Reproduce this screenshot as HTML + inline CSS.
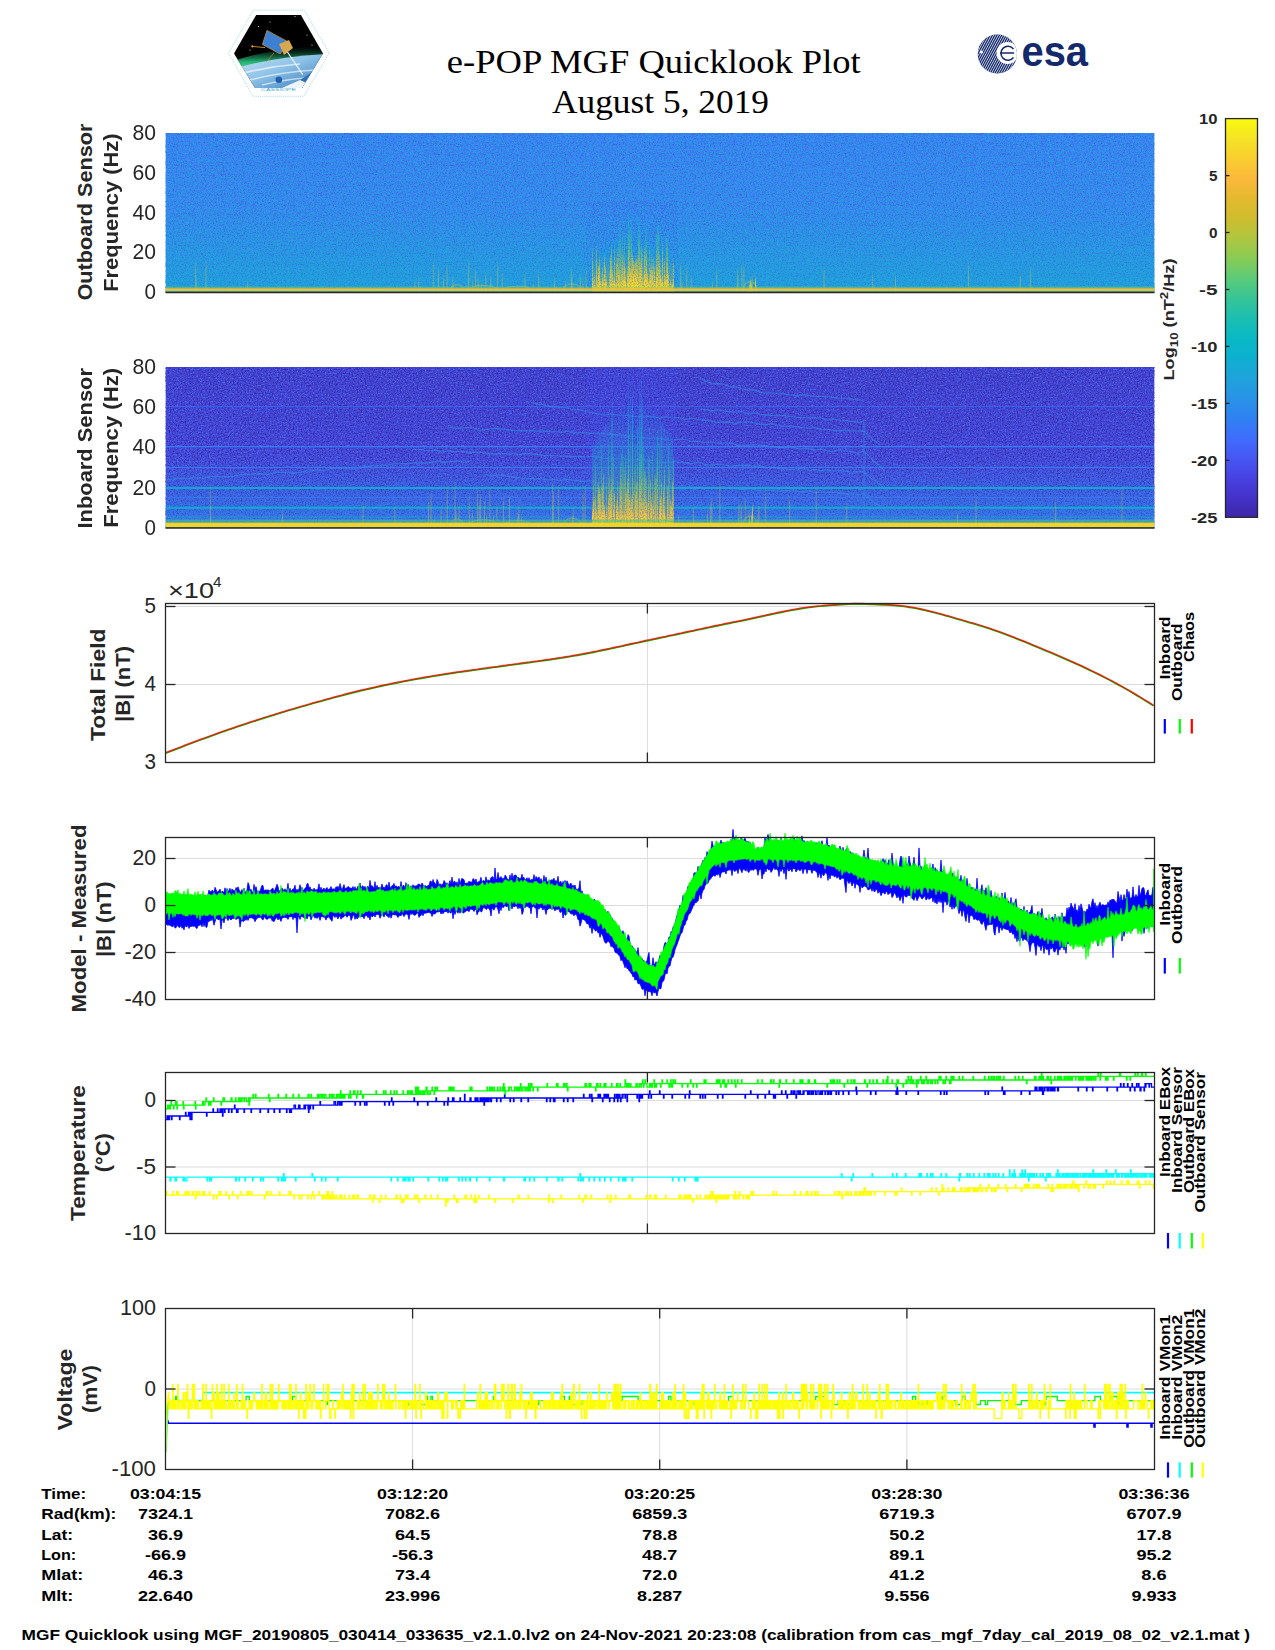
<!DOCTYPE html>
<html><head><meta charset="utf-8"><title>e-POP MGF Quicklook Plot</title>
<style>html,body{margin:0;padding:0;background:#fff;overflow:hidden}svg{display:block}text{font-family:"Liberation Sans",sans-serif}</style>
</head><body>
<svg width="1275" height="1650" viewBox="0 0 1275 1650">
<rect width="1275" height="1650" fill="#fff"/>

<defs>
<linearGradient id="cbar" x1="0" y1="1" x2="0" y2="0"><stop offset="0.0" stop-color="#3E26A8"/><stop offset="0.05" stop-color="#4432C9"/><stop offset="0.1" stop-color="#4742E2"/><stop offset="0.15" stop-color="#4758F2"/><stop offset="0.2" stop-color="#3E6EFD"/><stop offset="0.25" stop-color="#2F82F2"/><stop offset="0.3" stop-color="#2893E6"/><stop offset="0.35" stop-color="#1FA3DB"/><stop offset="0.4" stop-color="#0DB0D0"/><stop offset="0.45" stop-color="#08B9C4"/><stop offset="0.5" stop-color="#1DBFB0"/><stop offset="0.55" stop-color="#37C597"/><stop offset="0.6" stop-color="#5CCB78"/><stop offset="0.65" stop-color="#8ACC55"/><stop offset="0.7" stop-color="#AFC640"/><stop offset="0.75" stop-color="#CFBD2E"/><stop offset="0.8" stop-color="#E4B92E"/><stop offset="0.85" stop-color="#FCB93C"/><stop offset="0.9" stop-color="#F9CE2F"/><stop offset="0.95" stop-color="#F5E325"/><stop offset="1.0" stop-color="#F9FB0E"/></linearGradient>
<filter id="nzT" x="0" y="0" width="100%" height="100%" color-interpolation-filters="sRGB"><feTurbulence type="fractalNoise" baseFrequency="0.75" numOctaves="1" seed="3"/><feColorMatrix type="matrix" values="0 0 0 0 0.1 0 0 0 0 0.68 0 0 0 0 0.84 4.0 0 0 0 -1.75"/></filter>
<filter id="nzP" x="0" y="0" width="100%" height="100%" color-interpolation-filters="sRGB"><feTurbulence type="fractalNoise" baseFrequency="0.75" numOctaves="1" seed="7"/><feColorMatrix type="matrix" values="0 0 0 0 0.28 0 0 0 0 0.34 0 0 0 0 0.98 3.5 0 0 0 -1.6"/></filter>
<filter id="nzD" x="0" y="0" width="100%" height="100%" color-interpolation-filters="sRGB"><feTurbulence type="fractalNoise" baseFrequency="0.9" numOctaves="1" seed="11"/><feColorMatrix type="matrix" values="0 0 0 0 0.24 0 0 0 0 0.15 0 0 0 0 0.6 6.0 0 0 0 -3.5"/></filter>
<filter id="nzL" x="0" y="0" width="100%" height="100%" color-interpolation-filters="sRGB"><feTurbulence type="fractalNoise" baseFrequency="0.75" numOctaves="1" seed="5"/><feColorMatrix type="matrix" values="0 0 0 0 0.29 0 0 0 0 0.45 0 0 0 0 0.97 3.5 0 0 0 -1.6"/></filter>
<filter id="nzQ" x="0" y="0" width="100%" height="100%" color-interpolation-filters="sRGB"><feTurbulence type="fractalNoise" baseFrequency="0.75" numOctaves="1" seed="9"/><feColorMatrix type="matrix" values="0 0 0 0 0.22 0 0 0 0 0.14 0 0 0 0 0.62 4.0 0 0 0 -1.9"/></filter>
<linearGradient id="bo" gradientUnits="userSpaceOnUse" x1="0" y1="292.5" x2="0" y2="200"><stop offset="0" stop-color="#FFE81A"/><stop offset="0.12" stop-color="#F5D22A"/><stop offset="0.3" stop-color="#B8C840"/><stop offset="0.5" stop-color="#45C58C"/><stop offset="0.75" stop-color="#14B2CE" stop-opacity="0.8"/><stop offset="1" stop-color="#2893E6" stop-opacity="0"/></linearGradient>
<linearGradient id="bi" gradientUnits="userSpaceOnUse" x1="0" y1="528" x2="0" y2="367"><stop offset="0" stop-color="#FFE81A"/><stop offset="0.08" stop-color="#F5C83A"/><stop offset="0.22" stop-color="#A8C848"/><stop offset="0.38" stop-color="#35C498"/><stop offset="0.6" stop-color="#12AED0" stop-opacity="0.85"/><stop offset="1" stop-color="#2F82F2" stop-opacity="0"/></linearGradient>
<linearGradient id="lowO" x1="0" y1="0" x2="0" y2="1"><stop offset="0" stop-color="#1AA8D8" stop-opacity="0"/><stop offset="1" stop-color="#12AED0" stop-opacity="0.35"/></linearGradient>
<linearGradient id="lowI" x1="0" y1="0" x2="0" y2="1"><stop offset="0" stop-color="#2F82F2" stop-opacity="0"/><stop offset="1" stop-color="#2893E6" stop-opacity="0.55"/></linearGradient>
<filter id="bl" x="-5%" y="-20%" width="110%" height="140%"><feGaussianBlur stdDeviation="0.35 2.5"/></filter>
<linearGradient id="glowO" x1="0" y1="0" x2="0" y2="1"><stop offset="0" stop-color="#14B2CE" stop-opacity="0"/><stop offset="0.45" stop-color="#14B2CE" stop-opacity="0.6"/><stop offset="0.75" stop-color="#8ACC55" stop-opacity="0.7"/><stop offset="1" stop-color="#F5C83A" stop-opacity="0.9"/></linearGradient>
<linearGradient id="glowI" x1="0" y1="0" x2="0" y2="1"><stop offset="0" stop-color="#2893E6" stop-opacity="0"/><stop offset="0.4" stop-color="#12AED0" stop-opacity="0.6"/><stop offset="0.75" stop-color="#45C58C" stop-opacity="0.7"/><stop offset="1" stop-color="#F5C83A" stop-opacity="0.9"/></linearGradient>
<linearGradient id="obg" x1="0" y1="0" x2="0" y2="1"><stop offset="0" stop-color="#3F84F8"/><stop offset="0.45" stop-color="#3A8CF2"/><stop offset="1" stop-color="#24A2DE"/></linearGradient>
<linearGradient id="ibg" x1="0" y1="0" x2="0" y2="1"><stop offset="0" stop-color="#4240D2"/><stop offset="0.5" stop-color="#4446DA"/><stop offset="1" stop-color="#3F62EC"/></linearGradient>
<clipPath id="c1"><rect x="165.5" y="133" width="989" height="159.5"/></clipPath>
<clipPath id="c2"><rect x="165.5" y="367" width="989" height="161"/></clipPath>
</defs>
<text x="653.8" y="72.9" font-size="34.5" text-anchor="middle" textLength="414" lengthAdjust="spacingAndGlyphs" style='font-family:"Liberation Serif", serif'>e-POP MGF Quicklook Plot</text>
<text x="660.5" y="112.5" font-size="34.5" text-anchor="middle" textLength="217" lengthAdjust="spacingAndGlyphs" style='font-family:"Liberation Serif", serif'>August 5, 2019</text>
<defs><clipPath id="hexc"><polygon points="256.2,14.9 300.9,14.9 323,53.5 302,88 255,88 234,53.5"/></clipPath><linearGradient id="earth" x1="0" y1="0" x2="1" y2="1"><stop offset="0" stop-color="#cfe6f5"/><stop offset="0.45" stop-color="#8fc3e8"/><stop offset="1" stop-color="#2a6fb5"/></linearGradient><linearGradient id="aur" x1="0" y1="0" x2="0" y2="1"><stop offset="0" stop-color="#0b3d2a" stop-opacity="0"/><stop offset="0.6" stop-color="#22b070"/><stop offset="1" stop-color="#7fe0b0"/></linearGradient><clipPath id="esac"><circle cx="997.3" cy="54" r="19.6"/></clipPath></defs>
<polygon points="253.4,10.2 304.2,10.2 329.2,53 303.8,96.3 252.9,96.3 228.5,53" fill="#fff" stroke="#a8d8ea" stroke-width="0.9" stroke-dasharray="1.2,0.9"/>
<g clip-path="url(#hexc)">
<rect x="230" y="12" width="96" height="80" fill="#000"/>
<path d="M230,62 Q275,47 326,46 L326,56 Q275,58 230,72 Z" fill="url(#aur)"/>
<path d="M230,70 Q275,56 326,54 L326,92 L230,92 Z" fill="url(#earth)"/>
<path d="M240,74 Q270,66 300,64 M250,80 Q280,72 315,70 M262,85 Q290,78 320,77" stroke="#ffffff" stroke-width="1.6" fill="none" opacity="0.6"/>
<path d="M282,88 Q300,80 316,73 L322,88 Z" fill="#fff" opacity="0.9"/>
<path d="M300,80 L314,71 L313,86 Z" fill="#2f6fb8"/>
<circle cx="258.5" cy="26.5" r="0.5" fill="#fff"/>
<circle cx="295" cy="16.5" r="0.5" fill="#fff"/>
<circle cx="307" cy="35" r="0.5" fill="#fff"/>
<circle cx="250" cy="50" r="0.5" fill="#fff"/>
<circle cx="282" cy="40" r="0.5" fill="#fff"/>
<circle cx="270" cy="22" r="0.5" fill="#fff"/>
<circle cx="312" cy="45" r="0.5" fill="#fff"/>
<line x1="286" y1="50" x2="302.8" y2="74.6" stroke="#e8f4ff" stroke-width="1.2"/>
<line x1="252" y1="46.4" x2="265" y2="47.6" stroke="#c08030" stroke-width="1"/>
<circle cx="252.3" cy="46.4" r="1.1" fill="#f0a040"/>
<polygon points="267,30.4 287.8,41.7 280.2,53.9 262.4,44.5" fill="#3d7fd0" stroke="#c89040" stroke-width="0.8"/>
<polygon points="279,44 289,40 293,48 284,55" fill="#d8a850"/>
<line x1="274" y1="53" x2="266" y2="62" stroke="#c08030" stroke-width="0.8"/>
<circle cx="278.8" cy="79.8" r="3.3" fill="#1e5fb0"/>
</g>
<text x="261" y="90.6" font-size="4.2" fill="#38a8d8" textLength="35" lengthAdjust="spacingAndGlyphs">CASSIOPE</text>
<g clip-path="url(#esac)"><rect x="976" y="33" width="43" height="43" fill="#13296b"/>
<path d="M955.7,80 L983.7,28 M958.0,80 L986.0,28 M960.3,80 L988.3,28 M962.6,80 L990.6,28 M964.9,80 L992.9,28 M967.2,80 L995.2,28 M969.5,80 L997.5,28 M971.8,80 L999.8,28 M974.1,80 L1002.1,28 M976.4,80 L1004.4,28 M978.7,80 L1006.7,28 M981.0,80 L1009.0,28 M983.3,80 L1011.3,28 M985.6,80 L1013.6,28 M987.9,80 L1015.9,28 M990.2,80 L1018.2,28 M992.5,80 L1020.5,28 M994.8,80 L1022.8,28 M997.1,80 L1025.1,28 M999.4,80 L1027.4,28 M1001.7,80 L1029.7,28 M1004.0,80 L1032.0,28 M1006.3,80 L1034.3,28 M1008.6,80 L1036.6,28 M1010.9,80 L1038.9,28 M1013.2,80 L1041.2,28" stroke="#fff" stroke-width="0.75" fill="none"/>
<circle cx="1007.5" cy="53" r="11" fill="#fff"/>
<path d="M1000,53 H1014 M1013.5,49 A7,7 0 1 0 1013.5,57.5" stroke="#13296b" stroke-width="1.5" fill="none"/>
<circle cx="981.5" cy="52" r="1.6" fill="#fff"/>
</g>
<text x="1021.5" y="65.6" font-size="43" font-weight="bold" fill="#13296b" textLength="66.5" lengthAdjust="spacingAndGlyphs">esa</text>
<g clip-path="url(#c1)">
<rect x="165.5" y="133" width="989" height="159.5" fill="url(#obg)"/>
<rect x="165.5" y="133" width="989" height="159.5" filter="url(#nzT)"/>
<rect x="165.5" y="133" width="989" height="159.5" filter="url(#nzP)" opacity="0.75"/>
<rect x="165.5" y="133" width="989" height="159.5" filter="url(#nzD)" opacity="0.3"/>
<rect x="165.5" y="215" width="989" height="77.5" fill="url(#lowO)"/>
<g filter="url(#bl)">
<path d="M592,292.5 V262 Q635,205 673,255 V292.5 Z" fill="url(#glowO)" opacity="0.5"/>
<path d="M588,292.5V292H589V292H590V292H591V292H592V287H593V278H594V276H595V290H596V271H597V274H598V291H599V256H600V279H601V291H602V270H603V285H604V262H605V280H606V291H607V292H608V289H609V274H610V278H611V285H612V275H613V281H614V285H615V285H616V283H617V288H618V244H619V221H620V198H621V251H622V236H623V254H624V214H625V266H626V289H627V275H628V195H629V247H630V166H631V268H632V271H633V270H634V275H635V292H636V258H637V287H638V290H639V248H640V290H641V255H642V250H643V274H644V246H645V180H646V215H647V279H648V290H649V248H650V269H651V256H652V288H653V255H654V278H655V289H656V288H657V266H658V286H659V263H660V281H661V287H662V240H663V291H664V290H665V280H666V278H667V278H668V289H669V287H670V282H671V290H672V289H673V288H674V292H675V292H676V292.5Z" fill="url(#bo)" opacity="0.45"/>
<path d="M588,292.5V292H589V292H590V292H591V292H592V250H593V286H594V283H595V289H596V245H597V287H598V290H599V289H600V282H601V284H602V281H603V279H604V257H605V268H606V281H607V287H608V288H609V290H610V257H611V246H612V269H613V292H614V247H615V287H616V260H617V253H618V270H619V272H620V285H621V274H622V262H623V292H624V271H625V281H626V285H627V271H628V203H629V232H630V268H631V213H632V280H633V263H634V264H635V262H636V260H637V258H638V213H639V284H640V282H641V247H642V280H643V288H644V292H645V282H646V292H647V279H648V281H649V280H650V287H651V274H652V269H653V285H654V289H655V282H656V235H657V221H658V225H659V256H660V268H661V289H662V251H663V285H664V261H665V278H666V238H667V244H668V273H669V290H670V290H671V286H672V289H673V262H674V292H675V292H676V292.5Z" fill="url(#bo)" opacity="0.7"/>
<path d="M588,292.5V292H589V292H590V292H591V292H592V285H593V288H594V288H595V287H596V287H597V290H598V266H599V266H600V286H601V285H602V288H603V289H604V289H605V290H606V281H607V291H608V289H609V288H610V260H611V290H612V292H613V282H614V281H615V284H616V292H617V290H618V290H619V284H620V291H621V290H622V283H623V280H624V267H625V278H626V289H627V283H628V284H629V288H630V270H631V274H632V255H633V262H634V276H635V263H636V269H637V274H638V290H639V286H640V263H641V291H642V290H643V286H644V250H645V272H646V252H647V274H648V284H649V290H650V269H651V288H652V267H653V284H654V269H655V292H656V274H657V280H658V287H659V292H660V277H661V280H662V282H663V285H664V276H665V286H666V283H667V268H668V288H669V288H670V282H671V291H672V283H673V292H674V292H675V292H676V292.5Z" fill="url(#bo)" opacity="0.9"/>
<path d="M740,292.5V292H741V292H742V292H743V292H744V292H745V292H746V292H747V290H748V290H749V285H750V281H751V284H752V290H753V292H754V292H755V279H756V291H757V292H758V291H759V292H760V292.5Z" fill="url(#bo)" opacity="0.8"/>
<rect x="627.8" y="200" width="1.2" height="92" fill="url(#bo)" opacity="0.7"/>
<rect x="639" y="205" width="1.2" height="87" fill="url(#bo)" opacity="0.7"/>
</g>
<g filter="url(#bl)">
<path d="M582.4,292.5v-12h1v12zM468.0,292.5v-25h1v25zM443.0,292.5v-15h1v15zM432.9,292.5v-30h1v30zM579.7,292.5v-16h1v16zM437.9,292.5v-23h1v23zM554.0,292.5v-13h1v13zM446.5,292.5v-26h1v26zM565.1,292.5v-11h1v11zM418.3,292.5v-13h1v13zM477.4,292.5v-13h1v13zM481.2,292.5v-9h1v9zM585.7,292.5v-24h1v24zM571.4,292.5v-16h1v16zM478.0,292.5v-9h1v9zM485.3,292.5v-19h1v19zM538.2,292.5v-18h1v18zM524.5,292.5v-18h1v18zM570.7,292.5v-23h1v23zM533.1,292.5v-8h1v8zM501.8,292.5v-18h1v18zM571.9,292.5v-7h1v7zM468.2,292.5v-29h1v29zM474.9,292.5v-22h1v22zM472.0,292.5v-10h1v10zM497.1,292.5v-28h1v28zM414.3,292.5v-10h1v10zM490.4,292.5v-15h1v15zM465.6,292.5v-7h1v7zM452.3,292.5v-15h1v15zM737.4,292.5v-15h1v15zM686.2,292.5v-25h1v25zM741.3,292.5v-27h1v27zM711.9,292.5v-10h1v10zM743.4,292.5v-25h1v25zM690.6,292.5v-15h1v15zM751.8,292.5v-15h1v15zM737.1,292.5v-22h1v22zM680.1,292.5v-29h1v29zM716.3,292.5v-22h1v22zM681.5,292.5v-11h1v11zM736.7,292.5v-6h1v6zM205.4,292.5v-29h1v29zM247.2,292.5v-10h1v10zM195.7,292.5v-14h1v14zM195.1,292.5v-29h1v29zM968.1,292.5v-28h1v28zM1030.1,292.5v-24h1v24zM872.2,292.5v-17h1v17zM1019.8,292.5v-17h1v17zM823.6,292.5v-24h1v24zM895.0,292.5v-16h1v16z" fill="url(#bo)" opacity="0.35"/>
</g>
<path d="M451,288.5 C453.4,283.5 460.6,283.5 463,288.5 M469,288.5 C474.6,284.5 491.4,284.5 497,288.5 M505,288.5 C510.0,285.5 525.0,285.5 530,288.5 M563,288.5 C566.6,282.5 577.4,282.5 581,288.5 M743,288.5 C745.8,279.5 754.2,279.5 757,288.5" fill="none" stroke="#C8C840" stroke-width="1.2" opacity="0.5"/>
<rect x="586" y="200" width="92" height="92.5" filter="url(#nzP)" opacity="0.5"/>
<rect x="165.5" y="288.3" width="989" height="2.6" fill="#F7BE38"/>
<rect x="165.5" y="286.6" width="989" height="1.7" fill="#8ACC55" opacity="0.5"/>
<rect x="165.5" y="291.2" width="989" height="1.3" fill="#37C597" opacity="0.8"/>
</g>
<g clip-path="url(#c2)">
<rect x="165.5" y="367" width="989" height="161" fill="url(#ibg)"/>
<rect x="165.5" y="367" width="989" height="161" filter="url(#nzL)"/>
<rect x="165.5" y="367" width="989" height="161" filter="url(#nzQ)"/>
<rect x="165.5" y="460" width="989" height="68" fill="url(#lowI)"/>
<line x1="165.5" y1="406.5" x2="1154.5" y2="406.5" stroke="#3A73FC" stroke-width="1" opacity="0.6"/>
<line x1="165.5" y1="446.6" x2="1154.5" y2="446.6" stroke="#3A80F8" stroke-width="1.1" opacity="0.9"/>
<line x1="165.5" y1="467.5" x2="1154.5" y2="467.5" stroke="#3585F2" stroke-width="1.0" opacity="0.8"/>
<line x1="165.5" y1="488" x2="1154.5" y2="488" stroke="#0DB0D0" stroke-width="2" opacity="0.9"/>
<line x1="165.5" y1="497.4" x2="1154.5" y2="497.4" stroke="#3A80F8" stroke-width="1.0" opacity="0.7"/>
<line x1="165.5" y1="507.8" x2="1154.5" y2="507.8" stroke="#0DB0D0" stroke-width="2" opacity="0.95"/>
<line x1="165.5" y1="517" x2="1154.5" y2="517" stroke="#1FA3DB" stroke-width="1.5" opacity="0.5"/>
<path d="M167,479.3 173,479.2 179,478.1 185,478.4 191,478.1 197,477.5 203,478.4 209,476.9 215,476.3 221,476.5 227,476.9 234,476.1 240,474.9 246,474.3 252,474.0 258,473.8 264,474.1 270,474.1 276,471.9 282,472.9 288,472.0 294,472.7 300,472.5 306,471.0 312,470.7 319,469.9 325,470.2 331,468.5 337,468.3 344,468.1 350,468.7 356,468.9 362,467.0 368,465.8 375,466.0 381,465.0 387,465.3 393,463.8 400,463.8 406,463.5 412,463.3 418,462.7 425,463.3 431,462.4 438,461.0 444,462.4 451,461.5 457,461.0 464,462.1 470,461.0 M531,402.4 537,404.0 543,404.4 549,406.6 555,406.4 561,407.7 568,407.7 574,410.3 580,409.7 586,411.8 592,412.8 598,413.8 604,415.1 610,413.7 617,415.0 623,415.2 629,415.7 635,416.5 642,416.2 648,416.1 654,416.9 660,418.2 667,416.9 673,418.0 679,417.8 685,419.5 692,418.3 698,419.5 704,420.1 710,420.6 716,422.4 723,422.4 729,421.2 735,423.6 741,422.0 748,422.0 754,422.7 760,424.1 766,424.8 772,423.6 778,425.7 784,425.7 791,426.8 797,426.6 803,427.8 809,428.1 815,427.5 821,429.6 827,429.3 833,430.1 840,430.9 846,430.0 852,431.0 858,431.0 864,431.4 872,438.7 880,445.0 M448,427.2 454,428.1 460,428.4 466,427.8 472,427.6 478,430.3 484,429.9 490,428.8 496,428.6 502,429.2 508,429.9 514,430.6 520,430.8 526,430.8 532,430.6 538,431.1 544,431.1 550,431.6 556,431.8 562,432.4 568,431.3 574,432.4 580,432.7 586,432.5 592,433.4 598,433.1 604,433.6 610,434.4 617,434.9 623,435.3 629,436.8 635,436.8 642,437.5 648,438.0 654,438.0 660,438.4 667,440.0 673,439.8 679,439.4 685,439.5 692,441.4 698,441.3 704,442.1 710,442.2 716,442.8 723,443.3 729,443.1 735,444.3 741,445.3 748,445.6 754,444.5 760,445.2 766,445.6 772,446.6 778,447.6 784,447.6 791,446.7 797,448.2 803,449.0 809,448.6 815,450.3 821,449.1 827,450.6 833,451.6 840,449.8 846,450.7 852,451.6 858,453.6 864,450.9 871,458.3 877,464.2 884,470.0 M412,449.7 418,449.7 424,450.2 430,450.5 436,450.2 442,452.1 448,450.7 454,451.4 460,451.5 466,451.9 472,452.4 478,452.1 484,452.7 490,454.1 496,453.9 502,453.3 508,454.3 514,453.5 520,454.4 526,453.6 532,454.0 538,454.4 544,455.9 550,455.5 556,456.0 562,456.0 568,456.3 574,456.6 580,457.0 586,456.9 592,456.5 598,456.8 604,458.2 610,458.8 617,458.7 623,457.7 629,460.1 635,459.7 642,459.9 648,460.4 654,460.5 660,462.2 667,462.6 673,461.4 679,462.2 685,462.9 692,463.8 698,462.0 704,464.3 710,465.1 716,464.3 723,464.8 729,466.0 735,465.8 741,465.1 748,465.6 754,466.0 760,466.1 766,467.3 772,467.3 778,467.9 784,468.6 791,469.5 797,468.9 803,467.9 809,470.2 815,469.6 821,470.6 827,470.0 833,470.7 840,470.7 846,471.1 852,472.2 858,471.3 864,472.1 871,478.1 879,483.8 886,490.0 M485,474.2 491,476.1 498,474.5 504,475.7 510,476.7 516,477.6 523,478.3 529,478.6 535,478.9 541,478.7 548,480.0 554,479.5 560,480.7 566,479.1 573,480.2 579,480.8 585,481.6 591,480.5 598,482.8 604,483.3 610,483.5 617,483.0 623,484.5 629,483.6 635,484.7 642,484.5 648,484.8 654,485.0 660,485.4 667,486.4 673,486.9 679,487.1 685,487.1 692,487.2 698,487.4 704,488.5 710,487.4 716,487.6 723,488.3 729,487.6 735,488.7 741,489.1 748,488.8 754,489.4 760,490.4 766,490.1 772,490.5 778,491.3 784,490.6 791,490.5 797,491.4 803,491.9 809,490.8 815,492.5 821,492.2 827,492.3 833,492.3 840,492.9 846,493.9 852,493.8 858,494.2 864,493.8 870,499.4 876,503.8 882,507.5 888,512.0 M700,378.4 706,381.2 712,384.0 718,383.6 724,384.2 730,387.0 736,386.8 742,388.7 748,390.1 754,389.9 760,392.1 766,393.2 772,392.7 778,393.8 784,393.9 791,395.0 797,395.9 803,394.6 809,395.6 815,396.5 821,396.3 827,396.7 833,397.4 840,398.0 846,398.2 852,399.3 858,400.0 864,400.0 M700,409.4 706,409.9 712,410.7 718,409.7 724,410.9 730,411.6 736,412.3 742,411.5 748,414.1 754,413.0 760,414.2 766,414.9 772,415.6 778,415.0 784,415.6 791,416.6 797,417.2 803,417.8 809,417.7 815,417.8 821,417.9 827,420.2 833,418.8 840,420.5 846,420.8 852,421.5 858,422.1 864,422.0" fill="none" stroke="#2F9AE8" stroke-width="1.1" opacity="0.55"/>
<line x1="864" y1="420" x2="864" y2="528" stroke="#2893E6" stroke-width="1" opacity="0.6"/>
<g filter="url(#bl)">
<path d="M592,528 V450 Q632,360 673,440 V528 Z" fill="url(#glowI)" opacity="0.55"/>
<path d="M588,528V528H589V528H590V528H591V528H592V509H593V483H594V497H595V465H596V509H597V487H598V492H599V522H600V526H601V446H602V514H603V507H604V519H605V528H606V484H607V509H608V442H609V477H610V521H611V413H612V387H613V457H614V521H615V521H616V503H617V484H618V508H619V486H620V491H621V455H622V444H623V462H624V470H625V479H626V527H627V479H628V469H629V516H630V342H631V524H632V389H633V488H634V467H635V447H636V524H637V504H638V498H639V525H640V455H641V376H642V397H643V447H644V516H645V512H646V479H647V503H648V461H649V458H650V508H651V500H652V452H653V492H654V475H655V518H656V467H657V486H658V518H659V443H660V525H661V427H662V503H663V515H664V509H665V522H666V523H667V500H668V443H669V467H670V500H671V523H672V505H673V525H674V528H675V528H676V528Z" fill="url(#bi)" opacity="0.45"/>
<path d="M588,528V528H589V528H590V528H591V528H592V528H593V520H594V515H595V501H596V524H597V516H598V484H599V525H600V492H601V517H602V506H603V475H604V507H605V515H606V513H607V525H608V499H609V490H610V492H611V518H612V525H613V507H614V521H615V522H616V523H617V522H618V511H619V519H620V465H621V483H622V524H623V527H624V513H625V456H626V492H627V479H628V520H629V499H630V503H631V513H632V393H633V521H634V524H635V497H636V527H637V427H638V527H639V462H640V487H641V400H642V502H643V500H644V470H645V474H646V515H647V522H648V487H649V525H650V481H651V510H652V525H653V517H654V527H655V478H656V521H657V434H658V524H659V525H660V506H661V484H662V525H663V520H664V468H665V517H666V520H667V489H668V522H669V521H670V501H671V520H672V482H673V459H674V528H675V528H676V528Z" fill="url(#bi)" opacity="0.7"/>
<path d="M588,528V528H589V528H590V528H591V528H592V511H593V501H594V519H595V526H596V513H597V521H598V522H599V489H600V506H601V513H602V487H603V512H604V507H605V525H606V522H607V523H608V514H609V523H610V508H611V485H612V523H613V519H614V494H615V525H616V506H617V496H618V518H619V516H620V525H621V522H622V513H623V517H624V517H625V510H626V528H627V522H628V524H629V496H630V528H631V499H632V515H633V515H634V524H635V495H636V484H637V528H638V527H639V488H640V524H641V512H642V518H643V523H644V511H645V506H646V502H647V521H648V523H649V527H650V526H651V504H652V527H653V507H654V525H655V519H656V526H657V524H658V523H659V509H660V497H661V516H662V516H663V490H664V508H665V524H666V525H667V519H668V516H669V518H670V519H671V505H672V527H673V524H674V528H675V528H676V528Z" fill="url(#bi)" opacity="0.9"/>
<path d="M740,528V528H741V528H742V528H743V528H744V528H745V528H746V528H747V527H748V524H749V519H750V524H751V516H752V507H753V527H754V526H755V527H756V526H757V527H758V528H759V528H760V528Z" fill="url(#bi)" opacity="0.8"/>
<rect x="627.8" y="367" width="1.3" height="161" fill="url(#bi)" opacity="0.8"/>
<rect x="639.2" y="367" width="1.3" height="161" fill="url(#bi)" opacity="0.8"/>
</g>
<g filter="url(#bl)">
<path d="M518.4,528v-22h1v22zM471.8,528v-16h1v16zM458.6,528v-18h1v18zM502.9,528v-29h1v29zM440.5,528v-19h1v19zM480.0,528v-32h1v32zM446.8,528v-40h1v40zM430.5,528v-35h1v35zM584.7,528v-41h1v41zM557.9,528v-41h1v41zM582.5,528v-36h1v36zM484.0,528v-26h1v26zM455.4,528v-16h1v16zM571.8,528v-10h1v10zM454.5,528v-22h1v22zM486.1,528v-12h1v12zM521.0,528v-12h1v12zM446.6,528v-19h1v19zM496.4,528v-21h1v21zM552.0,528v-44h1v44zM517.2,528v-13h1v13zM468.7,528v-31h1v31zM434.0,528v-9h1v9zM489.4,528v-39h1v39zM492.8,528v-12h1v12zM458.5,528v-22h1v22zM478.8,528v-26h1v26zM477.1,528v-37h1v37zM428.0,528v-26h1v26zM572.7,528v-18h1v18zM552.9,528v-37h1v37zM518.2,528v-15h1v15zM454.6,528v-44h1v44zM509.0,528v-32h1v32zM678.1,528v-13h1v13zM756.5,528v-10h1v10zM748.5,528v-19h1v19zM693.0,528v-20h1v20zM758.4,528v-22h1v22zM711.3,528v-29h1v29zM758.1,528v-18h1v18zM719.3,528v-44h1v44zM710.1,528v-22h1v22zM707.1,528v-16h1v16zM738.4,528v-23h1v23zM740.6,528v-25h1v25zM744.8,528v-28h1v28zM740.8,528v-15h1v15zM281.9,528v-17h1v17zM394.3,528v-20h1v20zM210.0,528v-41h1v41zM362.5,528v-25h1v25zM1121.5,528v-39h1v39zM765.3,528v-36h1v36zM975.5,528v-29h1v29zM789.0,528v-30h1v30zM957.0,528v-15h1v15zM1055.2,528v-27h1v27zM815.7,528v-41h1v41zM846.2,528v-24h1v24z" fill="url(#bi)" opacity="0.35"/>
</g>
<path d="M451,523.5 C453.4,517.5 460.6,517.5 463,523.5 M469,523.5 C474.6,518.5 491.4,518.5 497,523.5 M505,523.5 C510.0,519.5 525.0,519.5 530,523.5 M563,523.5 C566.6,516.5 577.4,516.5 581,523.5 M743,523.5 C745.8,513.5 754.2,513.5 757,523.5" fill="none" stroke="#C8C840" stroke-width="1.2" opacity="0.5"/>
<rect x="586" y="367" width="92" height="161" filter="url(#nzP)" opacity="0.5"/>
<rect x="165.5" y="522.5" width="989" height="4.5" fill="#F5D22A"/>
<rect x="165.5" y="519.5" width="989" height="3" fill="#45C58C" opacity="0.6"/>
<rect x="165.5" y="527" width="989" height="1" fill="#37C597" opacity="0.8"/>
</g>
<rect x="1225.5" y="118.6" width="32" height="398.7" fill="url(#cbar)" stroke="#262626" stroke-width="1.3"/>
<text x="1217.5" y="124.1" font-size="15" font-weight="bold" text-anchor="end" textLength="18.5" lengthAdjust="spacingAndGlyphs" fill="#262626">10</text>
<line x1="1225.5" y1="175.6" x2="1229.5" y2="175.6" stroke="#262626" stroke-width="1.3"/>
<text x="1217.5" y="181.1" font-size="15" font-weight="bold" text-anchor="end" textLength="8.5" lengthAdjust="spacingAndGlyphs" fill="#262626">5</text>
<line x1="1225.5" y1="232.5" x2="1229.5" y2="232.5" stroke="#262626" stroke-width="1.3"/>
<text x="1217.5" y="238" font-size="15" font-weight="bold" text-anchor="end" textLength="8.5" lengthAdjust="spacingAndGlyphs" fill="#262626">0</text>
<line x1="1225.5" y1="289.5" x2="1229.5" y2="289.5" stroke="#262626" stroke-width="1.3"/>
<text x="1217.5" y="295" font-size="15" font-weight="bold" text-anchor="end" textLength="18.5" lengthAdjust="spacingAndGlyphs" fill="#262626">-5</text>
<line x1="1225.5" y1="346.4" x2="1229.5" y2="346.4" stroke="#262626" stroke-width="1.3"/>
<text x="1217.5" y="351.9" font-size="15" font-weight="bold" text-anchor="end" textLength="26.5" lengthAdjust="spacingAndGlyphs" fill="#262626">-10</text>
<line x1="1225.5" y1="403.4" x2="1229.5" y2="403.4" stroke="#262626" stroke-width="1.3"/>
<text x="1217.5" y="408.9" font-size="15" font-weight="bold" text-anchor="end" textLength="26.5" lengthAdjust="spacingAndGlyphs" fill="#262626">-15</text>
<line x1="1225.5" y1="460.3" x2="1229.5" y2="460.3" stroke="#262626" stroke-width="1.3"/>
<text x="1217.5" y="465.8" font-size="15" font-weight="bold" text-anchor="end" textLength="26.5" lengthAdjust="spacingAndGlyphs" fill="#262626">-20</text>
<text x="1217.5" y="522.8" font-size="15" font-weight="bold" text-anchor="end" textLength="26.5" lengthAdjust="spacingAndGlyphs" fill="#262626">-25</text>
<g transform="translate(1173.5,319.5) rotate(-90)"><text font-size="15" font-weight="bold" fill="#262626" text-anchor="middle" textLength="122" lengthAdjust="spacingAndGlyphs">Log<tspan font-size="11" dy="4">10</tspan><tspan dy="-4"> (nT</tspan><tspan font-size="11" dy="-6">2</tspan><tspan dy="6">/Hz)</tspan></text></g>
<line x1="165.5" y1="292.5" x2="1154.5" y2="292.5" stroke="#262626" stroke-width="1.3"/>
<text x="156" y="299.3" font-size="22" text-anchor="end" textLength="11.5" lengthAdjust="spacingAndGlyphs" fill="#262626">0</text>
<text x="156" y="259.4" font-size="22" text-anchor="end" textLength="23.5" lengthAdjust="spacingAndGlyphs" fill="#262626">20</text>
<text x="156" y="219.6" font-size="22" text-anchor="end" textLength="23.5" lengthAdjust="spacingAndGlyphs" fill="#262626">40</text>
<text x="156" y="179.7" font-size="22" text-anchor="end" textLength="23.5" lengthAdjust="spacingAndGlyphs" fill="#262626">60</text>
<text x="156" y="139.8" font-size="22" text-anchor="end" textLength="23.5" lengthAdjust="spacingAndGlyphs" fill="#262626">80</text>
<line x1="165.5" y1="528.0" x2="1154.5" y2="528.0" stroke="#262626" stroke-width="1.3"/>
<text x="156" y="534.8" font-size="22" text-anchor="end" textLength="11.5" lengthAdjust="spacingAndGlyphs" fill="#262626">0</text>
<text x="156" y="494.6" font-size="22" text-anchor="end" textLength="23.5" lengthAdjust="spacingAndGlyphs" fill="#262626">20</text>
<text x="156" y="454.3" font-size="22" text-anchor="end" textLength="23.5" lengthAdjust="spacingAndGlyphs" fill="#262626">40</text>
<text x="156" y="414.1" font-size="22" text-anchor="end" textLength="23.5" lengthAdjust="spacingAndGlyphs" fill="#262626">60</text>
<text x="156" y="373.8" font-size="22" text-anchor="end" textLength="23.5" lengthAdjust="spacingAndGlyphs" fill="#262626">80</text>
<text transform="translate(92.3,212) rotate(-90)" font-size="19.3" font-weight="bold" text-anchor="middle" textLength="177" lengthAdjust="spacingAndGlyphs" fill="#262626">Outboard Sensor</text>
<text transform="translate(117.8,212.6) rotate(-90)" font-size="19.3" font-weight="bold" text-anchor="middle" textLength="158.5" lengthAdjust="spacingAndGlyphs" fill="#262626">Frequency (Hz)</text>
<text transform="translate(92.3,448.3) rotate(-90)" font-size="19.3" font-weight="bold" text-anchor="middle" textLength="160.5" lengthAdjust="spacingAndGlyphs" fill="#262626">Inboard Sensor</text>
<text transform="translate(117.8,447.8) rotate(-90)" font-size="19.3" font-weight="bold" text-anchor="middle" textLength="160" lengthAdjust="spacingAndGlyphs" fill="#262626">Frequency (Hz)</text>
<line x1="165.5" y1="762.5" x2="1154.5" y2="762.5" stroke="#dcdcdc" stroke-width="1"/>
<line x1="165.5" y1="684.5" x2="1154.5" y2="684.5" stroke="#dcdcdc" stroke-width="1"/>
<line x1="165.5" y1="606.5" x2="1154.5" y2="606.5" stroke="#dcdcdc" stroke-width="1"/>
<line x1="647.4" y1="603.5" x2="647.4" y2="762.5" stroke="#dcdcdc" stroke-width="1"/>
<polyline points="165.5,753.4 169.5,751.8 173.5,750.3 177.5,748.7 181.5,747.2 185.5,745.6 189.5,744.1 193.5,742.6 197.5,741.1 201.5,739.6 205.5,738.2 209.5,736.7 213.5,735.3 217.5,733.8 221.5,732.4 225.5,731.0 229.5,729.6 233.5,728.3 237.5,726.9 241.5,725.5 245.5,724.2 249.5,722.9 253.5,721.6 257.5,720.3 261.5,719.0 265.5,717.7 269.5,716.5 273.5,715.3 277.5,714.0 281.5,712.8 285.5,711.6 289.5,710.4 293.5,709.2 297.5,708.0 301.5,706.9 305.5,705.7 309.5,704.6 313.5,703.4 317.5,702.3 321.5,701.2 325.5,700.0 329.5,699.0 333.5,697.9 337.5,696.8 341.5,695.8 345.5,694.7 349.5,693.7 353.5,692.7 357.5,691.7 361.5,690.7 365.5,689.8 369.5,688.9 373.5,688.0 377.5,687.1 381.5,686.2 385.5,685.3 389.5,684.5 393.5,683.7 397.5,682.9 401.5,682.1 405.5,681.3 409.5,680.6 413.5,679.8 417.5,679.1 421.5,678.4 425.5,677.7 429.5,677.0 433.5,676.3 437.5,675.7 441.5,675.0 445.5,674.4 449.5,673.8 453.5,673.2 457.5,672.6 461.5,672.0 465.5,671.4 469.5,670.9 473.5,670.3 477.5,669.8 481.5,669.2 485.5,668.7 489.5,668.1 493.5,667.5 497.5,667.0 501.5,666.4 505.5,665.9 509.5,665.3 513.5,664.8 517.5,664.3 521.5,663.7 525.5,663.2 529.5,662.7 533.5,662.1 537.5,661.6 541.5,661.0 545.5,660.4 549.5,659.9 553.5,659.3 557.5,658.7 561.5,658.1 565.5,657.4 569.5,656.8 573.5,656.1 577.5,655.4 581.5,654.7 585.5,653.9 589.5,653.2 593.5,652.4 597.5,651.6 601.5,650.7 605.5,649.9 609.5,649.1 613.5,648.2 617.5,647.3 621.5,646.5 625.5,645.6 629.5,644.7 633.5,643.8 637.5,643.0 641.5,642.1 645.5,641.2 649.5,640.4 653.5,639.5 657.5,638.7 661.5,637.8 665.5,637.0 669.5,636.1 673.5,635.3 677.5,634.4 681.5,633.6 685.5,632.7 689.5,631.8 693.5,631.0 697.5,630.1 701.5,629.3 705.5,628.4 709.5,627.6 713.5,626.7 717.5,625.9 721.5,625.1 725.5,624.2 729.5,623.4 733.5,622.6 737.5,621.8 741.5,621.0 745.5,620.2 749.5,619.3 753.5,618.4 757.5,617.5 761.5,616.7 765.5,615.8 769.5,614.9 773.5,614.1 777.5,613.2 781.5,612.4 785.5,611.6 789.5,610.8 793.5,610.1 797.5,609.4 801.5,608.7 805.5,608.1 809.5,607.6 813.5,607.1 817.5,606.6 821.5,606.3 825.5,605.9 829.5,605.6 833.5,605.3 837.5,605.0 841.5,604.7 845.5,604.5 849.5,604.3 853.5,604.2 857.5,604.2 861.5,604.2 865.5,604.3 869.5,604.4 873.5,604.5 877.5,604.7 881.5,604.9 885.5,605.1 889.5,605.3 893.5,605.6 897.5,605.9 901.5,606.3 905.5,606.8 909.5,607.4 913.5,608.1 917.5,608.8 921.5,609.7 925.5,610.6 929.5,611.5 933.5,612.5 937.5,613.6 941.5,614.6 945.5,615.8 949.5,616.9 953.5,618.0 957.5,619.2 961.5,620.4 965.5,621.5 969.5,622.7 973.5,623.8 977.5,625.0 981.5,626.2 985.5,627.5 989.5,628.8 993.5,630.2 997.5,631.6 1001.5,633.0 1005.5,634.5 1009.5,636.1 1013.5,637.6 1017.5,639.2 1021.5,640.8 1025.5,642.4 1029.5,644.0 1033.5,645.7 1037.5,647.4 1041.5,649.0 1045.5,650.7 1049.5,652.4 1053.5,654.0 1057.5,655.7 1061.5,657.5 1065.5,659.2 1069.5,661.0 1073.5,662.8 1077.5,664.6 1081.5,666.4 1085.5,668.3 1089.5,670.2 1093.5,672.2 1097.5,674.1 1101.5,676.1 1105.5,678.2 1109.5,680.2 1113.5,682.3 1117.5,684.5 1121.5,686.7 1125.5,688.9 1129.5,691.2 1133.5,693.6 1137.5,696.0 1141.5,698.4 1145.5,700.9 1149.5,703.3 1153.5,705.9" fill="none" stroke="#00c000" stroke-width="1.5"/>
<polyline points="165.5,752.8 169.5,751.2 173.5,749.7 177.5,748.1 181.5,746.6 185.5,745.0 189.5,743.5 193.5,742.0 197.5,740.5 201.5,739.0 205.5,737.6 209.5,736.1 213.5,734.7 217.5,733.2 221.5,731.8 225.5,730.4 229.5,729.0 233.5,727.7 237.5,726.3 241.5,724.9 245.5,723.6 249.5,722.3 253.5,721.0 257.5,719.7 261.5,718.4 265.5,717.1 269.5,715.9 273.5,714.7 277.5,713.4 281.5,712.2 285.5,711.0 289.5,709.8 293.5,708.6 297.5,707.4 301.5,706.3 305.5,705.1 309.5,704.0 313.5,702.8 317.5,701.7 321.5,700.6 325.5,699.4 329.5,698.4 333.5,697.3 337.5,696.2 341.5,695.2 345.5,694.1 349.5,693.1 353.5,692.1 357.5,691.1 361.5,690.1 365.5,689.2 369.5,688.3 373.5,687.4 377.5,686.5 381.5,685.6 385.5,684.7 389.5,683.9 393.5,683.1 397.5,682.3 401.5,681.5 405.5,680.7 409.5,680.0 413.5,679.2 417.5,678.5 421.5,677.8 425.5,677.1 429.5,676.4 433.5,675.7 437.5,675.1 441.5,674.4 445.5,673.8 449.5,673.2 453.5,672.6 457.5,672.0 461.5,671.4 465.5,670.8 469.5,670.3 473.5,669.7 477.5,669.2 481.5,668.6 485.5,668.1 489.5,667.5 493.5,666.9 497.5,666.4 501.5,665.8 505.5,665.3 509.5,664.7 513.5,664.2 517.5,663.7 521.5,663.1 525.5,662.6 529.5,662.1 533.5,661.5 537.5,661.0 541.5,660.4 545.5,659.8 549.5,659.3 553.5,658.7 557.5,658.1 561.5,657.5 565.5,656.8 569.5,656.2 573.5,655.5 577.5,654.8 581.5,654.1 585.5,653.3 589.5,652.6 593.5,651.8 597.5,651.0 601.5,650.1 605.5,649.3 609.5,648.5 613.5,647.6 617.5,646.7 621.5,645.9 625.5,645.0 629.5,644.1 633.5,643.2 637.5,642.4 641.5,641.5 645.5,640.6 649.5,639.8 653.5,638.9 657.5,638.1 661.5,637.2 665.5,636.4 669.5,635.5 673.5,634.7 677.5,633.8 681.5,633.0 685.5,632.1 689.5,631.2 693.5,630.4 697.5,629.5 701.5,628.7 705.5,627.8 709.5,627.0 713.5,626.1 717.5,625.3 721.5,624.5 725.5,623.6 729.5,622.8 733.5,622.0 737.5,621.2 741.5,620.4 745.5,619.6 749.5,618.7 753.5,617.8 757.5,616.9 761.5,616.1 765.5,615.2 769.5,614.3 773.5,613.5 777.5,612.6 781.5,611.8 785.5,611.0 789.5,610.2 793.5,609.5 797.5,608.8 801.5,608.1 805.5,607.5 809.5,607.0 813.5,606.5 817.5,606.0 821.5,605.7 825.5,605.3 829.5,605.0 833.5,604.7 837.5,604.4 841.5,604.1 845.5,603.9 849.5,603.7 853.5,603.6 857.5,603.6 861.5,603.6 865.5,603.7 869.5,603.8 873.5,603.9 877.5,604.1 881.5,604.3 885.5,604.5 889.5,604.7 893.5,605.0 897.5,605.3 901.5,605.7 905.5,606.2 909.5,606.8 913.5,607.5 917.5,608.2 921.5,609.1 925.5,610.0 929.5,610.9 933.5,611.9 937.5,613.0 941.5,614.0 945.5,615.2 949.5,616.3 953.5,617.4 957.5,618.6 961.5,619.8 965.5,620.9 969.5,622.1 973.5,623.2 977.5,624.4 981.5,625.6 985.5,626.9 989.5,628.2 993.5,629.6 997.5,631.0 1001.5,632.4 1005.5,633.9 1009.5,635.5 1013.5,637.0 1017.5,638.6 1021.5,640.2 1025.5,641.8 1029.5,643.4 1033.5,645.1 1037.5,646.8 1041.5,648.4 1045.5,650.1 1049.5,651.8 1053.5,653.4 1057.5,655.1 1061.5,656.9 1065.5,658.6 1069.5,660.4 1073.5,662.2 1077.5,664.0 1081.5,665.8 1085.5,667.7 1089.5,669.6 1093.5,671.6 1097.5,673.5 1101.5,675.5 1105.5,677.6 1109.5,679.6 1113.5,681.7 1117.5,683.9 1121.5,686.1 1125.5,688.3 1129.5,690.6 1133.5,693.0 1137.5,695.4 1141.5,697.8 1145.5,700.3 1149.5,702.7 1153.5,705.3" fill="none" stroke="#ff0000" stroke-width="1.5" stroke-opacity="0.8"/>
<rect x="165.5" y="603.5" width="989.0" height="159.0" fill="none" stroke="#262626" stroke-width="1.3"/>
<line x1="165.5" y1="684.5" x2="175.5" y2="684.5" stroke="#262626" stroke-width="1.3"/>
<line x1="1144.5" y1="684.5" x2="1154.5" y2="684.5" stroke="#262626" stroke-width="1.3"/>
<line x1="165.5" y1="606.5" x2="175.5" y2="606.5" stroke="#262626" stroke-width="1.3"/>
<line x1="1144.5" y1="606.5" x2="1154.5" y2="606.5" stroke="#262626" stroke-width="1.3"/>
<line x1="647.4" y1="603.5" x2="647.4" y2="613.5" stroke="#262626" stroke-width="1.3"/>
<line x1="647.4" y1="752.5" x2="647.4" y2="762.5" stroke="#262626" stroke-width="1.3"/>
<text x="156" y="769.3" font-size="22" text-anchor="end" textLength="11.5" lengthAdjust="spacingAndGlyphs" fill="#262626">3</text>
<text x="156" y="691.3" font-size="22" text-anchor="end" textLength="11.5" lengthAdjust="spacingAndGlyphs" fill="#262626">4</text>
<text x="156" y="613.3" font-size="22" text-anchor="end" textLength="11.5" lengthAdjust="spacingAndGlyphs" fill="#262626">5</text>
<text x="168" y="598" font-size="22" textLength="46" lengthAdjust="spacingAndGlyphs" fill="#262626">&#215;10</text>
<text x="213" y="587" font-size="15.5" textLength="8.5" lengthAdjust="spacingAndGlyphs" fill="#262626">4</text>
<text transform="translate(105,684.8) rotate(-90)" font-size="19.3" font-weight="bold" text-anchor="middle" textLength="112.5" lengthAdjust="spacingAndGlyphs" fill="#262626">Total Field</text>
<text transform="translate(129.5,684) rotate(-90)" font-size="19.3" font-weight="bold" text-anchor="middle" textLength="76" lengthAdjust="spacingAndGlyphs" fill="#262626">|B| (nT)</text>
<text transform="translate(1170,648) rotate(-90)" font-size="15" font-weight="bold" text-anchor="middle" textLength="63" lengthAdjust="spacingAndGlyphs">Inboard</text>
<text transform="translate(1182,662.3) rotate(-90)" font-size="15" font-weight="bold" text-anchor="middle" textLength="77.5" lengthAdjust="spacingAndGlyphs">Outboard</text>
<text transform="translate(1194,636.9) rotate(-90)" font-size="15" font-weight="bold" text-anchor="middle" textLength="50" lengthAdjust="spacingAndGlyphs">Chaos</text>
<line x1="1164.8" y1="719" x2="1164.8" y2="733.6" stroke="#0000ff" stroke-width="2.2"/>
<line x1="1179.8" y1="719" x2="1179.8" y2="733.6" stroke="#00ff00" stroke-width="2.2"/>
<line x1="1191.8" y1="719" x2="1191.8" y2="733.6" stroke="#ff0000" stroke-width="2.2"/>
<line x1="165.5" y1="858.5" x2="1154.5" y2="858.5" stroke="#dcdcdc" stroke-width="1"/>
<line x1="165.5" y1="905.5" x2="1154.5" y2="905.5" stroke="#dcdcdc" stroke-width="1"/>
<line x1="165.5" y1="952.5" x2="1154.5" y2="952.5" stroke="#dcdcdc" stroke-width="1"/>
<line x1="647.4" y1="837.5" x2="647.4" y2="999.5" stroke="#dcdcdc" stroke-width="1"/>
<path d="M166,906.1 167,904.7 168,905.6 169,906.1 170,905.9 171,905.9 172,904.8 173,906.1 174,898.2 175,903.7 176,903.2 177,906.5 178,906.2 179,901.6 180,904.4 181,901.4 182,906.4 183,907.2 184,905.5 185,906.2 186,906.7 187,905.7 188,906.5 189,907.2 190,905.9 191,902.9 192,907.4 193,907.4 194,907.0 195,904.9 196,907.0 197,902.2 198,906.5 199,905.0 200,903.2 201,899.0 202,898.9 203,898.2 204,898.7 205,895.2 206,899.7 207,899.4 208,894.6 209,890.0 210,892.3 211,891.5 212,890.4 213,890.7 214,893.6 215,887.3 216,889.5 217,892.3 218,891.6 219,890.9 220,889.1 221,892.4 222,891.4 223,891.6 224,892.6 225,887.8 226,892.3 227,888.5 228,892.3 229,890.1 230,888.3 231,893.1 232,888.9 233,890.6 234,890.0 235,892.4 236,887.5 237,889.2 238,886.8 239,889.5 240,892.5 241,891.3 242,889.5 243,892.8 244,888.1 245,892.6 246,891.7 247,890.1 248,882.6 249,884.9 250,890.4 251,889.3 252,892.0 253,892.5 254,884.4 255,890.2 256,886.6 257,891.1 258,891.7 259,890.7 260,892.1 261,887.9 262,885.3 263,885.6 264,891.0 265,890.3 266,889.8 267,890.4 268,889.8 269,890.4 270,891.0 271,890.0 272,888.5 273,888.2 274,891.9 275,889.5 276,887.2 277,884.2 278,886.5 279,892.4 280,890.0 281,889.0 282,887.9 283,889.5 284,891.1 285,888.8 286,891.1 287,889.4 288,883.3 289,891.9 290,888.2 291,891.4 292,890.2 293,888.7 294,889.3 295,885.2 296,891.6 297,889.2 298,891.0 299,889.0 300,884.7 301,888.5 302,887.4 303,890.7 304,889.8 305,888.2 306,887.8 307,883.8 308,883.4 309,888.6 310,886.7 311,890.3 312,889.0 313,891.5 314,888.1 315,889.9 316,890.1 317,889.7 318,888.6 319,883.8 320,890.7 321,887.2 322,890.0 323,889.6 324,888.0 325,891.1 326,888.6 327,887.5 328,890.0 329,888.8 330,889.3 331,886.5 332,889.6 333,888.8 334,889.2 335,889.2 336,886.8 337,887.5 338,886.2 339,889.5 340,883.5 341,887.5 342,890.7 343,887.3 344,884.6 345,889.5 346,887.8 347,888.2 348,886.4 349,887.1 350,888.3 351,887.9 352,888.7 353,886.5 354,889.9 355,886.7 356,889.2 357,888.8 358,886.1 359,889.6 360,883.1 361,890.0 362,886.1 363,885.9 364,888.7 365,886.3 366,890.3 367,887.1 368,886.3 369,888.6 370,880.4 371,886.4 372,885.5 373,886.9 374,888.4 375,881.7 376,889.1 377,885.3 378,888.1 379,887.2 380,888.2 381,887.7 382,883.9 383,888.6 384,886.8 385,889.1 386,885.1 387,884.7 388,888.2 389,882.1 390,887.6 391,887.9 392,885.6 393,885.8 394,883.4 395,887.3 396,885.7 397,887.2 398,886.9 399,886.2 400,889.2 401,881.5 402,888.5 403,885.6 404,885.5 405,888.7 406,882.6 407,888.6 408,884.2 409,887.8 410,888.2 411,885.7 412,887.9 413,884.7 414,886.4 415,885.8 416,886.3 417,885.5 418,884.2 419,884.2 420,884.5 421,886.1 422,883.0 423,884.7 424,887.8 425,885.2 426,886.4 427,886.6 428,885.3 429,885.8 430,881.4 431,881.0 432,884.2 433,879.5 434,882.3 435,883.1 436,886.0 437,879.4 438,881.2 439,886.4 440,883.6 441,885.9 442,884.1 443,884.6 444,880.5 445,881.9 446,885.6 447,882.8 448,886.2 449,883.5 450,880.6 451,884.6 452,877.1 453,884.2 454,881.2 455,881.5 456,884.5 457,881.8 458,886.0 459,878.4 460,885.2 461,880.6 462,878.3 463,879.3 464,879.6 465,883.9 466,883.0 467,883.5 468,882.5 469,881.2 470,882.0 471,881.9 472,882.5 473,878.6 474,879.3 475,881.8 476,878.9 477,883.4 478,881.7 479,882.0 480,880.5 481,877.3 482,883.2 483,880.5 484,881.0 485,881.6 486,876.8 487,882.0 488,879.7 489,881.1 490,880.4 491,877.6 492,877.1 493,876.7 494,882.1 495,868.0 496,880.1 497,879.0 498,872.4 499,878.8 500,877.6 501,876.6 502,879.7 503,877.8 504,880.8 505,875.2 506,876.0 507,879.0 508,879.2 509,880.7 510,874.8 511,880.5 512,873.2 513,880.0 514,875.3 515,875.3 516,875.0 517,877.8 518,877.0 519,878.1 520,879.0 521,878.2 522,874.2 523,878.0 524,877.4 525,880.2 526,879.4 527,877.7 528,880.8 529,877.7 530,880.3 531,880.4 532,879.0 533,880.6 534,874.6 535,881.1 536,876.4 537,877.8 538,878.7 539,876.8 540,881.3 541,878.6 542,880.9 543,881.9 544,875.4 545,882.5 546,877.0 547,882.1 548,881.7 549,880.2 550,881.8 551,879.7 552,880.4 553,879.7 554,878.2 555,882.1 556,880.3 557,882.7 558,876.3 559,884.1 560,881.6 561,881.8 562,885.3 563,881.3 564,884.9 565,880.4 566,884.5 567,880.8 568,882.9 569,886.1 570,884.0 571,883.1 572,887.3 573,884.9 574,887.1 575,885.0 576,889.4 577,889.2 578,889.7 579,887.7 580,880.7 581,893.4 582,890.8 583,893.9 584,895.8 585,894.7 586,898.2 587,897.3 588,900.6 589,897.1 590,901.2 591,902.6 592,900.7 593,904.7 594,899.1 595,900.0 596,904.7 597,904.9 598,901.5 599,907.4 600,907.0 601,906.0 602,908.8 603,908.9 604,910.1 605,909.3 606,912.7 607,912.8 608,911.3 609,914.9 610,914.6 611,918.4 612,917.7 613,920.3 614,921.0 615,923.2 616,923.9 617,926.6 618,927.7 619,926.8 620,930.0 621,931.6 622,932.7 623,930.7 624,936.1 625,936.3 626,938.0 627,940.7 628,934.6 629,936.0 630,943.2 631,946.5 632,945.6 633,947.4 634,949.6 635,949.7 636,950.9 637,955.0 638,947.6 639,956.1 640,957.7 641,958.0 642,958.3 643,960.9 644,960.5 645,962.5 646,961.7 647,961.1 648,956.0 649,952.4 650,965.9 651,966.0 652,965.8 653,957.7 654,964.7 655,964.1 656,961.7 657,962.8 658,961.9 659,959.6 660,955.3 661,957.6 662,952.8 663,952.9 664,945.9 665,942.6 666,942.9 667,943.9 668,942.6 669,936.8 670,937.5 671,931.6 672,932.2 673,927.3 674,925.7 675,923.6 676,919.3 677,915.6 678,912.2 679,909.3 680,905.1 681,907.3 682,904.4 683,895.4 684,897.0 685,896.9 686,893.5 687,891.3 688,886.1 689,886.8 690,884.4 691,883.1 692,880.0 693,879.8 694,872.7 695,873.3 696,872.6 697,873.5 698,866.4 699,870.1 700,867.3 701,866.5 702,863.2 703,860.2 704,861.0 705,857.4 706,858.8 707,851.6 708,854.6 709,854.2 710,851.4 711,849.0 712,841.2 713,845.4 714,848.2 715,846.9 716,845.4 717,845.9 718,843.9 719,845.9 720,844.2 721,840.1 722,843.9 723,842.1 724,843.5 725,844.4 726,844.4 727,842.1 728,842.1 729,843.2 730,842.7 731,839.4 732,841.8 733,829.4 734,841.9 735,836.9 736,839.7 737,840.4 738,842.3 739,840.1 740,841.6 741,837.7 742,838.5 743,842.5 744,839.3 745,838.2 746,840.8 747,841.9 748,841.3 749,842.5 750,842.2 751,845.0 752,847.2 753,847.7 754,849.0 755,849.2 756,849.6 757,850.1 758,847.3 759,849.9 760,849.4 761,848.3 762,849.4 763,847.8 764,846.6 765,837.7 766,842.9 767,838.5 768,834.4 769,839.0 770,842.5 771,841.5 772,840.9 773,840.9 774,841.5 775,840.7 776,840.9 777,841.4 778,840.5 779,841.2 780,841.7 781,838.0 782,842.2 783,841.2 784,842.6 785,841.2 786,841.3 787,841.7 788,842.7 789,842.5 790,841.6 791,842.6 792,842.2 793,841.2 794,837.3 795,841.9 796,839.8 797,843.0 798,842.5 799,842.9 800,840.4 801,839.7 802,835.9 803,842.6 804,840.4 805,842.8 806,843.1 807,841.5 808,841.4 809,843.4 810,843.1 811,843.7 812,842.6 813,844.4 814,843.2 815,844.1 816,842.4 817,844.5 818,843.0 819,844.7 820,845.1 821,845.8 822,840.7 823,846.6 824,845.2 825,846.8 826,846.4 827,837.9 828,846.6 829,845.1 830,847.5 831,847.3 832,848.4 833,849.2 834,845.5 835,849.6 836,848.4 837,849.8 838,849.6 839,850.1 840,846.0 841,851.4 842,850.3 843,847.3 844,852.6 845,851.9 846,849.3 847,848.2 848,853.8 849,853.7 850,851.3 851,852.8 852,853.6 853,853.1 854,854.8 855,857.0 856,856.2 857,856.3 858,856.0 859,857.8 860,858.1 861,858.7 862,858.8 863,857.3 864,850.0 865,858.0 866,857.9 867,859.0 868,848.1 869,861.7 870,860.7 871,860.0 872,861.0 873,862.0 874,861.2 875,860.8 876,861.0 877,863.1 878,862.8 879,863.5 880,862.5 881,861.6 882,864.5 883,858.6 884,863.5 885,859.6 886,863.5 887,864.5 888,863.1 889,859.6 890,865.1 891,864.7 892,853.1 893,862.8 894,866.9 895,867.3 896,867.4 897,867.5 898,868.3 899,868.2 900,859.6 901,856.0 902,859.0 903,864.8 904,866.4 905,868.2 906,865.1 907,863.8 908,866.0 909,856.0 910,861.7 911,867.9 912,868.2 913,865.6 914,857.2 915,867.1 916,870.4 917,870.6 918,869.5 919,847.9 920,866.2 921,866.0 922,870.1 923,871.4 924,868.3 925,870.7 926,871.8 927,869.1 928,872.0 929,870.7 930,870.2 931,872.3 932,868.2 933,863.9 934,872.8 935,867.6 936,869.9 937,870.1 938,872.0 939,872.5 940,872.1 941,860.1 942,872.8 943,870.9 944,871.0 945,874.3 946,875.8 947,874.2 948,875.8 949,875.7 950,872.7 951,877.6 952,872.8 953,875.0 954,875.9 955,876.6 956,878.0 957,880.0 958,881.0 959,878.8 960,882.3 961,875.3 962,884.6 963,879.7 964,883.4 965,886.0 966,887.2 967,878.4 968,887.6 969,886.6 970,887.5 971,888.3 972,887.2 973,890.9 974,890.7 975,888.8 976,893.0 977,878.2 978,891.4 979,892.1 980,894.1 981,889.2 982,884.7 983,894.9 984,890.1 985,892.8 986,887.7 987,896.7 988,892.0 989,890.8 990,898.0 991,890.4 992,897.0 993,899.2 994,898.2 995,898.2 996,896.1 997,899.4 998,900.7 999,897.6 1000,901.2 1001,900.9 1002,892.9 1003,898.4 1004,900.2 1005,892.4 1006,901.7 1007,904.2 1008,900.6 1009,902.2 1010,905.3 1011,897.5 1012,905.6 1013,902.6 1014,907.1 1015,901.6 1016,898.7 1017,907.9 1018,910.8 1019,909.3 1020,910.4 1021,908.9 1022,909.9 1023,912.7 1024,906.4 1025,913.4 1026,914.0 1027,910.0 1028,914.4 1029,912.5 1030,912.4 1031,909.8 1032,905.5 1033,917.2 1034,913.2 1035,914.8 1036,917.6 1037,914.1 1038,911.5 1039,917.2 1040,912.9 1041,914.1 1042,908.3 1043,918.5 1044,918.4 1045,921.4 1046,917.7 1047,920.5 1048,919.7 1049,921.0 1050,918.4 1051,921.4 1052,917.0 1053,917.3 1054,922.9 1055,914.1 1056,917.4 1057,921.6 1058,920.1 1059,916.6 1060,920.7 1061,917.0 1062,912.8 1063,918.4 1064,916.3 1065,917.6 1066,916.2 1067,907.8 1068,912.8 1069,907.2 1070,909.6 1071,903.1 1072,906.4 1073,907.2 1074,911.2 1075,903.6 1076,911.0 1077,909.7 1078,913.3 1079,905.6 1080,911.8 1081,903.8 1082,907.5 1083,912.0 1084,911.5 1085,911.5 1086,912.4 1087,909.1 1088,910.4 1089,904.2 1090,907.0 1091,908.3 1092,901.4 1093,898.8 1094,907.3 1095,902.7 1096,908.7 1097,905.5 1098,908.7 1099,904.3 1100,902.2 1101,905.7 1102,904.7 1103,905.1 1104,904.9 1105,906.1 1106,904.6 1107,905.8 1108,901.8 1109,904.9 1110,899.9 1111,901.1 1112,899.0 1113,900.0 1114,899.4 1115,901.0 1116,903.1 1117,902.5 1118,891.4 1119,896.8 1120,901.9 1121,894.7 1122,900.6 1123,900.6 1124,894.5 1125,899.9 1126,897.9 1127,889.2 1128,896.9 1129,891.4 1130,898.7 1131,897.9 1132,897.6 1133,886.9 1134,897.0 1135,897.2 1136,894.5 1137,897.1 1138,896.2 1139,885.3 1140,895.7 1141,893.1 1142,888.4 1143,887.4 1144,888.2 1145,895.5 1146,895.3 1147,892.0 1148,889.8 1149,895.7 1150,895.3 1151,896.2 1152,893.9 1153,887.2 1154,896.0 L1154,923.3 1153,925.0 1152,927.1 1151,924.7 1150,924.2 1149,922.9 1148,924.1 1147,928.6 1146,925.4 1145,924.5 1144,933.4 1143,922.9 1142,923.1 1141,924.9 1140,925.9 1139,923.6 1138,925.1 1137,923.9 1136,928.2 1135,926.1 1134,926.6 1133,927.6 1132,930.8 1131,926.7 1130,925.7 1129,925.8 1128,927.5 1127,927.8 1126,928.9 1125,932.1 1124,936.5 1123,931.2 1122,941.1 1121,927.8 1120,928.5 1119,931.9 1118,929.2 1117,929.2 1116,931.9 1115,932.3 1114,932.0 1113,957.8 1112,935.4 1111,931.6 1110,935.2 1109,933.2 1108,932.2 1107,935.4 1106,932.6 1105,935.6 1104,936.4 1103,937.3 1102,934.8 1101,934.9 1100,938.9 1099,935.0 1098,946.1 1097,935.6 1096,936.4 1095,938.7 1094,939.2 1093,937.5 1092,939.8 1091,938.5 1090,940.2 1089,942.3 1088,939.3 1087,939.7 1086,939.3 1085,947.3 1084,942.5 1083,941.5 1082,939.5 1081,939.9 1080,939.8 1079,941.4 1078,940.6 1077,939.7 1076,941.0 1075,939.4 1074,943.1 1073,941.2 1072,939.0 1071,939.9 1070,940.1 1069,942.1 1068,944.0 1067,942.2 1066,953.3 1065,945.2 1064,950.0 1063,944.3 1062,948.1 1061,945.6 1060,950.1 1059,948.3 1058,955.1 1057,948.0 1056,948.8 1055,951.9 1054,951.9 1053,948.4 1052,947.1 1051,949.2 1050,947.0 1049,955.2 1048,948.7 1047,949.7 1046,948.9 1045,946.1 1044,953.5 1043,945.8 1042,945.2 1041,950.7 1040,946.1 1039,946.7 1038,945.2 1037,944.2 1036,955.5 1035,947.6 1034,942.1 1033,942.9 1032,942.6 1031,945.1 1030,951.7 1029,945.1 1028,940.7 1027,941.2 1026,938.9 1025,939.8 1024,938.1 1023,940.8 1022,938.2 1021,937.2 1020,940.7 1019,941.0 1018,934.9 1017,941.7 1016,935.3 1015,938.6 1014,932.7 1013,934.5 1012,932.8 1011,931.2 1010,933.0 1009,930.6 1008,929.6 1007,929.4 1006,929.4 1005,928.5 1004,928.8 1003,926.9 1002,930.4 1001,927.2 1000,927.6 999,933.1 998,925.8 997,926.3 996,926.6 995,935.2 994,932.7 993,923.3 992,924.6 991,923.9 990,924.9 989,923.8 988,925.5 987,924.3 986,930.3 985,926.7 984,920.7 983,922.1 982,924.5 981,923.5 980,921.0 979,919.6 978,920.1 977,920.2 976,919.0 975,918.5 974,919.8 973,916.8 972,915.6 971,915.0 970,916.0 969,922.9 968,913.0 967,913.8 966,921.5 965,917.5 964,910.1 963,911.0 962,916.4 961,909.8 960,910.5 959,913.7 958,908.2 957,906.7 956,905.2 955,907.1 954,908.7 953,904.0 952,909.3 951,904.6 950,907.1 949,901.4 948,901.3 947,905.1 946,900.9 945,902.3 944,899.4 943,912.6 942,899.5 941,902.7 940,899.1 939,902.4 938,898.5 937,904.1 936,901.6 935,903.1 934,897.8 933,901.9 932,896.8 931,898.1 930,898.2 929,899.5 928,896.8 927,899.0 926,900.1 925,896.0 924,896.4 923,898.3 922,899.0 921,897.4 920,895.8 919,896.2 918,898.7 917,900.7 916,897.3 915,896.4 914,900.4 913,899.0 912,898.1 911,895.7 910,894.8 909,896.0 908,894.3 907,896.8 906,897.0 905,896.2 904,893.7 903,903.4 902,895.1 901,897.7 900,900.7 899,897.2 898,895.5 897,898.0 896,895.6 895,892.7 894,893.2 893,896.3 892,897.6 891,892.3 890,893.1 889,893.4 888,894.7 887,891.6 886,891.3 885,894.2 884,893.3 883,892.3 882,893.4 881,895.7 880,892.5 879,891.0 878,893.3 877,889.4 876,889.2 875,891.5 874,891.5 873,887.9 872,891.3 871,887.9 870,888.9 869,889.4 868,890.0 867,887.9 866,886.6 865,886.2 864,885.7 863,887.3 862,887.8 861,884.7 860,892.4 859,885.5 858,885.2 857,884.2 856,883.3 855,888.3 854,882.3 853,883.2 852,886.0 851,882.7 850,880.8 849,883.6 848,881.6 847,879.4 846,892.6 845,885.9 844,877.9 843,878.3 842,878.0 841,878.7 840,879.9 839,877.6 838,876.4 837,878.3 836,875.5 835,876.8 834,876.6 833,875.1 832,875.4 831,874.5 830,878.9 829,874.0 828,880.5 827,874.3 826,872.8 825,872.7 824,875.5 823,875.3 822,872.5 821,878.2 820,874.4 819,872.7 818,877.5 817,872.1 816,871.8 815,870.3 814,870.4 813,869.9 812,873.4 811,870.5 810,869.5 809,869.9 808,869.2 807,873.6 806,868.9 805,869.0 804,869.3 803,873.7 802,869.1 801,868.7 800,871.1 799,869.2 798,869.3 797,870.6 796,872.0 795,868.7 794,868.5 793,868.3 792,871.8 791,869.5 790,868.9 789,871.2 788,869.8 787,868.1 786,879.4 785,868.4 784,873.7 783,869.1 782,868.9 781,871.6 780,868.2 779,876.5 778,870.0 777,869.7 776,868.4 775,869.8 774,867.6 773,868.7 772,871.0 771,872.4 770,868.7 769,870.2 768,869.0 767,868.0 766,871.9 765,868.7 764,874.1 763,873.6 762,879.0 761,869.4 760,868.9 759,870.5 758,875.4 757,869.9 756,868.8 755,868.8 754,869.6 753,870.4 752,868.7 751,870.6 750,868.7 749,872.4 748,871.9 747,868.1 746,871.2 745,870.0 744,869.6 743,869.0 742,872.7 741,870.5 740,868.6 739,868.2 738,873.6 737,870.1 736,869.7 735,871.6 734,870.7 733,869.0 732,875.6 731,868.8 730,870.4 729,869.4 728,870.8 727,869.9 726,874.0 725,871.3 724,872.0 723,871.9 722,871.8 721,873.7 720,877.5 719,871.9 718,875.1 717,874.6 716,874.3 715,876.4 714,874.5 713,876.1 712,876.5 711,878.3 710,879.7 709,880.1 708,883.4 707,883.0 706,884.6 705,885.5 704,889.6 703,890.3 702,893.2 701,899.1 700,893.8 699,895.9 698,901.2 697,901.1 696,903.0 695,902.3 694,905.1 693,906.6 692,908.9 691,911.3 690,913.5 689,913.6 688,915.9 687,920.3 686,921.0 685,925.0 684,925.3 683,929.1 682,932.8 681,933.3 680,935.9 679,939.0 678,941.8 677,944.7 676,946.9 675,949.7 674,954.3 673,957.3 672,957.3 671,961.1 670,966.0 669,966.1 668,968.3 667,974.0 666,972.6 665,974.9 664,979.9 663,981.6 662,982.3 661,988.5 660,988.9 659,987.8 658,991.4 657,996.0 656,993.3 655,992.3 654,993.1 653,991.3 652,995.8 651,992.0 650,991.6 649,991.1 648,992.2 647,990.0 646,990.3 645,995.8 644,988.5 643,989.3 642,989.1 641,986.3 640,983.8 639,983.6 638,983.7 637,980.3 636,979.0 635,980.3 634,976.2 633,977.1 632,973.9 631,973.3 630,971.0 629,970.9 628,968.3 627,968.7 626,965.0 625,967.8 624,964.4 623,961.7 622,958.9 621,960.8 620,956.7 619,955.1 618,954.5 617,952.9 616,952.7 615,952.1 614,947.9 613,947.6 612,945.8 611,946.8 610,943.0 609,942.1 608,940.7 607,942.5 606,943.3 605,942.6 604,940.1 603,936.5 602,934.1 601,933.6 600,937.4 599,931.7 598,933.1 597,929.6 596,931.2 595,930.4 594,929.2 593,927.2 592,933.5 591,925.7 590,928.3 589,925.2 588,922.9 587,924.1 586,921.9 585,920.2 584,919.9 583,919.0 582,919.0 581,923.3 580,926.2 579,919.4 578,919.7 577,915.8 576,914.6 575,913.8 574,915.9 573,914.2 572,913.5 571,914.2 570,912.1 569,912.1 568,911.1 567,910.9 566,915.1 565,915.1 564,912.6 563,918.1 562,910.4 561,912.1 560,912.4 559,909.1 558,908.9 557,909.5 556,909.0 555,910.9 554,909.2 553,908.2 552,909.4 551,907.9 550,908.6 549,907.9 548,909.5 547,909.5 546,914.5 545,910.1 544,907.7 543,910.1 542,908.3 541,906.9 540,907.2 539,909.2 538,907.2 537,918.1 536,907.6 535,908.2 534,906.1 533,906.4 532,906.7 531,913.8 530,907.3 529,907.9 528,906.1 527,906.5 526,906.0 525,907.8 524,906.4 523,912.4 522,914.5 521,906.5 520,908.5 519,906.0 518,908.7 517,906.2 516,905.8 515,906.2 514,907.0 513,905.5 512,909.0 511,905.1 510,906.2 509,910.8 508,905.6 507,906.7 506,906.5 505,905.4 504,906.8 503,907.8 502,906.1 501,910.6 500,906.5 499,913.8 498,909.5 497,906.9 496,906.7 495,907.3 494,910.2 493,908.5 492,908.0 491,916.0 490,909.9 489,909.1 488,907.2 487,908.9 486,909.4 485,908.1 484,907.6 483,907.8 482,911.4 481,912.1 480,909.0 479,911.4 478,912.4 477,914.8 476,908.9 475,909.4 474,911.5 473,909.9 472,909.2 471,909.2 470,909.1 469,911.7 468,910.7 467,910.5 466,910.9 465,912.0 464,912.4 463,913.2 462,912.1 461,910.1 460,913.3 459,910.2 458,913.2 457,912.0 456,910.4 455,914.5 454,911.4 453,918.8 452,910.6 451,913.0 450,912.7 449,911.2 448,913.2 447,911.0 446,911.9 445,911.3 444,911.9 443,913.8 442,912.5 441,913.9 440,911.4 439,911.5 438,912.1 437,911.7 436,912.7 435,914.0 434,913.8 433,913.8 432,916.5 431,913.1 430,913.1 429,912.3 428,912.4 427,912.8 426,913.0 425,913.3 424,913.0 423,915.8 422,913.0 421,915.4 420,915.7 419,917.5 418,913.2 417,912.7 416,914.4 415,915.2 414,915.1 413,914.0 412,913.6 411,914.6 410,913.6 409,919.5 408,915.1 407,914.0 406,913.9 405,914.8 404,916.6 403,914.7 402,913.5 401,915.9 400,915.1 399,916.0 398,917.5 397,915.7 396,914.8 395,914.7 394,914.9 393,914.1 392,915.5 391,918.2 390,914.2 389,917.7 388,916.0 387,916.2 386,914.4 385,914.0 384,917.1 383,914.9 382,914.2 381,916.1 380,918.3 379,915.1 378,914.1 377,914.5 376,914.6 375,917.0 374,914.9 373,916.2 372,917.0 371,914.9 370,920.0 369,916.4 368,917.7 367,915.2 366,916.0 365,915.5 364,918.8 363,916.0 362,917.1 361,915.9 360,916.9 359,914.9 358,918.0 357,918.9 356,916.2 355,919.4 354,914.8 353,915.3 352,918.3 351,920.4 350,915.0 349,915.3 348,915.5 347,917.3 346,915.6 345,915.2 344,916.5 343,917.6 342,917.0 341,919.2 340,916.1 339,916.3 338,918.9 337,917.3 336,915.3 335,917.5 334,915.5 333,915.7 332,921.3 331,919.8 330,918.7 329,916.1 328,917.8 327,917.0 326,920.1 325,917.9 324,916.4 323,917.3 322,916.1 321,916.8 320,920.4 319,916.3 318,917.4 317,918.4 316,917.1 315,918.2 314,915.8 313,915.9 312,917.5 311,919.9 310,916.0 309,915.9 308,915.9 307,919.1 306,916.0 305,918.8 304,917.5 303,917.0 302,916.3 301,916.6 300,919.4 299,916.6 298,917.0 297,932.9 296,916.8 295,918.1 294,916.7 293,919.6 292,916.2 291,916.8 290,916.4 289,917.0 288,919.4 287,917.8 286,917.3 285,917.7 284,916.8 283,918.0 282,917.9 281,921.4 280,919.5 279,917.9 278,919.9 277,917.5 276,917.9 275,919.6 274,921.7 273,920.8 272,920.8 271,917.0 270,918.5 269,916.9 268,919.1 267,919.1 266,919.1 265,917.1 264,917.0 263,920.1 262,919.1 261,917.2 260,917.1 259,917.5 258,917.6 257,918.7 256,919.3 255,921.7 254,918.9 253,918.6 252,917.7 251,917.7 250,917.8 249,917.9 248,920.4 247,918.0 246,920.4 245,919.2 244,921.3 243,921.2 242,920.5 241,921.8 240,927.1 239,917.7 238,918.4 237,918.6 236,919.7 235,917.8 234,918.7 233,918.1 232,919.2 231,919.9 230,919.3 229,918.1 228,920.6 227,918.2 226,918.1 225,918.0 224,922.9 223,919.8 222,920.0 221,929.0 220,919.3 219,919.2 218,919.8 217,918.2 216,918.7 215,921.7 214,925.2 213,920.6 212,918.1 211,920.9 210,919.6 209,921.8 208,921.1 207,927.1 206,927.4 205,922.7 204,926.6 203,922.8 202,926.8 201,924.5 200,924.9 199,925.4 198,925.7 197,928.5 196,927.9 195,925.9 194,926.3 193,926.3 192,925.8 191,926.7 190,926.3 189,928.5 188,925.6 187,926.7 186,926.7 185,925.6 184,929.9 183,926.9 182,928.3 181,925.3 180,927.0 179,927.5 178,926.0 177,925.3 176,927.8 175,928.0 174,924.6 173,926.8 172,926.4 171,925.8 170,925.4 169,924.6 168,925.5 167,924.6 166,924.3Z" fill="#0000ff" stroke="#0000ff" stroke-width="0.8"/>
<path d="M166,893.5 167,891.5 168,894.1 169,893.1 170,894.2 171,893.6 172,893.1 173,893.0 174,894.2 175,890.8 176,890.9 177,892.9 178,889.7 179,894.7 180,893.0 181,894.4 182,894.6 183,894.1 184,890.9 185,895.0 186,894.4 187,893.4 188,888.5 189,895.3 190,894.2 191,894.1 192,894.6 193,894.7 194,895.8 195,891.8 196,895.4 197,894.9 198,891.3 199,894.7 200,894.6 201,894.0 202,895.9 203,890.7 204,895.0 205,895.8 206,895.8 207,894.6 208,894.6 209,893.8 210,894.9 211,895.2 212,894.9 213,894.9 214,892.5 215,894.2 216,894.6 217,895.8 218,894.4 219,893.1 220,893.4 221,892.8 222,893.2 223,893.8 224,895.5 225,895.2 226,895.6 227,889.3 228,895.3 229,892.9 230,893.0 231,895.5 232,895.4 233,893.3 234,894.8 235,895.5 236,890.2 237,893.4 238,893.8 239,892.4 240,895.1 241,894.0 242,895.3 243,892.3 244,888.1 245,894.3 246,895.2 247,890.3 248,894.3 249,890.7 250,891.1 251,895.1 252,894.3 253,895.1 254,889.7 255,894.5 256,894.9 257,894.1 258,890.5 259,894.4 260,893.9 261,893.9 262,893.9 263,894.5 264,894.1 265,893.7 266,894.2 267,894.1 268,894.8 269,894.6 270,891.0 271,893.1 272,893.7 273,893.8 274,892.9 275,894.3 276,894.6 277,891.5 278,894.2 279,893.3 280,893.0 281,885.3 282,893.9 283,891.3 284,891.9 285,891.8 286,892.1 287,894.0 288,888.4 289,893.4 290,893.4 291,891.9 292,893.9 293,891.9 294,893.4 295,893.7 296,893.6 297,892.3 298,893.9 299,891.6 300,893.9 301,892.2 302,887.7 303,893.7 304,891.8 305,893.5 306,893.8 307,890.8 308,891.7 309,892.2 310,892.1 311,891.1 312,890.7 313,891.9 314,892.2 315,892.0 316,890.9 317,892.8 318,893.6 319,892.5 320,892.9 321,893.1 322,893.4 323,892.3 324,891.7 325,892.5 326,892.8 327,893.2 328,891.7 329,893.1 330,892.5 331,892.7 332,892.5 333,892.5 334,891.0 335,892.1 336,892.7 337,892.4 338,892.2 339,891.8 340,889.9 341,892.0 342,891.8 343,892.8 344,892.3 345,892.2 346,890.4 347,892.7 348,891.9 349,892.6 350,891.3 351,891.4 352,892.6 353,890.5 354,890.8 355,890.9 356,890.4 357,890.4 358,891.4 359,883.4 360,891.4 361,887.7 362,891.5 363,890.9 364,889.7 365,891.9 366,891.1 367,887.1 368,890.7 369,892.3 370,892.3 371,891.9 372,892.1 373,891.6 374,891.4 375,891.6 376,891.7 377,889.6 378,889.9 379,889.7 380,888.3 381,890.2 382,891.1 383,889.8 384,891.7 385,891.5 386,891.0 387,891.6 388,890.5 389,891.7 390,889.9 391,891.0 392,888.7 393,890.0 394,891.6 395,888.3 396,891.2 397,891.1 398,890.3 399,889.4 400,889.9 401,886.1 402,891.0 403,890.8 404,890.1 405,889.9 406,889.2 407,883.8 408,890.7 409,885.2 410,888.4 411,886.1 412,889.8 413,889.8 414,887.5 415,890.3 416,889.8 417,888.7 418,889.5 419,890.4 420,886.5 421,890.2 422,890.0 423,888.5 424,885.5 425,889.7 426,887.7 427,889.6 428,889.9 429,889.0 430,889.8 431,889.3 432,886.3 433,888.5 434,888.6 435,889.5 436,888.0 437,888.7 438,886.4 439,886.0 440,887.3 441,888.9 442,889.1 443,887.2 444,888.1 445,888.0 446,887.0 447,884.1 448,885.1 449,888.7 450,887.8 451,886.8 452,887.0 453,886.8 454,888.3 455,887.1 456,885.2 457,887.5 458,886.7 459,887.8 460,884.4 461,886.8 462,887.5 463,886.1 464,886.8 465,884.7 466,885.8 467,886.7 468,885.4 469,887.0 470,886.0 471,885.9 472,885.9 473,886.2 474,884.9 475,884.6 476,886.4 477,886.2 478,885.5 479,885.8 480,885.0 481,884.2 482,882.8 483,882.8 484,885.5 485,885.2 486,884.5 487,882.1 488,884.6 489,883.6 490,882.4 491,883.1 492,883.5 493,883.6 494,883.8 495,883.9 496,882.0 497,883.0 498,883.5 499,882.2 500,883.1 501,883.1 502,883.2 503,882.9 504,880.9 505,880.3 506,879.5 507,881.3 508,880.5 509,881.7 510,880.6 511,880.0 512,880.5 513,882.7 514,882.8 515,882.4 516,881.6 517,877.4 518,881.4 519,881.7 520,882.3 521,880.0 522,881.3 523,882.3 524,880.1 525,880.7 526,880.8 527,881.8 528,883.0 529,882.7 530,882.7 531,883.2 532,882.7 533,883.7 534,881.7 535,881.4 536,881.8 537,881.6 538,883.5 539,883.5 540,883.8 541,884.2 542,883.2 543,881.3 544,883.9 545,881.0 546,883.9 547,884.5 548,885.2 549,879.1 550,884.8 551,884.7 552,883.4 553,885.8 554,885.1 555,885.7 556,886.0 557,883.4 558,886.0 559,886.0 560,886.6 561,887.1 562,886.4 563,887.4 564,883.7 565,882.1 566,887.3 567,888.5 568,888.9 569,888.4 570,889.1 571,888.9 572,890.1 573,887.2 574,890.5 575,889.4 576,890.2 577,890.1 578,891.9 579,891.6 580,892.5 581,893.4 582,892.4 583,894.3 584,893.9 585,894.5 586,895.3 587,894.6 588,894.1 589,895.0 590,897.3 591,898.3 592,898.8 593,900.0 594,899.7 595,901.4 596,900.1 597,901.8 598,900.0 599,902.1 600,902.0 601,904.7 602,905.5 603,904.5 604,908.4 605,910.1 606,910.7 607,912.2 608,913.1 609,912.2 610,914.4 611,916.5 612,918.1 613,919.9 614,921.0 615,920.7 616,922.2 617,924.3 618,926.0 619,924.8 620,929.9 621,931.3 622,932.7 623,933.7 624,934.8 625,932.2 626,937.8 627,939.5 628,940.9 629,941.1 630,942.0 631,945.6 632,945.9 633,948.6 634,948.3 635,948.7 636,952.8 637,954.0 638,955.4 639,956.9 640,955.3 641,957.0 642,959.5 643,960.7 644,961.8 645,961.0 646,962.3 647,963.9 648,964.7 649,965.4 650,964.5 651,965.6 652,966.6 653,964.9 654,966.8 655,967.3 656,966.9 657,962.2 658,963.2 659,958.4 660,958.4 661,951.5 662,952.8 663,951.3 664,948.1 665,946.0 666,944.1 667,942.4 668,942.0 669,938.9 670,937.2 671,933.5 672,931.7 673,928.6 674,925.1 675,923.0 676,919.6 677,916.6 678,908.6 679,910.8 680,906.6 681,905.0 682,902.0 683,900.2 684,893.7 685,894.1 686,891.8 687,890.0 688,887.6 689,883.4 690,881.9 691,881.8 692,878.6 693,877.7 694,875.8 695,874.5 696,873.0 697,871.8 698,870.0 699,867.0 700,865.5 701,865.5 702,864.1 703,861.0 704,860.7 705,857.9 706,856.7 707,855.3 708,853.7 709,849.9 710,849.7 711,849.3 712,848.0 713,847.0 714,846.4 715,844.8 716,840.8 717,841.6 718,844.7 719,842.0 720,844.1 721,843.5 722,843.6 723,842.0 724,842.7 725,842.5 726,841.9 727,841.7 728,840.8 729,842.1 730,841.3 731,839.1 732,840.9 733,838.4 734,839.1 735,841.2 736,834.8 737,840.6 738,837.6 739,840.9 740,840.0 741,838.4 742,840.0 743,838.8 744,841.1 745,841.1 746,841.7 747,842.3 748,841.3 749,843.0 750,841.4 751,844.6 752,844.1 753,841.4 754,843.6 755,849.6 756,849.0 757,846.9 758,849.1 759,846.7 760,849.5 761,847.0 762,847.1 763,847.7 764,846.3 765,840.0 766,842.9 767,837.7 768,840.4 769,841.3 770,833.0 771,837.9 772,840.9 773,841.1 774,838.6 775,841.0 776,836.7 777,839.1 778,840.6 779,841.0 780,840.5 781,838.1 782,840.5 783,840.4 784,840.5 785,833.1 786,839.5 787,838.3 788,840.4 789,838.7 790,839.5 791,836.8 792,841.1 793,835.1 794,841.5 795,839.0 796,841.0 797,836.0 798,840.5 799,837.3 800,839.1 801,838.7 802,841.4 803,841.6 804,841.9 805,842.0 806,841.6 807,841.0 808,841.2 809,842.5 810,841.5 811,840.0 812,841.1 813,842.6 814,841.4 815,842.7 816,842.2 817,843.9 818,842.5 819,840.8 820,841.8 821,844.0 822,843.7 823,844.8 824,845.4 825,844.7 826,843.5 827,845.0 828,846.5 829,846.5 830,847.0 831,845.4 832,844.0 833,844.6 834,846.4 835,844.4 836,848.7 837,847.7 838,849.0 839,847.7 840,849.4 841,849.8 842,848.1 843,850.6 844,850.8 845,850.8 846,850.9 847,845.3 848,847.6 849,850.0 850,852.9 851,853.7 852,853.4 853,852.5 854,854.0 855,854.8 856,852.9 857,854.9 858,854.6 859,855.8 860,856.3 861,857.1 862,857.2 863,857.6 864,856.0 865,858.3 866,859.5 867,856.9 868,859.8 869,858.7 870,859.3 871,859.4 872,860.1 873,859.4 874,861.2 875,860.4 876,860.9 877,861.3 878,859.5 879,861.6 880,863.5 881,859.0 882,861.7 883,861.3 884,862.8 885,864.9 886,859.1 887,864.1 888,865.1 889,865.2 890,859.5 891,858.6 892,865.0 893,866.4 894,863.4 895,866.3 896,859.2 897,862.8 898,867.0 899,865.8 900,866.9 901,866.7 902,868.2 903,856.7 904,868.3 905,860.2 906,857.3 907,867.3 908,862.4 909,865.7 910,867.2 911,865.3 912,865.5 913,862.5 914,867.5 915,863.2 916,864.6 917,866.4 918,868.6 919,865.5 920,865.3 921,870.3 922,869.6 923,866.2 924,867.3 925,857.3 926,866.1 927,864.0 928,868.5 929,870.0 930,863.1 931,868.5 932,867.2 933,871.3 934,868.2 935,870.7 936,871.9 937,868.6 938,872.2 939,871.4 940,871.3 941,872.0 942,872.8 943,870.5 944,865.6 945,871.2 946,874.2 947,874.2 948,874.1 949,873.1 950,870.6 951,866.7 952,876.5 953,876.6 954,871.1 955,878.1 956,876.3 957,877.1 958,869.3 959,881.2 960,880.8 961,881.9 962,879.8 963,883.9 964,876.5 965,876.6 966,885.1 967,886.8 968,886.6 969,883.5 970,883.7 971,888.3 972,889.7 973,887.9 974,887.3 975,891.2 976,890.9 977,888.5 978,891.4 979,892.1 980,888.5 981,894.6 982,894.5 983,889.2 984,890.8 985,895.9 986,894.8 987,895.9 988,885.1 989,887.1 990,896.2 991,897.6 992,897.0 993,895.5 994,897.7 995,891.8 996,898.6 997,898.1 998,893.2 999,899.5 1000,900.2 1001,896.5 1002,894.4 1003,899.1 1004,899.0 1005,897.9 1006,902.1 1007,897.5 1008,902.8 1009,903.3 1010,902.7 1011,905.6 1012,901.4 1013,906.3 1014,906.3 1015,901.9 1016,907.8 1017,907.0 1018,908.9 1019,907.0 1020,909.7 1021,910.4 1022,910.0 1023,912.3 1024,909.0 1025,910.5 1026,913.7 1027,911.3 1028,913.0 1029,914.0 1030,913.9 1031,914.3 1032,913.7 1033,913.4 1034,914.6 1035,913.7 1036,915.1 1037,914.4 1038,918.5 1039,911.0 1040,913.6 1041,918.2 1042,917.2 1043,914.2 1044,918.5 1045,919.5 1046,920.1 1047,920.7 1048,919.0 1049,914.3 1050,918.5 1051,919.0 1052,919.3 1053,922.1 1054,922.3 1055,914.8 1056,918.9 1057,921.1 1058,915.7 1059,920.1 1060,923.2 1061,916.2 1062,913.9 1063,923.9 1064,922.8 1065,921.1 1066,922.9 1067,925.0 1068,923.6 1069,924.7 1070,925.5 1071,916.7 1072,923.2 1073,926.7 1074,927.0 1075,926.5 1076,923.9 1077,927.7 1078,926.8 1079,927.8 1080,925.9 1081,926.6 1082,923.4 1083,927.2 1084,911.3 1085,925.1 1086,926.5 1087,924.1 1088,922.7 1089,924.4 1090,924.3 1091,921.7 1092,924.3 1093,918.0 1094,922.6 1095,919.7 1096,917.5 1097,921.3 1098,921.9 1099,915.5 1100,916.0 1101,921.7 1102,919.8 1103,918.9 1104,917.5 1105,917.3 1106,919.9 1107,918.9 1108,907.1 1109,918.2 1110,918.3 1111,911.0 1112,915.6 1113,912.7 1114,915.5 1115,915.2 1116,911.1 1117,913.5 1118,914.6 1119,915.2 1120,913.8 1121,908.1 1122,915.0 1123,914.5 1124,914.4 1125,912.9 1126,908.3 1127,896.8 1128,912.5 1129,912.4 1130,912.7 1131,910.1 1132,909.1 1133,905.2 1134,905.5 1135,906.5 1136,911.4 1137,911.5 1138,906.4 1139,904.5 1140,909.0 1141,907.4 1142,909.7 1143,908.7 1144,906.5 1145,907.6 1146,899.4 1147,907.2 1148,910.1 1149,909.4 1150,907.2 1151,906.1 1152,908.6 1153,909.8 1154,905.2 L1154,928.9 1153,926.8 1152,926.2 1151,926.5 1150,927.0 1149,932.6 1148,926.4 1147,927.4 1146,929.4 1145,926.8 1144,927.4 1143,928.2 1142,933.9 1141,934.2 1140,930.9 1139,930.8 1138,934.3 1137,928.3 1136,928.1 1135,928.0 1134,929.2 1133,929.0 1132,929.9 1131,933.9 1130,932.8 1129,931.3 1128,931.1 1127,934.0 1126,930.2 1125,931.7 1124,931.3 1123,931.3 1122,936.9 1121,931.8 1120,932.2 1119,934.4 1118,935.4 1117,936.8 1116,939.2 1115,933.9 1114,946.9 1113,934.7 1112,936.2 1111,936.1 1110,937.2 1109,936.1 1108,937.8 1107,937.1 1106,936.8 1105,937.9 1104,942.7 1103,940.9 1102,946.2 1101,938.8 1100,938.3 1099,945.2 1098,939.8 1097,943.9 1096,939.7 1095,941.0 1094,940.6 1093,943.8 1092,941.5 1091,941.0 1090,948.8 1089,948.1 1088,956.9 1087,942.4 1086,959.4 1085,943.5 1084,944.8 1083,949.0 1082,944.2 1081,946.9 1080,944.1 1079,947.4 1078,944.2 1077,947.1 1076,943.7 1075,944.6 1074,948.8 1073,949.5 1072,943.7 1071,945.8 1070,946.4 1069,942.2 1068,941.6 1067,942.3 1066,946.8 1065,947.2 1064,941.7 1063,947.1 1062,941.9 1061,939.6 1060,946.7 1059,939.8 1058,941.1 1057,938.8 1056,941.2 1055,939.5 1054,940.2 1053,944.0 1052,938.9 1051,940.6 1050,938.9 1049,939.1 1048,944.2 1047,937.3 1046,939.0 1045,940.7 1044,940.1 1043,937.9 1042,936.6 1041,938.5 1040,939.3 1039,935.1 1038,935.7 1037,935.4 1036,934.2 1035,936.5 1034,936.0 1033,935.0 1032,932.9 1031,933.0 1030,935.6 1029,932.3 1028,941.0 1027,932.0 1026,930.8 1025,930.8 1024,935.1 1023,930.3 1022,928.7 1021,928.8 1020,946.3 1019,932.1 1018,927.6 1017,930.9 1016,927.0 1015,925.7 1014,925.6 1013,923.6 1012,923.4 1011,924.7 1010,926.4 1009,920.8 1008,920.3 1007,919.5 1006,921.4 1005,923.5 1004,919.1 1003,925.6 1002,919.1 1001,922.5 1000,920.6 999,920.6 998,915.8 997,916.2 996,915.4 995,918.8 994,917.6 993,914.4 992,915.9 991,916.4 990,923.2 989,913.9 988,913.3 987,918.2 986,913.6 985,913.0 984,913.0 983,913.6 982,912.5 981,912.5 980,910.4 979,912.7 978,910.5 977,910.1 976,912.4 975,909.3 974,907.9 973,908.4 972,906.5 971,905.8 970,905.9 969,904.4 968,903.7 967,906.6 966,905.2 965,902.2 964,903.7 963,900.7 962,901.5 961,901.2 960,899.6 959,900.4 958,909.6 957,907.0 956,896.4 955,895.8 954,897.9 953,894.5 952,894.4 951,892.9 950,898.0 949,904.5 948,892.1 947,893.1 946,891.6 945,891.2 944,891.7 943,891.4 942,889.9 941,894.0 940,889.4 939,889.1 938,891.8 937,888.8 936,894.9 935,888.8 934,888.6 933,887.9 932,890.6 931,888.9 930,888.4 929,887.7 928,893.1 927,889.5 926,887.4 925,887.2 924,887.3 923,889.1 922,894.6 921,892.4 920,888.0 919,888.5 918,890.1 917,889.4 916,886.6 915,893.4 914,888.1 913,889.4 912,892.7 911,899.0 910,885.9 909,886.1 908,888.8 907,885.0 906,886.2 905,889.4 904,890.2 903,884.5 902,885.1 901,888.4 900,887.3 899,885.7 898,883.7 897,884.4 896,886.0 895,885.2 894,885.0 893,884.6 892,885.2 891,888.1 890,882.6 889,883.2 888,885.2 887,884.8 886,885.9 885,884.6 884,884.4 883,883.8 882,881.2 881,885.1 880,883.6 879,881.3 878,881.4 877,881.0 876,882.5 875,880.6 874,879.7 873,880.3 872,880.1 871,884.3 870,879.5 869,879.3 868,887.4 867,879.2 866,883.0 865,878.0 864,878.2 863,876.9 862,879.5 861,876.9 860,878.1 859,875.5 858,879.6 857,875.3 856,875.8 855,873.6 854,875.4 853,873.5 852,872.9 851,872.3 850,872.8 849,873.7 848,872.2 847,871.6 846,870.3 845,872.7 844,869.7 843,873.1 842,875.4 841,868.3 840,870.2 839,871.6 838,868.3 837,869.6 836,869.0 835,866.8 834,866.9 833,866.5 832,866.7 831,866.0 830,866.2 829,865.3 828,865.6 827,865.0 826,864.4 825,869.2 824,864.0 823,864.5 822,863.4 821,863.6 820,863.2 819,864.6 818,863.1 817,863.0 816,862.6 815,861.6 814,861.8 813,861.9 812,864.7 811,864.5 810,861.0 809,860.8 808,860.6 807,861.5 806,861.7 805,863.0 804,861.6 803,861.2 802,860.6 801,861.4 800,860.8 799,859.8 798,860.2 797,860.5 796,863.1 795,860.6 794,860.0 793,861.3 792,859.5 791,860.5 790,860.4 789,859.8 788,862.6 787,859.9 786,859.4 785,859.3 784,867.0 783,860.0 782,859.8 781,859.7 780,859.2 779,860.4 778,867.1 777,861.5 776,860.3 775,859.3 774,859.4 773,862.8 772,860.3 771,859.4 770,859.5 769,858.8 768,858.9 767,863.2 766,865.2 765,862.5 764,862.6 763,859.1 762,859.5 761,858.8 760,860.8 759,859.7 758,860.2 757,860.4 756,859.3 755,862.4 754,859.3 753,859.5 752,859.4 751,860.1 750,861.7 749,858.6 748,858.4 747,859.9 746,859.0 745,858.4 744,859.2 743,859.0 742,859.0 741,859.7 740,858.8 739,860.2 738,858.7 737,860.5 736,859.9 735,860.0 734,863.0 733,859.7 732,860.7 731,860.1 730,860.6 729,860.4 728,861.1 727,862.2 726,867.7 725,863.5 724,862.3 723,862.9 722,862.2 721,862.2 720,867.4 719,862.7 718,865.0 717,864.1 716,866.4 715,864.1 714,865.3 713,866.0 712,866.8 711,868.3 710,869.4 709,870.6 708,875.5 707,884.2 706,875.9 705,877.9 704,880.1 703,881.5 702,885.3 701,886.0 700,885.3 699,887.6 698,888.5 697,890.6 696,891.6 695,894.3 694,899.0 693,896.5 692,899.4 691,900.9 690,902.1 689,904.4 688,908.3 687,910.5 686,911.9 685,913.0 684,915.5 683,919.8 682,920.5 681,925.1 680,927.5 679,934.4 678,932.6 677,935.3 676,938.9 675,942.3 674,945.2 673,946.6 672,949.5 671,953.3 670,958.0 669,957.0 668,961.3 667,964.2 666,964.6 665,970.0 664,968.7 663,974.8 662,975.0 661,976.2 660,977.1 659,979.6 658,981.3 657,989.6 656,987.7 655,985.3 654,986.1 653,985.6 652,986.0 651,983.8 650,983.1 649,982.9 648,981.9 647,982.5 646,981.4 645,981.4 644,980.8 643,978.4 642,979.9 641,976.6 640,978.9 639,975.4 638,972.9 637,971.7 636,970.6 635,970.7 634,972.3 633,971.1 632,965.4 631,963.3 630,962.6 629,959.7 628,959.7 627,959.0 626,955.4 625,957.1 624,954.5 623,952.0 622,951.7 621,948.5 620,947.9 619,946.2 618,948.6 617,942.9 616,944.4 615,942.1 614,941.2 613,938.3 612,936.1 611,936.0 610,934.8 609,932.7 608,932.8 607,932.7 606,929.4 605,928.0 604,926.9 603,929.3 602,925.0 601,923.9 600,922.9 599,926.3 598,926.1 597,920.5 596,919.8 595,918.8 594,919.2 593,917.7 592,918.4 591,916.9 590,916.1 589,915.2 588,916.2 587,914.2 586,914.2 585,915.2 584,912.3 583,912.8 582,912.7 581,911.3 580,913.9 579,911.4 578,911.8 577,910.4 576,909.4 575,909.4 574,908.7 573,909.7 572,909.0 571,910.6 570,910.2 569,907.8 568,907.7 567,914.2 566,907.6 565,908.2 564,907.2 563,906.6 562,905.7 561,908.8 560,907.3 559,905.6 558,905.8 557,907.0 556,904.7 555,907.1 554,905.4 553,904.2 552,909.7 551,905.2 550,903.7 549,904.6 548,903.8 547,903.4 546,905.7 545,903.2 544,905.7 543,903.6 542,903.1 541,903.6 540,904.0 539,903.9 538,903.6 537,902.9 536,902.4 535,905.4 534,902.6 533,904.5 532,904.4 531,902.0 530,901.9 529,902.2 528,902.8 527,902.9 526,901.6 525,903.8 524,908.5 523,903.7 522,904.0 521,903.9 520,901.3 519,903.9 518,901.9 517,903.6 516,904.5 515,902.0 514,901.1 513,903.5 512,901.6 511,901.9 510,910.7 509,901.5 508,904.0 507,901.3 506,902.7 505,902.5 504,905.1 503,902.4 502,901.8 501,902.4 500,901.9 499,901.8 498,902.0 497,902.7 496,905.5 495,902.9 494,903.0 493,903.5 492,903.7 491,903.2 490,904.3 489,905.0 488,903.8 487,903.2 486,905.8 485,903.8 484,904.1 483,905.5 482,904.7 481,904.1 480,905.4 479,908.4 478,905.3 477,910.7 476,905.2 475,904.9 474,906.0 473,905.2 472,906.1 471,906.2 470,906.2 469,905.8 468,906.6 467,905.4 466,908.7 465,907.5 464,906.4 463,906.2 462,913.0 461,907.8 460,908.3 459,907.0 458,906.1 457,910.8 456,911.5 455,907.0 454,906.3 453,906.5 452,908.6 451,906.7 450,911.3 449,907.9 448,908.9 447,908.4 446,907.9 445,908.4 444,910.3 443,907.2 442,908.2 441,907.3 440,907.6 439,910.6 438,908.2 437,910.1 436,910.5 435,909.2 434,908.4 433,908.8 432,909.9 431,910.9 430,909.1 429,908.2 428,908.6 427,908.8 426,910.7 425,909.4 424,909.8 423,909.4 422,908.5 421,909.1 420,909.7 419,908.7 418,912.3 417,909.0 416,909.3 415,910.4 414,909.5 413,909.6 412,910.6 411,909.2 410,909.7 409,909.9 408,910.2 407,910.5 406,910.0 405,910.1 404,909.5 403,912.5 402,909.5 401,909.4 400,912.4 399,912.3 398,911.9 397,910.1 396,910.3 395,911.2 394,910.2 393,912.7 392,910.8 391,910.8 390,909.8 389,910.3 388,913.8 387,909.9 386,910.3 385,912.4 384,911.4 383,912.2 382,915.6 381,910.9 380,910.1 379,910.4 378,911.2 377,912.0 376,910.2 375,911.3 374,912.7 373,911.9 372,910.3 371,912.4 370,910.4 369,910.8 368,911.2 367,911.7 366,911.5 365,911.4 364,913.4 363,913.7 362,912.4 361,915.0 360,918.3 359,910.7 358,910.8 357,913.1 356,913.4 355,912.6 354,911.8 353,912.2 352,911.1 351,913.0 350,912.5 349,911.1 348,911.3 347,911.0 346,911.7 345,914.5 344,913.2 343,911.2 342,911.3 341,912.7 340,913.8 339,911.9 338,912.1 337,912.3 336,913.4 335,912.1 334,913.0 333,912.3 332,911.8 331,911.5 330,911.4 329,912.3 328,914.9 327,913.0 326,915.3 325,916.3 324,914.8 323,915.0 322,911.9 321,912.2 320,912.4 319,912.5 318,911.9 317,912.4 316,912.7 315,913.0 314,912.7 313,913.9 312,917.2 311,911.8 310,912.3 309,914.8 308,913.7 307,912.3 306,913.8 305,921.7 304,913.8 303,913.1 302,914.2 301,912.8 300,916.0 299,912.1 298,913.3 297,912.4 296,912.2 295,912.5 294,912.5 293,914.0 292,913.7 291,912.8 290,912.9 289,915.0 288,913.3 287,912.5 286,914.9 285,912.6 284,916.2 283,912.8 282,915.3 281,916.4 280,912.7 279,912.7 278,913.7 277,913.1 276,914.3 275,913.3 274,915.5 273,916.4 272,915.2 271,912.9 270,915.8 269,913.8 268,916.4 267,914.6 266,913.0 265,914.5 264,914.5 263,913.4 262,914.1 261,916.3 260,914.4 259,914.3 258,913.6 257,914.4 256,915.4 255,914.2 254,913.8 253,914.1 252,914.2 251,913.8 250,915.0 249,913.4 248,916.5 247,914.2 246,913.5 245,915.8 244,914.5 243,914.0 242,919.8 241,916.8 240,916.9 239,914.5 238,916.3 237,915.8 236,916.9 235,919.0 234,915.0 233,913.8 232,915.0 231,915.2 230,915.0 229,915.9 228,914.0 227,914.0 226,917.7 225,914.5 224,916.5 223,917.9 222,919.1 221,914.7 220,914.5 219,915.0 218,914.8 217,915.4 216,915.0 215,919.6 214,915.7 213,914.5 212,916.0 211,914.4 210,914.2 209,914.0 208,915.8 207,915.4 206,915.9 205,915.1 204,914.2 203,915.6 202,915.9 201,914.3 200,920.2 199,914.2 198,915.1 197,918.4 196,914.0 195,915.3 194,914.0 193,914.4 192,913.9 191,915.6 190,914.0 189,913.7 188,916.1 187,915.7 186,916.0 185,916.0 184,913.9 183,915.4 182,913.7 181,913.8 180,913.5 179,914.2 178,914.0 177,913.4 176,913.8 175,916.8 174,913.0 173,917.5 172,912.9 171,913.4 170,913.8 169,920.0 168,912.6 167,913.3 166,914.1Z" fill="#00ff00" stroke="#00ff00" stroke-width="0.6"/>
<line x1="1154" y1="868.7" x2="1154" y2="932" stroke="#00ff00" stroke-width="1.5"/>
<rect x="165.5" y="837.5" width="989.0" height="162.0" fill="none" stroke="#262626" stroke-width="1.3"/>
<line x1="165.5" y1="858.5" x2="175.5" y2="858.5" stroke="#262626" stroke-width="1.3"/>
<line x1="1144.5" y1="858.5" x2="1154.5" y2="858.5" stroke="#262626" stroke-width="1.3"/>
<line x1="165.5" y1="905.5" x2="175.5" y2="905.5" stroke="#262626" stroke-width="1.3"/>
<line x1="1144.5" y1="905.5" x2="1154.5" y2="905.5" stroke="#262626" stroke-width="1.3"/>
<line x1="165.5" y1="952.5" x2="175.5" y2="952.5" stroke="#262626" stroke-width="1.3"/>
<line x1="1144.5" y1="952.5" x2="1154.5" y2="952.5" stroke="#262626" stroke-width="1.3"/>
<line x1="647.4" y1="837.5" x2="647.4" y2="847.5" stroke="#262626" stroke-width="1.3"/>
<line x1="647.4" y1="989.5" x2="647.4" y2="999.5" stroke="#262626" stroke-width="1.3"/>
<text x="156" y="865.3" font-size="22" text-anchor="end" textLength="23.5" lengthAdjust="spacingAndGlyphs" fill="#262626">20</text>
<text x="156" y="912.3" font-size="22" text-anchor="end" textLength="11.5" lengthAdjust="spacingAndGlyphs" fill="#262626">0</text>
<text x="156" y="959.3" font-size="22" text-anchor="end" textLength="31.5" lengthAdjust="spacingAndGlyphs" fill="#262626">-20</text>
<text x="156" y="1006.3" font-size="22" text-anchor="end" textLength="31.5" lengthAdjust="spacingAndGlyphs" fill="#262626">-40</text>
<text transform="translate(85.5,918.5) rotate(-90)" font-size="19.3" font-weight="bold" text-anchor="middle" textLength="188" lengthAdjust="spacingAndGlyphs" fill="#262626">Model - Measured</text>
<text transform="translate(110.5,919.3) rotate(-90)" font-size="19.3" font-weight="bold" text-anchor="middle" textLength="75.5" lengthAdjust="spacingAndGlyphs" fill="#262626">|B| (nT)</text>
<text transform="translate(1170,894.3) rotate(-90)" font-size="15" font-weight="bold" text-anchor="middle" textLength="63" lengthAdjust="spacingAndGlyphs">Inboard</text>
<text transform="translate(1182,905) rotate(-90)" font-size="15" font-weight="bold" text-anchor="middle" textLength="78" lengthAdjust="spacingAndGlyphs">Outboard</text>
<line x1="1164.8" y1="958" x2="1164.8" y2="973.6" stroke="#0000ff" stroke-width="2.2"/>
<line x1="1179.8" y1="958" x2="1179.8" y2="973.6" stroke="#00ff00" stroke-width="2.2"/>
<line x1="165.5" y1="1100.5" x2="1154.5" y2="1100.5" stroke="#dcdcdc" stroke-width="1"/>
<line x1="165.5" y1="1167" x2="1154.5" y2="1167" stroke="#dcdcdc" stroke-width="1"/>
<line x1="647.4" y1="1072.5" x2="647.4" y2="1233.5" stroke="#dcdcdc" stroke-width="1"/>
<path d="M165.5,1195.2H166.5V1191.6H167.0V1195.2H172.5V1191.6H173.0V1195.2H176.5V1191.6H177.5V1195.2H178.0V1191.6H178.5V1195.2H185.0V1191.6H185.5V1195.2H186.5V1191.6H187.0V1195.2H188.5V1191.6H189.0V1195.2H192.0V1191.6H192.5V1195.2H193.5V1191.6H194.0V1195.2H195.5V1198.8H196.0V1195.2H196.5V1191.6H197.5V1195.2H199.5V1191.6H200.0V1195.2H202.5V1191.6H203.0V1195.2H204.0V1191.6H204.5V1195.2H209.5V1191.6H210.0V1195.2H213.5V1198.8H214.0V1195.2H216.5V1198.8H217.0V1195.2H219.0V1191.6H219.5V1195.2H220.5V1191.6H221.0V1195.2H226.0V1191.6H226.5V1195.2H229.0V1198.8H229.5V1195.2H232.5V1191.6H233.0V1195.2H237.5V1198.8H238.0V1195.2H241.0V1191.6H241.5V1195.2H247.0V1191.6H248.0V1195.2H249.0V1191.6H249.5V1195.2H251.5V1191.6H252.0V1195.2H264.5V1198.8H265.0V1195.2H266.5V1191.6H267.0V1195.2H267.5V1191.6H268.0V1195.2H270.5V1191.6H271.0V1195.2H279.5V1191.6H280.0V1195.2H289.0V1191.6H289.5V1195.2H290.5V1191.6H291.0V1195.2H294.0V1198.8H294.5V1195.2H299.0V1198.8H299.5V1195.2H301.5V1198.8H302.0V1195.2H307.5V1198.8H308.0V1195.2H311.0V1198.8H311.5V1195.2H312.5V1191.6H313.0V1195.2H314.0V1198.8H314.5V1195.2H319.0V1191.6H319.5V1195.2H322.0V1198.8H322.5V1195.2H323.5V1198.8H324.0V1195.2H324.5V1198.8H325.0V1195.2H326.5V1198.8H327.0V1191.6H327.5V1195.2H328.0V1191.6H328.5V1198.8H329.5V1195.2H330.5V1198.8H331.5V1195.2H332.0V1191.6H332.5V1198.8H334.0V1195.2H334.5V1198.8H336.0V1195.2H336.5V1198.8H339.5V1195.2H340.5V1198.8H341.5V1195.2H342.0V1198.8H344.5V1195.2H345.0V1198.8H349.0V1195.2H349.5V1198.8H352.5V1195.2H353.0V1198.8H353.5V1195.2H354.5V1198.8H357.0V1195.2H357.5V1198.8H358.0V1195.2H358.5V1198.8H369.5V1195.2H371.0V1198.8H372.5V1202.4H373.0V1198.8H373.5V1195.2H374.0V1198.8H374.5V1195.2H375.0V1198.8H379.5V1202.4H380.0V1198.8H381.0V1195.2H381.5V1198.8H385.5V1195.2H386.0V1198.8H396.0V1195.2H397.0V1198.8H400.0V1195.2H400.5V1198.8H401.5V1202.4H402.0V1198.8H403.5V1202.4H404.0V1198.8H405.5V1195.2H406.0V1198.8H407.5V1195.2H408.0V1198.8H414.5V1195.2H415.0V1198.8H417.0V1195.2H418.0V1198.8H419.0V1202.4H419.5V1198.8H425.0V1195.2H426.0V1198.8H431.0V1195.2H431.5V1198.8H437.5V1195.2H438.0V1198.8H445.5V1206.0H446.0V1198.8H447.5V1202.4H448.0V1198.8H454.0V1195.2H454.5V1198.8H456.5V1202.4H457.0V1198.8H457.5V1202.4H458.0V1198.8H465.0V1195.2H465.5V1198.8H466.0V1195.2H466.5V1198.8H471.0V1195.2H471.5V1198.8H474.0V1202.4H474.5V1198.8H475.0V1195.2H475.5V1198.8H476.0V1202.4H476.5V1198.8H478.5V1195.2H479.0V1198.8H488.5V1195.2H489.0V1198.8H495.0V1202.4H495.5V1198.8H512.5V1202.4H513.0V1198.8H518.0V1195.2H519.0V1198.8H528.0V1195.2H528.5V1198.8H548.5V1202.4H549.0V1195.2H549.5V1198.8H552.5V1202.4H553.0V1198.8H561.0V1195.2H561.5V1198.8H579.0V1195.2H579.5V1198.8H582.5V1202.4H583.0V1198.8H585.0V1195.2H585.5V1198.8H586.0V1195.2H586.5V1198.8H591.0V1195.2H591.5V1198.8H607.5V1195.2H608.0V1198.8H610.0V1202.4H610.5V1198.8H611.0V1195.2H611.5V1198.8H615.5V1195.2H616.0V1198.8H629.0V1195.2H629.5V1198.8H630.0V1195.2H630.5V1198.8H646.0V1195.2H646.5V1198.8H649.5V1195.2H651.0V1198.8H654.5V1195.2H655.0V1198.8H656.0V1195.2H656.5V1198.8H665.5V1195.2H666.0V1198.8H679.0V1195.2H679.5V1198.8H680.5V1195.2H681.0V1198.8H684.0V1195.2H685.0V1198.8H685.5V1195.2H686.0V1198.8H687.5V1195.2H688.5V1198.8H689.5V1195.2H690.0V1198.8H690.5V1195.2H691.0V1198.8H692.5V1202.4H693.0V1198.8H696.5V1195.2H697.0V1198.8H700.0V1195.2H700.5V1198.8H705.0V1195.2H705.5V1198.8H706.0V1195.2H706.5V1198.8H708.5V1195.2H709.0V1198.8H709.5V1195.2H710.0V1198.8H710.5V1195.2H711.0V1191.6H712.0V1198.8H712.5V1191.6H713.0V1195.2H714.0V1198.8H714.5V1195.2H715.0V1198.8H716.0V1202.4H716.5V1195.2H717.0V1198.8H717.5V1195.2H718.5V1198.8H719.5V1195.2H720.5V1198.8H721.5V1195.2H722.0V1198.8H723.5V1195.2H724.5V1198.8H725.5V1195.2H726.0V1198.8H727.0V1195.2H728.0V1198.8H729.0V1195.2H733.5V1198.8H734.0V1195.2H734.5V1198.8H735.0V1191.6H735.5V1198.8H736.0V1195.2H736.5V1198.8H737.0V1195.2H739.0V1198.8H739.5V1191.6H740.0V1195.2H743.0V1198.8H743.5V1195.2H746.0V1198.8H747.0V1195.2H748.0V1198.8H748.5V1195.2H749.0V1198.8H749.5V1195.2H751.0V1191.6H751.5V1195.2H753.0V1191.6H753.5V1195.2H773.0V1191.6H773.5V1195.2H776.0V1191.6H776.5V1195.2H794.5V1191.6H795.0V1195.2H800.5V1191.6H801.0V1195.2H806.0V1191.6H806.5V1195.2H807.5V1191.6H808.0V1195.2H811.5V1191.6H812.0V1195.2H814.5V1191.6H815.5V1195.2H817.5V1191.6H818.0V1195.2H834.5V1191.6H835.0V1195.2H837.5V1191.6H838.0V1195.2H838.5V1191.6H839.5V1195.2H841.5V1191.6H842.0V1198.8H842.5V1195.2H845.5V1191.6H846.0V1195.2H847.5V1191.6H848.5V1195.2H851.0V1191.6H851.5V1195.2H855.0V1191.6H855.5V1195.2H856.0V1191.6H856.5V1195.2H859.0V1191.6H859.5V1195.2H860.0V1191.6H861.0V1195.2H862.0V1191.6H863.5V1195.2H864.0V1188.0H864.5V1195.2H865.0V1188.0H865.5V1191.6H867.0V1195.2H867.5V1191.6H869.0V1195.2H869.5V1191.6H871.0V1195.2H871.5V1191.6H874.5V1195.2H875.0V1191.6H884.5V1195.2H885.0V1191.6H894.5V1195.2H895.0V1191.6H897.0V1195.2H897.5V1191.6H901.5V1188.0H902.0V1191.6H911.5V1195.2H912.0V1191.6H920.0V1195.2H920.5V1191.6H931.5V1188.0H932.0V1191.6H936.0V1188.0H936.5V1191.6H938.5V1195.2H939.0V1191.6H942.0V1184.4H942.5V1191.6H943.5V1188.0H944.0V1191.6H948.0V1188.0H948.5V1191.6H952.5V1188.0H953.5V1191.6H954.5V1188.0H955.0V1191.6H960.5V1188.0H961.0V1191.6H961.5V1188.0H962.0V1191.6H964.5V1188.0H965.0V1191.6H967.0V1188.0H967.5V1191.6H968.5V1188.0H969.0V1191.6H970.0V1188.0H973.0V1191.6H974.0V1188.0H974.5V1191.6H975.0V1188.0H975.5V1191.6H977.0V1188.0H977.5V1191.6H978.5V1188.0H980.0V1184.4H980.5V1188.0H981.0V1191.6H982.5V1188.0H986.0V1191.6H987.0V1188.0H988.5V1184.4H989.0V1188.0H991.5V1191.6H992.0V1188.0H994.0V1191.6H994.5V1188.0H995.0V1191.6H996.0V1188.0H998.0V1184.4H998.5V1188.0H1005.5V1184.4H1006.0V1188.0H1007.0V1191.6H1007.5V1188.0H1015.5V1184.4H1016.0V1188.0H1021.5V1191.6H1022.0V1188.0H1024.5V1184.4H1025.0V1188.0H1026.0V1184.4H1026.5V1188.0H1027.0V1184.4H1027.5V1188.0H1028.5V1184.4H1029.5V1188.0H1033.5V1184.4H1034.0V1188.0H1036.0V1184.4H1036.5V1188.0H1037.0V1184.4H1037.5V1188.0H1039.0V1184.4H1039.5V1188.0H1048.0V1184.4H1048.5V1188.0H1051.0V1191.6H1051.5V1188.0H1052.0V1184.4H1052.5V1188.0H1053.0V1191.6H1053.5V1188.0H1057.0V1184.4H1058.0V1188.0H1058.5V1184.4H1059.0V1188.0H1060.5V1184.4H1061.5V1188.0H1063.5V1184.4H1064.0V1188.0H1065.0V1184.4H1066.0V1188.0H1067.0V1184.4H1069.0V1188.0H1070.5V1184.4H1071.5V1188.0H1072.5V1184.4H1073.0V1180.8H1074.0V1184.4H1074.5V1188.0H1075.5V1184.4H1076.0V1188.0H1076.5V1184.4H1077.0V1188.0H1077.5V1184.4H1078.5V1191.6H1079.0V1184.4H1084.0V1188.0H1084.5V1184.4H1086.0V1180.8H1086.5V1184.4H1088.0V1188.0H1088.5V1184.4H1090.0V1188.0H1090.5V1184.4H1093.5V1188.0H1094.0V1184.4H1095.0V1188.0H1095.5V1184.4H1103.0V1188.0H1103.5V1184.4H1106.5V1180.8H1107.0V1184.4H1110.0V1180.8H1110.5V1184.4H1114.0V1180.8H1114.5V1184.4H1121.5V1180.8H1122.0V1184.4H1127.0V1180.8H1127.5V1184.4H1128.5V1180.8H1129.0V1184.4H1137.5V1180.8H1138.0V1184.4H1138.5V1180.8H1139.0V1184.4H1139.5V1188.0H1140.0V1184.4H1145.5V1180.8H1146.0V1184.4H1149.5V1180.8H1150.0V1184.4H1153.5V1188.0H1154.0V1184.4H1154.5" fill="none" stroke="#ffff00" stroke-width="1.3"/>
<path d="M165.5,1177.2H170.0V1180.8H171.0V1177.2H175.0V1180.8H175.5V1177.2H176.0V1180.8H176.5V1177.2H183.0V1180.8H184.0V1177.2H185.0V1180.8H187.0V1177.2H207.0V1180.8H207.5V1177.2H209.5V1180.8H210.0V1177.2H211.0V1180.8H211.5V1177.2H235.5V1180.8H236.5V1177.2H239.0V1180.8H239.5V1177.2H245.0V1180.8H245.5V1177.2H252.5V1180.8H253.0V1177.2H260.5V1180.8H261.0V1177.2H263.0V1180.8H263.5V1177.2H278.0V1180.8H278.5V1177.2H281.5V1180.8H282.0V1177.2H283.0V1180.8H283.5V1173.6H284.0V1177.2H285.0V1180.8H285.5V1177.2H295.5V1180.8H296.0V1177.2H312.0V1173.6H312.5V1177.2H314.5V1180.8H315.0V1177.2H321.5V1180.8H322.0V1177.2H325.5V1180.8H326.0V1177.2H337.5V1180.8H338.0V1177.2H391.0V1180.8H391.5V1177.2H397.5V1180.8H398.0V1177.2H403.0V1180.8H403.5V1177.2H404.5V1180.8H405.0V1177.2H405.5V1180.8H406.0V1177.2H408.0V1180.8H408.5V1177.2H409.5V1180.8H410.0V1177.2H413.0V1180.8H413.5V1177.2H428.0V1180.8H428.5V1177.2H439.0V1180.8H439.5V1177.2H442.5V1180.8H443.0V1177.2H445.5V1180.8H446.0V1177.2H447.0V1180.8H447.5V1177.2H458.5V1180.8H459.0V1177.2H462.0V1180.8H462.5V1177.2H465.5V1180.8H466.0V1177.2H469.5V1180.8H470.5V1177.2H476.5V1180.8H477.0V1177.2H489.5V1180.8H490.0V1177.2H503.5V1180.8H504.5V1177.2H524.0V1180.8H524.5V1177.2H525.0V1180.8H525.5V1177.2H529.5V1180.8H530.0V1177.2H534.0V1180.8H534.5V1177.2H546.5V1180.8H547.0V1177.2H558.0V1180.8H559.0V1177.2H562.0V1180.8H562.5V1177.2H578.0V1180.8H578.5V1177.2H580.0V1173.6H580.5V1180.8H581.5V1177.2H583.0V1180.8H583.5V1177.2H589.0V1180.8H589.5V1177.2H594.0V1180.8H594.5V1177.2H599.5V1180.8H600.0V1177.2H604.5V1180.8H605.0V1177.2H610.5V1180.8H611.0V1177.2H618.5V1180.8H619.0V1177.2H622.5V1180.8H623.0V1177.2H624.0V1180.8H624.5V1177.2H625.5V1180.8H626.0V1177.2H632.0V1180.8H632.5V1177.2H672.5V1180.8H673.0V1177.2H678.5V1180.8H679.0V1177.2H684.5V1180.8H685.0V1177.2H695.0V1180.8H695.5V1177.2H696.0V1180.8H696.5V1177.2H697.5V1180.8H698.0V1177.2H841.5V1173.6H842.0V1177.2H851.5V1180.8H852.0V1177.2H853.0V1173.6H853.5V1177.2H872.0V1173.6H872.5V1177.2H892.5V1173.6H893.0V1177.2H896.5V1173.6H897.0V1177.2H905.5V1173.6H906.0V1177.2H919.0V1173.6H919.5V1177.2H920.0V1173.6H920.5V1177.2H921.0V1173.6H921.5V1177.2H927.0V1173.6H927.5V1177.2H930.5V1173.6H931.0V1177.2H932.5V1173.6H933.0V1177.2H941.0V1173.6H941.5V1177.2H946.0V1173.6H946.5V1177.2H959.0V1180.8H959.5V1173.6H960.5V1177.2H967.0V1173.6H967.5V1177.2H969.5V1173.6H970.0V1177.2H973.5V1173.6H974.0V1177.2H979.0V1173.6H979.5V1177.2H984.0V1173.6H984.5V1177.2H987.5V1173.6H988.0V1177.2H988.5V1173.6H989.0V1177.2H989.5V1173.6H990.0V1177.2H993.0V1173.6H993.5V1177.2H995.5V1173.6H996.0V1177.2H998.5V1173.6H999.0V1177.2H1003.0V1173.6H1003.5V1177.2H1009.5V1170.0H1010.0V1177.2H1012.0V1173.6H1012.5V1177.2H1013.0V1173.6H1013.5V1177.2H1014.0V1170.0H1014.5V1177.2H1015.0V1173.6H1015.5V1177.2H1020.0V1173.6H1021.0V1177.2H1022.0V1170.0H1022.5V1173.6H1023.0V1177.2H1023.5V1173.6H1024.0V1177.2H1025.0V1170.0H1025.5V1177.2H1027.5V1173.6H1028.0V1177.2H1028.5V1180.8H1029.0V1177.2H1029.5V1173.6H1030.0V1177.2H1031.0V1173.6H1032.0V1177.2H1032.5V1173.6H1033.0V1177.2H1033.5V1173.6H1034.5V1177.2H1036.5V1173.6H1037.0V1177.2H1040.0V1173.6H1040.5V1177.2H1042.5V1173.6H1043.5V1177.2H1045.5V1180.8H1046.0V1177.2H1046.5V1173.6H1047.0V1177.2H1048.5V1173.6H1049.0V1177.2H1050.0V1173.6H1050.5V1177.2H1056.0V1173.6H1056.5V1177.2H1057.0V1173.6H1057.5V1170.0H1058.0V1173.6H1058.5V1177.2H1059.5V1173.6H1060.0V1177.2H1062.0V1173.6H1062.5V1177.2H1063.0V1173.6H1063.5V1177.2H1065.0V1173.6H1065.5V1177.2H1066.5V1173.6H1067.0V1177.2H1068.0V1173.6H1069.0V1177.2H1070.5V1173.6H1071.0V1177.2H1072.5V1173.6H1073.5V1177.2H1074.5V1173.6H1075.0V1177.2H1076.5V1173.6H1077.5V1177.2H1079.0V1173.6H1080.5V1177.2H1082.5V1173.6H1083.5V1177.2H1084.0V1173.6H1084.5V1177.2H1085.5V1173.6H1086.0V1177.2H1086.5V1173.6H1088.0V1177.2H1089.0V1173.6H1089.5V1177.2H1090.5V1173.6H1091.0V1177.2H1092.0V1173.6H1092.5V1177.2H1093.0V1170.0H1093.5V1177.2H1094.0V1173.6H1095.0V1177.2H1096.0V1173.6H1097.5V1177.2H1098.0V1173.6H1099.0V1177.2H1100.0V1173.6H1100.5V1177.2H1102.0V1173.6H1102.5V1177.2H1103.5V1173.6H1104.0V1177.2H1105.5V1173.6H1106.0V1170.0H1106.5V1173.6H1107.0V1177.2H1107.5V1173.6H1108.5V1177.2H1109.0V1173.6H1109.5V1177.2H1110.0V1173.6H1111.5V1177.2H1112.0V1173.6H1113.0V1177.2H1114.0V1173.6H1115.5V1170.0H1116.0V1173.6H1116.5V1177.2H1117.5V1173.6H1119.0V1177.2H1119.5V1173.6H1121.5V1177.2H1122.5V1173.6H1124.5V1177.2H1125.0V1173.6H1125.5V1177.2H1127.0V1173.6H1128.0V1177.2H1128.5V1173.6H1129.0V1177.2H1130.5V1170.0H1131.0V1173.6H1131.5V1177.2H1132.0V1173.6H1133.0V1177.2H1133.5V1173.6H1135.0V1177.2H1136.0V1173.6H1137.0V1177.2H1138.5V1173.6H1140.0V1177.2H1141.5V1173.6H1142.0V1177.2H1142.5V1173.6H1144.0V1177.2H1145.0V1173.6H1146.0V1177.2H1147.0V1173.6H1149.5V1177.2H1150.0V1173.6H1150.5V1177.2H1151.0V1173.6H1151.5V1177.2H1152.0V1173.6H1153.0V1177.2H1153.5V1173.6H1154.5V1177.2H1154.5" fill="none" stroke="#00ffff" stroke-width="1.3"/>
<path d="M165.5,1119.6H167.0V1116.0H168.0V1119.6H168.5V1116.0H169.0V1119.6H169.5V1116.0H171.5V1119.6H172.0V1116.0H179.5V1119.6H180.0V1116.0H185.5V1112.4H186.0V1116.0H188.5V1112.4H189.5V1116.0H190.0V1119.6H190.5V1112.4H191.5V1119.6H192.0V1112.4H206.5V1116.0H207.0V1112.4H213.0V1108.8H213.5V1112.4H217.5V1108.8H218.0V1112.4H220.0V1108.8H221.0V1112.4H222.0V1108.8H222.5V1116.0H223.0V1108.8H224.5V1112.4H225.0V1108.8H228.5V1112.4H229.0V1108.8H231.5V1112.4H232.0V1108.8H234.5V1105.2H235.0V1108.8H236.5V1112.4H237.0V1108.8H237.5V1112.4H238.0V1108.8H244.0V1112.4H244.5V1108.8H251.0V1112.4H251.5V1108.8H260.0V1112.4H260.5V1108.8H268.0V1112.4H268.5V1108.8H274.0V1112.4H274.5V1108.8H279.5V1112.4H280.0V1108.8H286.5V1112.4H287.0V1108.8H289.5V1112.4H290.0V1108.8H291.0V1112.4H291.5V1108.8H294.0V1105.2H295.5V1108.8H298.5V1105.2H299.0V1108.8H299.5V1105.2H300.0V1108.8H304.0V1105.2H304.5V1108.8H305.5V1105.2H308.0V1108.8H308.5V1112.4H309.0V1105.2H309.5V1108.8H310.5V1105.2H313.0V1108.8H313.5V1105.2H320.0V1101.6H320.5V1105.2H334.0V1101.6H335.5V1105.2H337.5V1101.6H339.0V1105.2H339.5V1101.6H340.5V1105.2H341.0V1101.6H341.5V1105.2H342.0V1101.6H355.0V1105.2H355.5V1101.6H360.0V1105.2H360.5V1101.6H364.5V1105.2H365.0V1101.6H366.5V1105.2H367.0V1101.6H384.5V1105.2H385.0V1101.6H389.0V1105.2H389.5V1101.6H391.5V1098.0H392.0V1101.6H393.0V1105.2H393.5V1101.6H414.0V1098.0H414.5V1101.6H417.5V1105.2H418.0V1101.6H427.5V1105.2H428.0V1101.6H436.0V1098.0H436.5V1101.6H444.0V1105.2H444.5V1101.6H447.5V1105.2H448.0V1098.0H448.5V1101.6H452.5V1098.0H453.0V1101.6H453.5V1098.0H454.0V1101.6H460.0V1098.0H460.5V1101.6H464.5V1094.4H465.0V1101.6H470.0V1098.0H471.0V1101.6H475.0V1098.0H475.5V1101.6H476.0V1098.0H477.0V1101.6H477.5V1098.0H478.0V1101.6H480.0V1098.0H481.0V1101.6H481.5V1098.0H482.0V1101.6H482.5V1098.0H483.0V1101.6H483.5V1098.0H484.0V1105.2H484.5V1098.0H485.0V1101.6H485.5V1098.0H486.0V1101.6H486.5V1098.0H487.0V1101.6H487.5V1098.0H488.5V1101.6H489.0V1098.0H490.5V1101.6H491.5V1098.0H496.5V1101.6H497.0V1098.0H500.5V1101.6H501.0V1098.0H504.5V1094.4H505.0V1098.0H510.0V1101.6H510.5V1098.0H513.5V1101.6H514.0V1098.0H521.0V1101.6H521.5V1098.0H528.0V1101.6H528.5V1098.0H546.5V1101.6H547.0V1098.0H550.0V1101.6H550.5V1098.0H553.5V1101.6H554.0V1098.0H554.5V1101.6H555.0V1098.0H563.5V1101.6H564.0V1098.0H567.5V1101.6H568.0V1098.0H573.0V1101.6H573.5V1098.0H583.5V1094.4H584.0V1098.0H589.5V1094.4H590.0V1098.0H591.5V1094.4H592.0V1101.6H592.5V1098.0H598.0V1094.4H598.5V1098.0H599.0V1094.4H599.5V1098.0H600.0V1094.4H600.5V1098.0H602.5V1101.6H603.0V1098.0H604.0V1094.4H604.5V1098.0H605.5V1094.4H606.0V1098.0H606.5V1094.4H607.5V1098.0H608.0V1094.4H608.5V1098.0H609.5V1101.6H610.0V1098.0H614.0V1101.6H614.5V1094.4H615.0V1098.0H616.5V1094.4H617.0V1098.0H617.5V1101.6H618.0V1094.4H618.5V1098.0H619.0V1094.4H620.0V1098.0H620.5V1101.6H621.0V1098.0H622.0V1094.4H622.5V1098.0H623.0V1094.4H625.0V1098.0H625.5V1094.4H627.0V1101.6H627.5V1094.4H637.0V1098.0H637.5V1094.4H639.0V1101.6H639.5V1094.4H640.5V1098.0H641.0V1094.4H642.0V1098.0H642.5V1094.4H648.5V1098.0H649.0V1094.4H649.5V1090.8H650.0V1094.4H651.0V1098.0H651.5V1094.4H659.5V1090.8H660.0V1094.4H663.5V1098.0H664.0V1094.4H672.0V1098.0H672.5V1094.4H685.0V1098.0H685.5V1094.4H689.0V1098.0H689.5V1090.8H690.0V1094.4H700.0V1098.0H700.5V1094.4H702.5V1098.0H703.0V1094.4H705.0V1098.0H705.5V1094.4H717.5V1098.0H718.0V1094.4H722.5V1098.0H723.0V1094.4H745.0V1098.0H745.5V1094.4H750.5V1090.8H751.0V1094.4H757.5V1098.0H758.0V1094.4H765.0V1098.0H765.5V1094.4H769.0V1090.8H769.5V1094.4H773.5V1098.0H774.0V1094.4H775.0V1098.0H775.5V1094.4H781.5V1090.8H782.0V1094.4H785.5V1090.8H786.0V1094.4H787.0V1098.0H787.5V1094.4H791.0V1090.8H791.5V1094.4H793.0V1090.8H793.5V1094.4H794.5V1090.8H795.0V1094.4H796.0V1098.0H796.5V1094.4H797.0V1090.8H798.5V1094.4H799.0V1090.8H799.5V1094.4H800.0V1090.8H800.5V1094.4H803.0V1090.8H803.5V1094.4H804.0V1090.8H807.5V1094.4H808.0V1090.8H808.5V1094.4H809.5V1090.8H811.0V1094.4H812.0V1090.8H813.0V1094.4H813.5V1090.8H815.5V1094.4H817.0V1090.8H819.0V1094.4H820.5V1090.8H821.0V1094.4H821.5V1090.8H822.0V1094.4H822.5V1090.8H825.0V1094.4H825.5V1090.8H827.5V1094.4H828.5V1090.8H830.0V1094.4H830.5V1090.8H831.0V1094.4H831.5V1090.8H836.0V1094.4H836.5V1090.8H838.5V1094.4H839.0V1090.8H843.0V1094.4H843.5V1090.8H848.5V1094.4H849.0V1090.8H856.0V1087.2H856.5V1094.4H857.0V1090.8H870.5V1094.4H871.0V1090.8H875.5V1094.4H876.0V1090.8H896.0V1094.4H896.5V1090.8H897.0V1087.2H897.5V1094.4H898.0V1090.8H906.0V1094.4H906.5V1090.8H918.0V1094.4H918.5V1090.8H940.5V1094.4H941.0V1090.8H944.0V1094.4H944.5V1090.8H946.5V1094.4H947.0V1090.8H985.0V1094.4H985.5V1090.8H988.0V1094.4H988.5V1090.8H1002.0V1087.2H1002.5V1090.8H1003.5V1094.4H1004.0V1090.8H1004.5V1094.4H1005.0V1090.8H1021.0V1094.4H1021.5V1090.8H1029.5V1094.4H1030.0V1090.8H1035.0V1087.2H1035.5V1090.8H1036.5V1087.2H1037.0V1090.8H1039.0V1087.2H1039.5V1090.8H1040.0V1087.2H1040.5V1090.8H1041.5V1087.2H1042.5V1094.4H1043.5V1090.8H1044.0V1087.2H1044.5V1090.8H1045.0V1087.2H1047.0V1090.8H1047.5V1087.2H1048.0V1090.8H1048.5V1087.2H1050.0V1090.8H1050.5V1087.2H1051.5V1090.8H1052.5V1087.2H1053.5V1090.8H1054.0V1087.2H1054.5V1090.8H1055.0V1087.2H1057.5V1090.8H1058.5V1087.2H1078.0V1090.8H1078.5V1087.2H1086.5V1090.8H1087.0V1087.2H1092.5V1090.8H1093.0V1087.2H1107.0V1090.8H1107.5V1087.2H1117.0V1090.8H1117.5V1087.2H1120.5V1083.6H1121.0V1087.2H1123.5V1083.6H1124.0V1087.2H1127.5V1083.6H1128.0V1087.2H1130.0V1090.8H1130.5V1087.2H1132.0V1083.6H1132.5V1087.2H1134.5V1090.8H1135.0V1087.2H1136.5V1083.6H1137.0V1087.2H1138.5V1083.6H1139.0V1087.2H1140.0V1090.8H1141.0V1087.2H1144.0V1090.8H1144.5V1087.2H1145.0V1083.6H1145.5V1087.2H1146.0V1083.6H1149.0V1087.2H1149.5V1083.6H1151.5V1087.2H1154.5" fill="none" stroke="#0000ff" stroke-width="1.3"/>
<path d="M165.5,1108.8H167.5V1105.2H168.0V1108.8H168.5V1105.2H169.0V1108.8H169.5V1105.2H170.0V1108.8H170.5V1105.2H171.0V1101.6H171.5V1105.2H173.5V1108.8H174.0V1105.2H175.5V1101.6H176.0V1105.2H176.5V1101.6H177.0V1108.8H177.5V1105.2H183.0V1101.6H183.5V1108.8H184.0V1105.2H195.0V1101.6H195.5V1108.8H196.0V1105.2H202.5V1101.6H203.5V1105.2H205.0V1101.6H206.0V1098.0H206.5V1101.6H208.5V1105.2H209.0V1101.6H209.5V1105.2H210.0V1101.6H210.5V1105.2H211.0V1101.6H213.5V1098.0H214.0V1101.6H221.0V1105.2H221.5V1101.6H223.0V1098.0H223.5V1101.6H224.0V1098.0H224.5V1101.6H231.0V1098.0H232.0V1101.6H235.5V1098.0H236.0V1101.6H238.5V1098.0H239.0V1101.6H239.5V1098.0H240.0V1101.6H241.0V1098.0H241.5V1101.6H242.0V1098.0H244.0V1101.6H244.5V1098.0H246.5V1101.6H248.5V1098.0H249.0V1105.2H249.5V1101.6H250.0V1098.0H253.0V1094.4H253.5V1098.0H255.5V1094.4H256.0V1098.0H268.5V1094.4H269.0V1098.0H269.5V1101.6H270.0V1098.0H278.0V1094.4H278.5V1098.0H286.0V1094.4H286.5V1098.0H293.0V1094.4H293.5V1098.0H298.5V1094.4H299.0V1098.0H308.0V1094.4H309.0V1098.0H311.0V1094.4H311.5V1098.0H317.5V1094.4H318.5V1098.0H320.0V1094.4H321.5V1098.0H322.5V1094.4H323.0V1098.0H324.5V1094.4H326.0V1098.0H329.5V1094.4H331.0V1098.0H331.5V1094.4H332.0V1098.0H333.0V1094.4H334.0V1098.0H336.5V1094.4H337.0V1098.0H337.5V1094.4H339.0V1098.0H340.0V1094.4H340.5V1090.8H341.0V1098.0H341.5V1094.4H342.5V1098.0H343.5V1094.4H344.5V1098.0H345.0V1094.4H348.5V1098.0H349.0V1094.4H350.0V1090.8H350.5V1098.0H351.0V1094.4H353.5V1090.8H354.0V1094.4H354.5V1090.8H355.0V1094.4H356.5V1098.0H357.0V1094.4H357.5V1090.8H358.0V1094.4H360.5V1090.8H361.0V1094.4H362.5V1098.0H363.5V1094.4H376.0V1090.8H376.5V1094.4H383.5V1090.8H384.0V1094.4H385.5V1090.8H386.0V1094.4H390.5V1090.8H391.0V1094.4H394.0V1090.8H394.5V1094.4H396.5V1090.8H397.0V1094.4H403.0V1090.8H403.5V1094.4H407.5V1090.8H408.0V1094.4H408.5V1090.8H410.0V1094.4H410.5V1090.8H411.5V1094.4H412.0V1090.8H412.5V1094.4H415.5V1087.2H416.5V1094.4H417.0V1087.2H417.5V1094.4H418.0V1087.2H418.5V1094.4H419.0V1090.8H419.5V1094.4H420.5V1090.8H421.0V1094.4H422.5V1090.8H423.0V1094.4H423.5V1090.8H424.5V1094.4H425.0V1090.8H426.0V1087.2H427.0V1094.4H427.5V1090.8H429.0V1094.4H430.5V1090.8H432.0V1087.2H432.5V1090.8H434.0V1094.4H434.5V1090.8H435.0V1087.2H435.5V1090.8H437.0V1087.2H437.5V1090.8H449.0V1087.2H449.5V1090.8H450.0V1087.2H450.5V1090.8H451.5V1087.2H452.0V1090.8H453.5V1087.2H454.0V1090.8H470.0V1087.2H470.5V1090.8H471.5V1087.2H472.0V1090.8H487.0V1087.2H487.5V1090.8H489.5V1087.2H490.0V1090.8H491.0V1087.2H491.5V1090.8H492.0V1087.2H492.5V1090.8H494.0V1087.2H494.5V1090.8H497.5V1087.2H498.0V1090.8H500.0V1087.2H500.5V1090.8H502.5V1087.2H503.0V1090.8H503.5V1083.6H504.0V1090.8H504.5V1087.2H505.0V1094.4H505.5V1090.8H508.5V1087.2H509.0V1090.8H509.5V1087.2H511.5V1090.8H514.5V1087.2H516.0V1090.8H516.5V1087.2H517.0V1090.8H517.5V1087.2H518.0V1090.8H518.5V1087.2H519.5V1090.8H520.0V1087.2H520.5V1083.6H521.0V1087.2H521.5V1090.8H523.0V1087.2H525.0V1090.8H526.0V1087.2H527.5V1090.8H528.5V1083.6H529.0V1090.8H529.5V1087.2H530.0V1090.8H530.5V1083.6H531.0V1087.2H531.5V1083.6H532.0V1087.2H533.0V1090.8H533.5V1087.2H537.5V1090.8H538.0V1087.2H547.0V1083.6H547.5V1087.2H556.5V1083.6H557.0V1087.2H557.5V1083.6H558.0V1087.2H563.5V1083.6H564.0V1087.2H564.5V1083.6H565.0V1087.2H566.5V1083.6H567.0V1087.2H567.5V1090.8H568.0V1087.2H585.0V1083.6H585.5V1087.2H586.0V1083.6H586.5V1087.2H589.0V1083.6H589.5V1087.2H590.0V1083.6H591.0V1087.2H595.5V1090.8H596.0V1087.2H596.5V1083.6H597.0V1087.2H597.5V1083.6H598.0V1087.2H600.0V1083.6H600.5V1087.2H604.0V1083.6H604.5V1087.2H605.0V1083.6H606.0V1087.2H611.5V1083.6H612.0V1087.2H616.5V1083.6H617.0V1087.2H617.5V1083.6H618.0V1087.2H620.0V1083.6H620.5V1087.2H625.0V1080.0H625.5V1083.6H626.5V1087.2H627.0V1083.6H627.5V1087.2H628.5V1083.6H629.0V1087.2H630.5V1083.6H631.0V1087.2H636.0V1083.6H636.5V1087.2H637.0V1083.6H637.5V1087.2H639.5V1083.6H641.0V1087.2H641.5V1083.6H642.5V1080.0H643.0V1083.6H643.5V1087.2H644.0V1083.6H645.0V1080.0H645.5V1083.6H647.0V1087.2H649.5V1083.6H650.0V1087.2H651.0V1083.6H651.5V1087.2H652.5V1083.6H654.0V1080.0H654.5V1087.2H655.0V1083.6H655.5V1087.2H656.5V1083.6H660.5V1087.2H661.0V1083.6H662.0V1080.0H662.5V1083.6H667.0V1080.0H667.5V1083.6H669.0V1087.2H669.5V1083.6H670.5V1080.0H671.0V1087.2H671.5V1083.6H672.0V1087.2H672.5V1083.6H673.0V1080.0H673.5V1083.6H675.0V1080.0H675.5V1083.6H682.0V1087.2H682.5V1083.6H687.5V1087.2H688.0V1083.6H690.5V1080.0H691.0V1083.6H693.0V1087.2H693.5V1083.6H696.5V1087.2H697.0V1083.6H704.0V1080.0H704.5V1083.6H705.5V1080.0H706.0V1083.6H716.5V1080.0H717.0V1083.6H718.0V1080.0H719.0V1083.6H719.5V1080.0H720.0V1083.6H720.5V1087.2H721.0V1083.6H722.5V1080.0H723.0V1083.6H724.0V1080.0H724.5V1083.6H725.0V1087.2H725.5V1083.6H726.0V1087.2H726.5V1083.6H728.0V1080.0H728.5V1083.6H731.5V1080.0H732.0V1083.6H734.5V1080.0H735.0V1083.6H735.5V1087.2H736.0V1083.6H737.5V1080.0H738.0V1083.6H741.5V1080.0H742.0V1083.6H757.5V1080.0H758.0V1083.6H762.0V1080.0H762.5V1083.6H770.5V1080.0H771.5V1083.6H773.5V1080.0H774.0V1083.6H779.0V1087.2H779.5V1080.0H780.5V1083.6H786.0V1080.0H786.5V1083.6H793.5V1080.0H794.0V1083.6H800.0V1080.0H800.5V1083.6H801.0V1080.0H801.5V1083.6H802.5V1080.0H803.0V1083.6H808.0V1080.0H808.5V1083.6H809.0V1080.0H809.5V1083.6H814.5V1080.0H815.5V1083.6H827.0V1087.2H827.5V1083.6H830.5V1080.0H831.0V1083.6H832.5V1080.0H833.0V1083.6H834.0V1080.0H834.5V1083.6H837.0V1080.0H837.5V1083.6H839.5V1080.0H840.0V1083.6H844.0V1087.2H844.5V1083.6H847.5V1080.0H848.0V1083.6H851.0V1080.0H851.5V1083.6H853.5V1080.0H854.0V1083.6H854.5V1080.0H855.0V1083.6H864.5V1080.0H865.5V1083.6H867.0V1087.2H867.5V1083.6H869.5V1080.0H870.0V1083.6H873.0V1080.0H873.5V1083.6H876.5V1080.0H877.5V1083.6H883.0V1080.0H883.5V1083.6H886.0V1080.0H886.5V1083.6H887.5V1076.4H888.0V1083.6H892.0V1080.0H892.5V1083.6H896.0V1087.2H896.5V1083.6H897.0V1080.0H897.5V1083.6H898.0V1080.0H898.5V1083.6H903.0V1087.2H903.5V1083.6H906.0V1080.0H906.5V1083.6H908.0V1076.4H908.5V1080.0H910.0V1083.6H911.0V1076.4H911.5V1080.0H912.5V1083.6H913.0V1080.0H913.5V1083.6H916.0V1080.0H916.5V1087.2H917.0V1083.6H917.5V1080.0H918.0V1083.6H918.5V1080.0H920.5V1076.4H921.0V1080.0H921.5V1083.6H922.5V1080.0H923.5V1083.6H924.5V1080.0H926.0V1076.4H926.5V1080.0H927.0V1083.6H927.5V1080.0H928.0V1083.6H928.5V1080.0H930.5V1083.6H931.5V1080.0H932.0V1083.6H932.5V1080.0H935.0V1083.6H935.5V1080.0H937.5V1083.6H938.0V1080.0H939.0V1076.4H939.5V1080.0H940.5V1076.4H941.0V1080.0H943.0V1083.6H943.5V1080.0H945.0V1083.6H945.5V1080.0H946.0V1076.4H946.5V1080.0H949.5V1083.6H950.0V1080.0H950.5V1083.6H951.0V1076.4H951.5V1080.0H952.0V1076.4H952.5V1080.0H953.5V1076.4H954.0V1080.0H959.0V1076.4H959.5V1080.0H962.5V1076.4H963.0V1080.0H973.0V1076.4H973.5V1080.0H984.5V1076.4H985.0V1080.0H988.5V1076.4H989.0V1080.0H991.0V1076.4H991.5V1080.0H993.0V1076.4H993.5V1080.0H994.0V1076.4H994.5V1080.0H996.5V1076.4H997.0V1080.0H998.5V1076.4H999.0V1080.0H1000.0V1076.4H1000.5V1080.0H1003.5V1076.4H1004.0V1080.0H1015.0V1076.4H1015.5V1080.0H1018.5V1076.4H1019.0V1080.0H1022.5V1076.4H1023.0V1080.0H1026.5V1083.6H1027.0V1080.0H1034.5V1076.4H1035.0V1080.0H1035.5V1076.4H1036.0V1080.0H1039.0V1076.4H1039.5V1080.0H1040.0V1076.4H1040.5V1080.0H1041.5V1072.8H1042.0V1080.0H1042.5V1076.4H1043.5V1080.0H1047.0V1076.4H1047.5V1080.0H1048.0V1076.4H1048.5V1080.0H1050.5V1076.4H1051.0V1083.6H1051.5V1080.0H1054.5V1076.4H1055.0V1080.0H1057.5V1076.4H1058.0V1080.0H1058.5V1076.4H1059.0V1080.0H1060.0V1076.4H1060.5V1080.0H1061.0V1076.4H1061.5V1080.0H1064.0V1076.4H1064.5V1080.0H1065.0V1076.4H1065.5V1080.0H1066.0V1076.4H1067.5V1080.0H1068.0V1076.4H1068.5V1080.0H1069.5V1076.4H1070.0V1080.0H1071.0V1076.4H1071.5V1080.0H1072.5V1076.4H1075.5V1080.0H1076.0V1076.4H1078.5V1080.0H1079.0V1076.4H1079.5V1080.0H1080.0V1076.4H1081.0V1080.0H1082.0V1076.4H1082.5V1080.0H1083.5V1076.4H1086.0V1080.0H1087.0V1076.4H1088.0V1080.0H1089.0V1076.4H1090.0V1080.0H1090.5V1076.4H1091.0V1080.0H1092.0V1076.4H1093.5V1080.0H1094.0V1076.4H1095.5V1080.0H1096.0V1076.4H1098.0V1072.8H1098.5V1076.4H1100.0V1080.0H1100.5V1072.8H1101.0V1076.4H1105.5V1080.0H1106.5V1076.4H1107.5V1080.0H1108.0V1076.4H1113.5V1080.0H1114.0V1076.4H1119.5V1072.8H1120.5V1076.4H1126.5V1080.0H1127.0V1076.4H1130.0V1080.0H1130.5V1076.4H1135.0V1072.8H1135.5V1076.4H1137.5V1072.8H1138.0V1076.4H1141.5V1072.8H1142.5V1076.4H1145.5V1072.8H1146.0V1076.4H1154.5" fill="none" stroke="#00ff00" stroke-width="1.3"/>
<rect x="165.5" y="1072.5" width="989.0" height="161.0" fill="none" stroke="#262626" stroke-width="1.3"/>
<line x1="165.5" y1="1100.5" x2="175.5" y2="1100.5" stroke="#262626" stroke-width="1.3"/>
<line x1="1144.5" y1="1100.5" x2="1154.5" y2="1100.5" stroke="#262626" stroke-width="1.3"/>
<line x1="165.5" y1="1167" x2="175.5" y2="1167" stroke="#262626" stroke-width="1.3"/>
<line x1="1144.5" y1="1167" x2="1154.5" y2="1167" stroke="#262626" stroke-width="1.3"/>
<line x1="647.4" y1="1072.5" x2="647.4" y2="1082.5" stroke="#262626" stroke-width="1.3"/>
<line x1="647.4" y1="1223.5" x2="647.4" y2="1233.5" stroke="#262626" stroke-width="1.3"/>
<text x="156" y="1107.3" font-size="22" text-anchor="end" textLength="11.5" lengthAdjust="spacingAndGlyphs" fill="#262626">0</text>
<text x="156" y="1173.8" font-size="22" text-anchor="end" textLength="20" lengthAdjust="spacingAndGlyphs" fill="#262626">-5</text>
<text x="156" y="1240.3" font-size="22" text-anchor="end" textLength="31.5" lengthAdjust="spacingAndGlyphs" fill="#262626">-10</text>
<text transform="translate(85.3,1153) rotate(-90)" font-size="19.3" font-weight="bold" text-anchor="middle" textLength="136" lengthAdjust="spacingAndGlyphs" fill="#262626">Temperature</text>
<text transform="translate(110.3,1152.8) rotate(-90)" font-size="19.3" font-weight="bold" text-anchor="middle" textLength="39" lengthAdjust="spacingAndGlyphs" fill="#262626">(&#176;C)</text>
<text transform="translate(1170,1121.9) rotate(-90)" font-size="15" font-weight="bold" text-anchor="middle" textLength="110" lengthAdjust="spacingAndGlyphs">Inboard EBox</text>
<text transform="translate(1182,1130) rotate(-90)" font-size="15" font-weight="bold" text-anchor="middle" textLength="126" lengthAdjust="spacingAndGlyphs">Inboard Sensor</text>
<text transform="translate(1194,1130.9) rotate(-90)" font-size="15" font-weight="bold" text-anchor="middle" textLength="124" lengthAdjust="spacingAndGlyphs">Outboard EBox</text>
<text transform="translate(1205,1142.3) rotate(-90)" font-size="15" font-weight="bold" text-anchor="middle" textLength="140.5" lengthAdjust="spacingAndGlyphs">Outboard Sensor</text>
<line x1="1168" y1="1233" x2="1168" y2="1248.5" stroke="#0000ff" stroke-width="2.2"/>
<line x1="1179.7" y1="1233" x2="1179.7" y2="1248.5" stroke="#00ffff" stroke-width="2.2"/>
<line x1="1191.8" y1="1233" x2="1191.8" y2="1248.5" stroke="#00ff00" stroke-width="2.2"/>
<line x1="1202.7" y1="1233" x2="1202.7" y2="1248.5" stroke="#ffff00" stroke-width="2.2"/>
<line x1="165.5" y1="1389" x2="1154.5" y2="1389" stroke="#dcdcdc" stroke-width="1"/>
<line x1="412.6" y1="1308.5" x2="412.6" y2="1469.5" stroke="#dcdcdc" stroke-width="1"/>
<line x1="659.7" y1="1308.5" x2="659.7" y2="1469.5" stroke="#dcdcdc" stroke-width="1"/>
<line x1="906.9" y1="1308.5" x2="906.9" y2="1469.5" stroke="#dcdcdc" stroke-width="1"/>
<path d="M165.8,1415 L168.6,1423.3 H1094 V1427 H1095 V1423.3 H1127 V1427 H1128 V1423.3 H1151 V1427 H1152 V1423.3 H1154.5" fill="none" stroke="#0000ff" stroke-width="1.6"/>
<path d="M166,1452 L168,1400.6 H203 V1392.6 H1154.5" fill="none" stroke="#00ffff" stroke-width="1.6"/>
<path d="M166,1420 L168.5,1400.6H175.7V1396.5H176.5V1400.6H246.1V1396.5H249.3V1400.6H292.5V1396.5H295.7V1400.6H326.9V1404.5H327.7V1400.6H407.7V1404.5H413.3V1400.6H421.3V1404.5H426.1V1396.5H427.7V1400.6H430.9V1396.5H432.5V1400.6H493.3V1396.5H494.1V1400.6H528.5V1404.5H532.5V1400.6H537.3V1404.5H538.9V1400.6H560.5V1396.5H564.5V1400.6H569.3V1396.5H570.1V1404.5H582.1V1400.6H614.9V1396.5H616.5V1400.6H622.1V1396.5H638.1V1400.6H668.5V1396.5H670.9V1400.6H694.1V1404.5H698.9V1400.6H728.5V1396.5H732.5V1400.6H815.7V1396.5H824.5V1400.6H834.1V1404.5H838.1V1400.6H845.3V1404.5H850.9V1400.6H912.5V1396.5H915.7V1400.6H918.9V1404.5H922.9V1400.6H927.7V1404.5H930.9V1400.6H942.1V1396.5H946.1V1400.6H955.7V1404.5H961.3V1400.6H962.1V1396.5H965.3V1400.6H975.7V1404.5H980.5V1400.6H985.3V1404.5H987.7V1400.6H1014.9V1404.5H1021.3V1400.6H1044.5V1404.5H1046.1V1396.5H1057.3V1400.6H1094.9V1396.5H1100.5V1400.6H1110.1V1396.5H1117.3V1404.5H1118.1V1400.6H1119.7V1396.5H1120.5V1400.6H1154.1" fill="none" stroke="#00ff00" stroke-width="1.3"/>
<path d="M165.8,1452 L167,1405 L168.5,1392.6H168.9V1408.9H169.3V1400.7H171.0V1408.9H171.9V1400.7H172.3V1408.9H172.7V1384.4H173.1V1400.7H173.5V1408.9H174.4V1400.7H174.8V1408.9H175.6V1400.7H177.3V1408.9H177.7V1384.4H178.2V1408.9H179.8V1400.7H181.5V1408.9H182.8V1400.7H183.2V1392.6H184.0V1408.9H184.5V1400.7H184.9V1408.9H185.7V1392.6H186.1V1400.7H187.4V1384.4H187.8V1408.9H188.2V1418.3H188.7V1400.7H189.1V1408.9H189.9V1400.7H191.2V1408.9H192.4V1384.4H192.9V1400.7H194.1V1384.4H194.5V1408.9H195.0V1400.7H196.2V1408.9H197.5V1400.7H198.3V1408.9H201.3V1400.7H201.7V1408.9H202.9V1384.4H203.4V1400.7H203.8V1408.9H204.2V1400.7H205.0V1408.9H205.5V1400.7H205.9V1384.4H206.3V1408.9H207.6V1400.7H208.0V1408.9H208.4V1400.7H209.7V1408.9H210.1V1400.7H210.5V1408.9H211.3V1418.3H211.8V1408.9H212.2V1384.4H212.6V1400.7H213.9V1392.6H214.3V1408.9H215.1V1400.7H215.5V1408.9H216.8V1384.4H217.2V1408.9H217.6V1400.7H218.1V1392.6H218.9V1408.9H220.2V1400.7H220.6V1408.9H221.0V1400.7H221.4V1384.4H221.8V1408.9H222.3V1400.7H223.1V1408.9H223.5V1400.7H223.9V1384.4H224.4V1408.9H226.0V1400.7H226.5V1408.9H228.6V1384.4H229.0V1408.9H230.2V1400.7H230.7V1408.9H232.3V1400.7H232.8V1408.9H234.0V1392.6H234.4V1408.9H236.5V1384.4H237.0V1392.6H237.4V1408.9H237.8V1400.7H238.2V1408.9H241.2V1400.7H241.6V1408.9H242.0V1400.7H242.4V1384.4H242.8V1408.9H243.3V1400.7H244.9V1408.9H245.4V1400.7H245.8V1408.9H247.0V1418.3H247.5V1408.9H249.1V1400.7H249.6V1408.9H250.0V1400.7H250.8V1408.9H251.2V1400.7H251.7V1408.9H252.5V1400.7H253.8V1392.6H254.6V1400.7H256.3V1408.9H256.7V1400.7H257.1V1408.9H257.5V1400.7H258.8V1408.9H260.1V1400.7H260.5V1408.9H261.7V1384.4H262.2V1408.9H262.6V1400.7H264.3V1408.9H265.5V1392.6H266.4V1408.9H267.2V1400.7H268.0V1408.9H270.1V1384.4H270.6V1400.7H271.4V1408.9H272.2V1384.4H272.7V1408.9H273.1V1400.7H273.5V1408.9H273.9V1400.7H274.8V1408.9H275.6V1400.7H276.0V1408.9H276.4V1400.7H276.9V1408.9H278.1V1400.7H278.5V1384.4H279.0V1400.7H281.9V1408.9H282.3V1400.7H283.2V1408.9H284.0V1400.7H284.8V1408.9H285.7V1400.7H286.5V1408.9H286.9V1400.7H288.6V1408.9H289.0V1400.7H289.5V1384.4H289.9V1408.9H290.7V1384.4H291.1V1408.9H292.8V1400.7H293.2V1408.9H293.7V1400.7H295.3V1408.9H295.8V1384.4H296.2V1408.9H296.6V1400.7H297.4V1408.9H297.9V1400.7H298.7V1418.3H299.1V1408.9H300.4V1392.6H300.8V1408.9H302.1V1400.7H302.9V1408.9H303.3V1400.7H303.7V1418.3H304.2V1408.9H305.0V1418.3H305.8V1384.4H306.3V1392.6H306.7V1408.9H307.9V1400.7H308.4V1408.9H308.8V1392.6H309.2V1400.7H310.0V1384.4H310.5V1400.7H311.3V1408.9H312.6V1400.7H313.8V1384.4H314.2V1400.7H315.9V1408.9H316.3V1400.7H316.8V1408.9H318.0V1400.7H319.3V1408.9H320.1V1400.7H320.5V1418.3H321.0V1408.9H323.1V1400.7H323.5V1384.4H323.9V1400.7H325.6V1408.9H326.0V1400.7H327.3V1384.4H327.7V1400.7H328.5V1384.4H328.9V1408.9H329.8V1418.3H330.2V1408.9H330.6V1418.3H331.0V1408.9H332.7V1400.7H333.1V1408.9H334.8V1418.3H335.2V1408.9H337.3V1400.7H338.2V1408.9H339.4V1400.7H341.1V1408.9H341.5V1392.6H342.0V1400.7H342.8V1384.4H343.2V1408.9H344.5V1400.7H345.7V1408.9H347.0V1400.7H347.4V1408.9H347.8V1400.7H348.7V1408.9H349.5V1400.7H350.4V1418.3H350.8V1400.7H351.2V1392.6H351.6V1400.7H352.0V1384.4H352.5V1408.9H352.9V1400.7H353.3V1418.3H353.7V1384.4H354.1V1408.9H357.1V1400.7H358.8V1408.9H359.6V1392.6H360.0V1408.9H361.7V1400.7H363.0V1384.4H363.4V1408.9H365.1V1384.4H365.5V1408.9H366.7V1400.7H368.0V1408.9H368.8V1392.6H369.3V1400.7H369.7V1408.9H370.1V1392.6H370.5V1408.9H370.9V1400.7H371.4V1408.9H371.8V1392.6H372.2V1408.9H372.6V1400.7H373.0V1408.9H373.5V1400.7H375.1V1408.9H375.6V1400.7H376.0V1408.9H376.4V1400.7H376.8V1408.9H377.2V1400.7H377.7V1384.4H378.1V1400.7H380.2V1408.9H380.6V1400.7H381.0V1408.9H381.9V1400.7H382.3V1408.9H382.7V1384.4H383.1V1400.7H384.4V1384.4H384.8V1408.9H385.2V1400.7H385.6V1408.9H386.1V1400.7H387.7V1408.9H388.2V1400.7H388.6V1392.6H389.0V1408.9H389.8V1400.7H390.3V1408.9H390.7V1400.7H391.5V1408.9H393.2V1400.7H395.3V1384.4H395.7V1408.9H396.1V1400.7H398.7V1408.9H400.3V1400.7H402.4V1408.9H403.3V1400.7H403.7V1408.9H405.0V1400.7H405.4V1418.3H405.8V1408.9H406.2V1400.7H407.5V1408.9H409.6V1400.7H410.4V1408.9H410.8V1400.7H411.3V1408.9H412.5V1400.7H413.8V1408.9H415.0V1384.4H415.5V1408.9H415.9V1418.3H416.3V1400.7H418.0V1408.9H419.7V1384.4H420.1V1400.7H420.5V1408.9H420.9V1418.3H421.3V1400.7H423.4V1408.9H425.5V1392.6H426.4V1408.9H426.8V1400.7H428.1V1408.9H429.3V1400.7H430.2V1408.9H430.6V1400.7H431.4V1408.9H431.8V1400.7H432.3V1408.9H433.9V1400.7H434.4V1408.9H434.8V1400.7H435.2V1408.9H435.6V1400.7H436.0V1408.9H437.7V1392.6H438.6V1408.9H439.0V1400.7H439.8V1408.9H440.2V1400.7H441.1V1408.9H441.5V1400.7H441.9V1418.3H442.3V1408.9H443.2V1400.7H443.6V1418.3H444.0V1400.7H444.9V1392.6H446.1V1400.7H446.5V1392.6H447.0V1400.7H447.4V1418.3H447.8V1400.7H451.6V1408.9H452.0V1400.7H452.8V1408.9H453.3V1400.7H455.8V1408.9H456.2V1400.7H457.5V1408.9H457.9V1418.3H458.3V1408.9H460.0V1418.3H460.4V1408.9H460.8V1400.7H461.2V1408.9H461.7V1400.7H462.1V1408.9H462.5V1400.7H463.8V1408.9H464.2V1384.4H464.6V1408.9H476.4V1400.7H477.6V1392.6H478.0V1400.7H478.9V1408.9H480.1V1384.4H480.6V1400.7H481.4V1408.9H482.7V1400.7H483.1V1408.9H483.5V1400.7H484.8V1408.9H485.2V1392.6H485.6V1400.7H486.4V1408.9H486.9V1392.6H487.3V1408.9H489.0V1400.7H489.4V1408.9H489.8V1400.7H491.5V1408.9H492.3V1400.7H494.0V1408.9H494.4V1384.4H494.8V1400.7H495.3V1384.4H495.7V1400.7H496.9V1408.9H498.2V1400.7H498.6V1408.9H499.0V1400.7H501.1V1408.9H501.6V1384.4H502.4V1400.7H502.8V1392.6H503.7V1384.4H504.1V1400.7H504.9V1408.9H505.8V1400.7H506.2V1418.3H506.6V1408.9H507.9V1384.4H508.3V1392.6H508.7V1408.9H509.1V1400.7H509.5V1418.3H510.4V1408.9H511.2V1384.4H511.6V1400.7H512.1V1384.4H512.5V1408.9H512.9V1400.7H513.3V1408.9H513.7V1400.7H514.6V1384.4H515.0V1392.6H515.4V1408.9H515.8V1400.7H516.3V1408.9H516.7V1400.7H518.4V1408.9H519.2V1400.7H520.0V1392.6H520.9V1408.9H521.3V1384.4H521.7V1400.7H523.4V1408.9H524.2V1400.7H524.7V1408.9H525.9V1418.3H526.3V1400.7H527.2V1408.9H528.0V1400.7H529.7V1408.9H530.5V1392.6H531.0V1400.7H531.4V1408.9H531.8V1392.6H532.2V1408.9H532.6V1400.7H533.1V1408.9H533.5V1400.7H533.9V1408.9H534.3V1400.7H535.2V1418.3H536.0V1408.9H536.4V1400.7H537.3V1408.9H540.2V1400.7H540.6V1408.9H543.6V1400.7H544.0V1408.9H545.2V1400.7H545.7V1408.9H546.1V1400.7H546.5V1408.9H546.9V1400.7H548.6V1408.9H549.4V1400.7H549.9V1408.9H550.3V1400.7H551.5V1392.6H552.0V1408.9H552.8V1392.6H553.2V1400.7H553.6V1408.9H554.1V1400.7H554.9V1408.9H556.2V1400.7H557.8V1408.9H558.7V1400.7H559.5V1408.9H560.8V1392.6H561.2V1408.9H562.0V1384.4H562.5V1408.9H562.9V1400.7H563.3V1408.9H565.0V1400.7H565.8V1408.9H566.2V1400.7H567.1V1408.9H567.5V1400.7H567.9V1408.9H568.3V1400.7H568.8V1408.9H569.2V1400.7H569.6V1408.9H570.9V1392.6H571.3V1408.9H572.1V1400.7H572.5V1408.9H573.0V1400.7H573.4V1384.4H574.2V1392.6H575.1V1408.9H575.5V1400.7H576.7V1408.9H578.0V1400.7H578.4V1408.9H579.3V1384.4H579.7V1408.9H580.5V1400.7H580.9V1408.9H581.4V1418.3H581.8V1408.9H583.0V1400.7H583.5V1408.9H583.9V1400.7H584.3V1418.3H584.7V1400.7H586.4V1418.3H586.8V1408.9H587.7V1392.6H588.1V1400.7H589.3V1408.9H589.8V1400.7H590.2V1408.9H590.6V1392.6H591.0V1400.7H591.9V1408.9H592.3V1400.7H592.7V1408.9H593.5V1400.7H594.0V1408.9H595.6V1400.7H596.1V1408.9H596.9V1400.7H598.6V1408.9H599.0V1384.4H599.4V1408.9H600.3V1400.7H600.7V1408.9H601.5V1400.7H601.9V1408.9H602.4V1400.7H603.6V1408.9H604.5V1400.7H605.3V1408.9H606.6V1392.6H607.0V1400.7H609.1V1408.9H609.5V1400.7H611.6V1392.6H612.9V1408.9H614.1V1384.4H614.5V1408.9H615.0V1400.7H615.4V1384.4H616.2V1408.9H617.5V1392.6H617.9V1384.4H618.3V1400.7H618.7V1408.9H619.2V1392.6H619.6V1408.9H620.4V1384.4H620.8V1408.9H622.9V1400.7H624.6V1408.9H625.9V1400.7H628.4V1408.9H628.8V1400.7H629.2V1408.9H631.3V1400.7H632.6V1408.9H633.9V1400.7H634.3V1408.9H636.4V1400.7H637.2V1408.9H637.6V1400.7H638.5V1408.9H640.2V1392.6H640.6V1400.7H641.0V1408.9H641.4V1400.7H642.7V1408.9H644.4V1400.7H645.2V1408.9H646.9V1400.7H648.1V1408.9H649.0V1400.7H649.4V1408.9H649.8V1384.4H650.7V1408.9H651.1V1400.7H651.5V1408.9H652.3V1392.6H652.8V1400.7H653.2V1408.9H653.6V1400.7H654.4V1392.6H654.9V1408.9H655.3V1400.7H656.1V1408.9H656.5V1384.4H657.0V1408.9H660.7V1400.7H661.2V1408.9H661.6V1392.6H662.0V1408.9H662.4V1400.7H662.8V1392.6H663.3V1400.7H663.7V1408.9H664.5V1400.7H664.9V1408.9H665.8V1400.7H666.6V1408.9H667.5V1400.7H668.3V1408.9H669.6V1400.7H670.8V1408.9H672.5V1400.7H672.9V1392.6H673.3V1400.7H673.8V1408.9H674.6V1400.7H675.0V1384.4H675.4V1408.9H675.9V1400.7H677.1V1408.9H679.2V1400.7H680.5V1408.9H681.3V1400.7H682.6V1408.9H683.0V1392.6H683.4V1384.4H683.8V1408.9H684.3V1418.3H684.7V1400.7H685.1V1392.6H685.5V1400.7H686.4V1418.3H686.8V1408.9H688.5V1418.3H688.9V1400.7H689.3V1408.9H690.1V1400.7H691.0V1408.9H691.4V1400.7H692.2V1408.9H692.7V1400.7H694.8V1408.9H695.2V1400.7H696.0V1408.9H696.4V1418.3H696.9V1400.7H697.7V1418.3H698.1V1400.7H699.0V1408.9H699.4V1400.7H699.8V1408.9H701.1V1392.6H701.5V1408.9H701.9V1400.7H702.3V1384.4H702.7V1408.9H703.2V1400.7H703.6V1384.4H704.0V1418.3H704.4V1400.7H706.5V1408.9H707.4V1400.7H707.8V1392.6H708.2V1408.9H708.6V1392.6H709.0V1400.7H709.5V1408.9H710.7V1400.7H711.1V1418.3H711.6V1400.7H712.0V1408.9H713.2V1400.7H713.7V1408.9H714.5V1384.4H714.9V1400.7H716.2V1408.9H716.6V1400.7H719.5V1408.9H720.0V1392.6H720.8V1408.9H721.6V1400.7H722.1V1408.9H722.9V1400.7H723.3V1408.9H724.2V1384.4H724.6V1400.7H725.4V1408.9H726.7V1400.7H727.5V1408.9H730.0V1400.7H730.5V1408.9H730.9V1418.3H731.3V1400.7H731.7V1408.9H732.6V1384.4H733.0V1408.9H733.8V1400.7H734.7V1408.9H735.5V1400.7H735.9V1408.9H736.8V1400.7H737.6V1392.6H738.0V1400.7H740.5V1408.9H742.2V1400.7H742.6V1384.4H743.1V1400.7H743.9V1408.9H745.2V1400.7H745.6V1384.4H746.0V1400.7H748.5V1408.9H750.6V1418.3H751.0V1408.9H752.3V1400.7H752.7V1408.9H754.0V1392.6H754.4V1408.9H754.8V1400.7H755.7V1418.3H756.1V1408.9H757.3V1418.3H757.8V1400.7H758.2V1408.9H759.0V1384.4H759.4V1400.7H759.9V1408.9H760.3V1400.7H760.7V1408.9H761.1V1400.7H762.0V1384.4H762.4V1408.9H763.2V1400.7H763.6V1408.9H764.1V1400.7H764.5V1384.4H764.9V1400.7H765.3V1408.9H765.7V1400.7H766.2V1408.9H766.6V1400.7H767.0V1384.4H767.4V1408.9H767.8V1400.7H768.3V1408.9H768.7V1400.7H769.1V1408.9H769.5V1400.7H769.9V1408.9H770.4V1400.7H770.8V1408.9H771.6V1400.7H773.3V1408.9H773.7V1400.7H774.1V1408.9H775.0V1400.7H775.4V1408.9H776.2V1400.7H776.7V1408.9H777.1V1400.7H777.5V1418.3H778.3V1408.9H778.8V1392.6H779.2V1408.9H779.6V1418.3H780.0V1400.7H781.7V1408.9H782.5V1392.6H783.0V1418.3H783.4V1408.9H783.8V1400.7H784.2V1408.9H784.6V1400.7H785.9V1384.4H786.3V1408.9H787.2V1400.7H788.8V1408.9H789.7V1400.7H790.1V1408.9H791.8V1400.7H792.6V1392.6H793.5V1408.9H795.1V1400.7H796.4V1408.9H797.7V1400.7H798.5V1408.9H798.9V1418.3H799.3V1408.9H801.4V1384.4H801.9V1408.9H802.7V1400.7H803.1V1384.4H803.5V1408.9H804.0V1400.7H804.4V1384.4H805.2V1400.7H805.6V1384.4H806.5V1408.9H807.3V1392.6H807.7V1400.7H809.8V1408.9H810.7V1384.4H811.1V1408.9H811.5V1400.7H812.4V1408.9H813.2V1384.4H813.6V1400.7H814.0V1408.9H814.9V1400.7H817.4V1408.9H817.8V1400.7H818.7V1384.4H819.1V1400.7H819.9V1384.4H820.8V1418.3H821.2V1384.4H821.6V1408.9H822.0V1392.6H822.4V1400.7H823.3V1408.9H824.5V1384.4H825.0V1400.7H825.8V1408.9H827.1V1384.4H827.9V1408.9H829.2V1400.7H831.3V1418.3H831.7V1400.7H832.1V1408.9H832.9V1384.4H833.4V1400.7H833.8V1392.6H834.2V1408.9H838.4V1400.7H838.8V1408.9H839.2V1400.7H839.7V1408.9H840.5V1400.7H840.9V1408.9H841.3V1392.6H841.8V1400.7H842.2V1408.9H843.0V1400.7H843.4V1408.9H845.1V1400.7H845.5V1408.9H846.0V1400.7H846.4V1408.9H846.8V1400.7H847.6V1418.3H848.1V1408.9H849.3V1392.6H849.7V1408.9H850.2V1400.7H851.0V1408.9H851.8V1392.6H852.3V1384.4H852.7V1392.6H853.1V1408.9H853.9V1400.7H854.4V1408.9H855.2V1400.7H855.6V1392.6H856.0V1400.7H856.5V1392.6H856.9V1400.7H858.1V1408.9H859.0V1400.7H859.4V1408.9H861.1V1400.7H861.5V1408.9H862.8V1384.4H863.2V1408.9H864.0V1400.7H865.3V1408.9H867.0V1384.4H867.4V1400.7H868.2V1408.9H869.1V1400.7H869.5V1392.6H869.9V1408.9H870.3V1400.7H872.0V1408.9H872.4V1400.7H872.8V1408.9H873.7V1400.7H874.5V1408.9H874.9V1400.7H875.8V1418.3H876.2V1408.9H878.3V1392.6H878.7V1408.9H879.6V1384.4H880.0V1400.7H881.2V1418.3H882.1V1400.7H882.5V1408.9H884.2V1400.7H884.6V1408.9H886.3V1384.4H886.7V1400.7H887.5V1408.9H888.0V1384.4H888.4V1408.9H889.6V1400.7H890.5V1408.9H891.3V1400.7H891.7V1408.9H892.2V1400.7H894.7V1408.9H895.5V1400.7H895.9V1408.9H898.5V1400.7H899.3V1408.9H901.0V1392.6H901.4V1400.7H901.8V1408.9H903.1V1400.7H903.9V1408.9H905.6V1400.7H906.0V1408.9H907.3V1400.7H908.1V1408.9H908.5V1400.7H909.0V1408.9H910.6V1400.7H911.5V1408.9H912.3V1400.7H913.6V1408.9H914.0V1400.7H915.3V1408.9H916.1V1400.7H916.5V1408.9H916.9V1400.7H917.4V1408.9H917.8V1400.7H918.2V1384.4H918.6V1400.7H919.5V1408.9H921.1V1400.7H921.6V1408.9H923.2V1400.7H924.5V1408.9H925.3V1400.7H926.2V1408.9H926.6V1400.7H927.0V1408.9H928.7V1400.7H929.5V1408.9H930.0V1400.7H930.4V1408.9H930.8V1400.7H931.6V1408.9H932.5V1400.7H932.9V1408.9H933.3V1400.7H936.7V1392.6H937.1V1400.7H937.5V1408.9H938.4V1392.6H938.8V1408.9H939.6V1400.7H940.0V1408.9H940.5V1392.6H940.9V1408.9H942.1V1400.7H942.6V1408.9H943.0V1400.7H943.4V1384.4H943.8V1408.9H944.7V1400.7H945.5V1384.4H946.3V1400.7H948.0V1408.9H948.4V1400.7H950.1V1408.9H950.5V1400.7H951.0V1408.9H951.4V1400.7H951.8V1408.9H952.6V1400.7H953.5V1408.9H956.0V1400.7H957.3V1408.9H960.6V1400.7H961.0V1408.9H961.5V1384.4H961.9V1408.9H964.4V1392.6H964.8V1408.9H965.2V1400.7H965.7V1408.9H966.1V1400.7H966.9V1408.9H968.6V1400.7H969.0V1408.9H969.4V1400.7H969.9V1408.9H970.3V1400.7H971.1V1392.6H971.5V1400.7H972.8V1384.4H973.2V1400.7H973.6V1408.9H974.9V1384.4H975.3V1400.7H975.7V1392.6H976.2V1408.9H994.2V1418.3H1001.8V1400.7H1002.2V1392.6H1003.0V1408.9H1003.9V1400.7H1005.1V1408.9H1008.5V1392.6H1008.9V1400.7H1009.8V1408.9H1010.2V1400.7H1011.0V1408.9H1012.3V1400.7H1012.7V1384.4H1013.5V1400.7H1014.0V1408.9H1014.4V1400.7H1014.8V1392.6H1015.6V1384.4H1016.1V1408.9H1019.0V1418.3H1021.9V1408.9H1028.7V1384.4H1029.1V1408.9H1029.5V1400.7H1029.9V1408.9H1031.6V1384.4H1032.0V1408.9H1033.3V1400.7H1035.0V1408.9H1035.8V1400.7H1036.6V1392.6H1037.1V1408.9H1037.9V1400.7H1038.3V1408.9H1040.0V1418.3H1040.4V1400.7H1040.8V1408.9H1041.3V1400.7H1042.1V1408.9H1043.4V1400.7H1043.8V1408.9H1044.2V1384.4H1044.6V1400.7H1045.0V1392.6H1045.5V1400.7H1046.3V1408.9H1048.4V1418.3H1048.8V1400.7H1049.7V1408.9H1050.1V1384.4H1050.5V1408.9H1065.6V1418.3H1066.0V1400.7H1066.5V1408.9H1066.9V1400.7H1067.3V1408.9H1067.7V1400.7H1068.6V1408.9H1069.8V1418.3H1070.2V1384.4H1070.7V1400.7H1071.5V1408.9H1071.9V1400.7H1072.8V1408.9H1074.0V1392.6H1074.4V1418.3H1074.9V1400.7H1075.7V1418.3H1076.1V1400.7H1077.0V1408.9H1077.4V1400.7H1077.8V1408.9H1078.6V1400.7H1079.1V1408.9H1080.3V1400.7H1080.7V1408.9H1081.2V1400.7H1081.6V1408.9H1084.5V1384.4H1084.9V1400.7H1087.0V1408.9H1090.8V1400.7H1092.1V1408.9H1098.0V1418.3H1098.4V1408.9H1098.8V1400.7H1099.6V1408.9H1100.1V1418.3H1100.5V1400.7H1103.8V1408.9H1104.7V1384.4H1105.1V1408.9H1105.5V1384.4H1105.9V1408.9H1106.4V1384.4H1106.8V1408.9H1107.2V1400.7H1108.0V1408.9H1108.5V1400.7H1108.9V1384.4H1110.1V1408.9H1111.8V1392.6H1112.2V1400.7H1112.7V1392.6H1113.1V1408.9H1114.8V1400.7H1115.2V1408.9H1115.6V1400.7H1116.0V1408.9H1116.4V1418.3H1116.9V1400.7H1117.3V1408.9H1117.7V1392.6H1118.1V1400.7H1118.5V1392.6H1119.0V1400.7H1119.4V1408.9H1119.8V1400.7H1120.2V1384.4H1120.6V1408.9H1121.1V1400.7H1121.5V1408.9H1121.9V1384.4H1122.3V1408.9H1122.7V1392.6H1123.2V1408.9H1124.8V1400.7H1125.3V1384.4H1125.7V1418.3H1126.1V1408.9H1126.9V1400.7H1127.4V1408.9H1127.8V1400.7H1128.2V1408.9H1133.7V1400.7H1137.9V1408.9H1140.0V1400.7H1140.4V1408.9H1141.2V1400.7H1142.1V1384.4H1142.5V1408.9H1143.7V1400.7H1144.6V1408.9H1145.0V1400.7H1145.4V1392.6H1145.8V1400.7H1147.5V1408.9H1148.4V1418.3H1148.8V1408.9H1150.9V1400.7H1151.7V1408.9H1152.1V1400.7H1153.0V1408.9H1154.2V1400.7H1154.2" fill="none" stroke="#ffff00" stroke-width="1.35"/>
<rect x="165.5" y="1308.5" width="989.0" height="161.0" fill="none" stroke="#262626" stroke-width="1.3"/>
<line x1="165.5" y1="1389" x2="175.5" y2="1389" stroke="#262626" stroke-width="1.3"/>
<line x1="1144.5" y1="1389" x2="1154.5" y2="1389" stroke="#262626" stroke-width="1.3"/>
<line x1="412.6" y1="1308.5" x2="412.6" y2="1318.5" stroke="#262626" stroke-width="1.3"/>
<line x1="412.6" y1="1459.5" x2="412.6" y2="1469.5" stroke="#262626" stroke-width="1.3"/>
<line x1="659.7" y1="1308.5" x2="659.7" y2="1318.5" stroke="#262626" stroke-width="1.3"/>
<line x1="659.7" y1="1459.5" x2="659.7" y2="1469.5" stroke="#262626" stroke-width="1.3"/>
<line x1="906.9" y1="1308.5" x2="906.9" y2="1318.5" stroke="#262626" stroke-width="1.3"/>
<line x1="906.9" y1="1459.5" x2="906.9" y2="1469.5" stroke="#262626" stroke-width="1.3"/>
<text x="156" y="1315.4" font-size="22" text-anchor="end" textLength="36" lengthAdjust="spacingAndGlyphs" fill="#262626">100</text>
<text x="156" y="1395.8" font-size="22" text-anchor="end" textLength="11.5" lengthAdjust="spacingAndGlyphs" fill="#262626">0</text>
<text x="156" y="1476.2" font-size="22" text-anchor="end" textLength="44.5" lengthAdjust="spacingAndGlyphs" fill="#262626">-100</text>
<text transform="translate(71.8,1389.5) rotate(-90)" font-size="19.3" font-weight="bold" text-anchor="middle" textLength="82" lengthAdjust="spacingAndGlyphs" fill="#262626">Voltage</text>
<text transform="translate(96.5,1389) rotate(-90)" font-size="19.3" font-weight="bold" text-anchor="middle" textLength="48" lengthAdjust="spacingAndGlyphs" fill="#262626">(mV)</text>
<text transform="translate(1170,1377.3) rotate(-90)" font-size="15" font-weight="bold" text-anchor="middle" textLength="125" lengthAdjust="spacingAndGlyphs">Inboard VMon1</text>
<text transform="translate(1182,1377.3) rotate(-90)" font-size="15" font-weight="bold" text-anchor="middle" textLength="125" lengthAdjust="spacingAndGlyphs">Inboard VMon2</text>
<text transform="translate(1193.6,1378.2) rotate(-90)" font-size="15" font-weight="bold" text-anchor="middle" textLength="139" lengthAdjust="spacingAndGlyphs">Outboard VMon1</text>
<text transform="translate(1205,1378.2) rotate(-90)" font-size="15" font-weight="bold" text-anchor="middle" textLength="139" lengthAdjust="spacingAndGlyphs">Outboard VMon2</text>
<line x1="1168" y1="1462.4" x2="1168" y2="1477.6" stroke="#0000ff" stroke-width="2.2"/>
<line x1="1179.7" y1="1462.4" x2="1179.7" y2="1477.6" stroke="#00ffff" stroke-width="2.2"/>
<line x1="1191.8" y1="1462.4" x2="1191.8" y2="1477.6" stroke="#00ff00" stroke-width="2.2"/>
<line x1="1202.7" y1="1462.4" x2="1202.7" y2="1477.6" stroke="#ffff00" stroke-width="2.2"/>
<text x="41.2" y="1498.6" font-size="14.5" font-weight="bold" textLength="45" lengthAdjust="spacingAndGlyphs">Time:</text>
<text x="41.2" y="1518.8" font-size="14.5" font-weight="bold" textLength="75" lengthAdjust="spacingAndGlyphs">Rad(km):</text>
<text x="41.2" y="1539.5" font-size="14.5" font-weight="bold" textLength="32" lengthAdjust="spacingAndGlyphs">Lat:</text>
<text x="41.2" y="1560.2" font-size="14.5" font-weight="bold" textLength="35" lengthAdjust="spacingAndGlyphs">Lon:</text>
<text x="41.2" y="1580.4" font-size="14.5" font-weight="bold" textLength="42" lengthAdjust="spacingAndGlyphs">Mlat:</text>
<text x="41.2" y="1601.1" font-size="14.5" font-weight="bold" textLength="32" lengthAdjust="spacingAndGlyphs">Mlt:</text>
<text x="165.5" y="1498.6" font-size="14.5" font-weight="bold" text-anchor="middle" textLength="71.1" lengthAdjust="spacingAndGlyphs">03:04:15</text>
<text x="165.5" y="1518.8" font-size="14.5" font-weight="bold" text-anchor="middle" textLength="55.1" lengthAdjust="spacingAndGlyphs">7324.1</text>
<text x="165.5" y="1539.5" font-size="14.5" font-weight="bold" text-anchor="middle" textLength="35.2" lengthAdjust="spacingAndGlyphs">36.9</text>
<text x="165.5" y="1560.2" font-size="14.5" font-weight="bold" text-anchor="middle" textLength="41.2" lengthAdjust="spacingAndGlyphs">-66.9</text>
<text x="165.5" y="1580.4" font-size="14.5" font-weight="bold" text-anchor="middle" textLength="35.2" lengthAdjust="spacingAndGlyphs">46.3</text>
<text x="165.5" y="1601.1" font-size="14.5" font-weight="bold" text-anchor="middle" textLength="55.2" lengthAdjust="spacingAndGlyphs">22.640</text>
<text x="412.6" y="1498.6" font-size="14.5" font-weight="bold" text-anchor="middle" textLength="71.1" lengthAdjust="spacingAndGlyphs">03:12:20</text>
<text x="412.6" y="1518.8" font-size="14.5" font-weight="bold" text-anchor="middle" textLength="55.1" lengthAdjust="spacingAndGlyphs">7082.6</text>
<text x="412.6" y="1539.5" font-size="14.5" font-weight="bold" text-anchor="middle" textLength="35.2" lengthAdjust="spacingAndGlyphs">64.5</text>
<text x="412.6" y="1560.2" font-size="14.5" font-weight="bold" text-anchor="middle" textLength="41.2" lengthAdjust="spacingAndGlyphs">-56.3</text>
<text x="412.6" y="1580.4" font-size="14.5" font-weight="bold" text-anchor="middle" textLength="35.2" lengthAdjust="spacingAndGlyphs">73.4</text>
<text x="412.6" y="1601.1" font-size="14.5" font-weight="bold" text-anchor="middle" textLength="55.2" lengthAdjust="spacingAndGlyphs">23.996</text>
<text x="659.7" y="1498.6" font-size="14.5" font-weight="bold" text-anchor="middle" textLength="71.1" lengthAdjust="spacingAndGlyphs">03:20:25</text>
<text x="659.7" y="1518.8" font-size="14.5" font-weight="bold" text-anchor="middle" textLength="55.1" lengthAdjust="spacingAndGlyphs">6859.3</text>
<text x="659.7" y="1539.5" font-size="14.5" font-weight="bold" text-anchor="middle" textLength="35.2" lengthAdjust="spacingAndGlyphs">78.8</text>
<text x="659.7" y="1560.2" font-size="14.5" font-weight="bold" text-anchor="middle" textLength="35.2" lengthAdjust="spacingAndGlyphs">48.7</text>
<text x="659.7" y="1580.4" font-size="14.5" font-weight="bold" text-anchor="middle" textLength="35.2" lengthAdjust="spacingAndGlyphs">72.0</text>
<text x="659.7" y="1601.1" font-size="14.5" font-weight="bold" text-anchor="middle" textLength="45.2" lengthAdjust="spacingAndGlyphs">8.287</text>
<text x="906.9" y="1498.6" font-size="14.5" font-weight="bold" text-anchor="middle" textLength="71.1" lengthAdjust="spacingAndGlyphs">03:28:30</text>
<text x="906.9" y="1518.8" font-size="14.5" font-weight="bold" text-anchor="middle" textLength="55.1" lengthAdjust="spacingAndGlyphs">6719.3</text>
<text x="906.9" y="1539.5" font-size="14.5" font-weight="bold" text-anchor="middle" textLength="35.2" lengthAdjust="spacingAndGlyphs">50.2</text>
<text x="906.9" y="1560.2" font-size="14.5" font-weight="bold" text-anchor="middle" textLength="35.2" lengthAdjust="spacingAndGlyphs">89.1</text>
<text x="906.9" y="1580.4" font-size="14.5" font-weight="bold" text-anchor="middle" textLength="35.2" lengthAdjust="spacingAndGlyphs">41.2</text>
<text x="906.9" y="1601.1" font-size="14.5" font-weight="bold" text-anchor="middle" textLength="45.2" lengthAdjust="spacingAndGlyphs">9.556</text>
<text x="1154" y="1498.6" font-size="14.5" font-weight="bold" text-anchor="middle" textLength="71.1" lengthAdjust="spacingAndGlyphs">03:36:36</text>
<text x="1154" y="1518.8" font-size="14.5" font-weight="bold" text-anchor="middle" textLength="55.1" lengthAdjust="spacingAndGlyphs">6707.9</text>
<text x="1154" y="1539.5" font-size="14.5" font-weight="bold" text-anchor="middle" textLength="35.2" lengthAdjust="spacingAndGlyphs">17.8</text>
<text x="1154" y="1560.2" font-size="14.5" font-weight="bold" text-anchor="middle" textLength="35.2" lengthAdjust="spacingAndGlyphs">95.2</text>
<text x="1154" y="1580.4" font-size="14.5" font-weight="bold" text-anchor="middle" textLength="25.3" lengthAdjust="spacingAndGlyphs">8.6</text>
<text x="1154" y="1601.1" font-size="14.5" font-weight="bold" text-anchor="middle" textLength="45.2" lengthAdjust="spacingAndGlyphs">9.933</text>
<text x="21.6" y="1639.7" font-size="14.5" font-weight="bold" textLength="1228.5" lengthAdjust="spacingAndGlyphs">MGF Quicklook using MGF_20190805_030414_033635_v2.1.0.lv2 on 24-Nov-2021 20:23:08 (calibration from cas_mgf_7day_cal_2019_08_02_v2.1.mat )</text>
</svg></body></html>
